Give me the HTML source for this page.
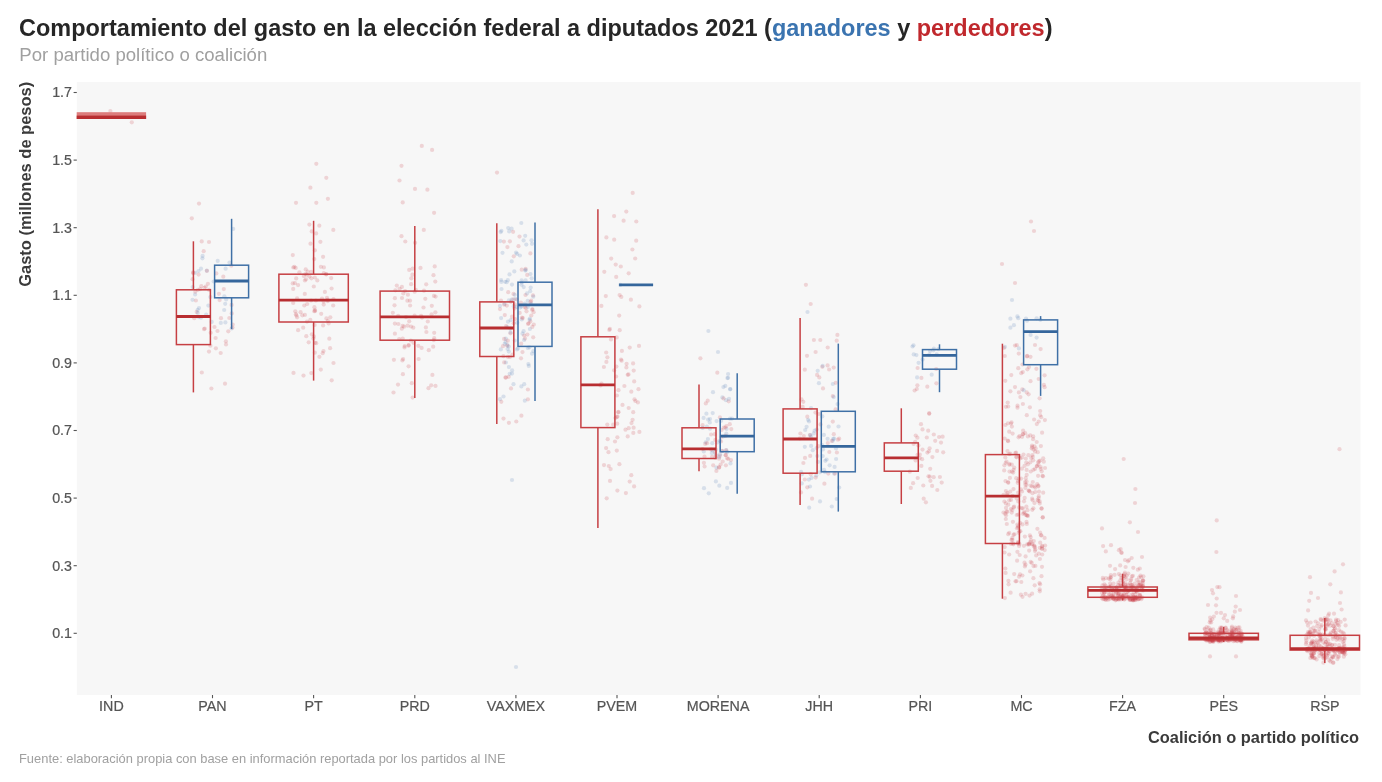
<!DOCTYPE html>
<html lang="es"><head><meta charset="utf-8"><title>Comportamiento del gasto</title>
<style>
html,body{margin:0;padding:0;background:#fff;overflow:hidden;}
svg{display:block;}
text{font-family:"Liberation Sans",Arial,Helvetica,sans-serif;}
.title{font-size:23px;font-weight:bold;fill:#262626;}
.sub{font-size:18px;fill:#a0a0a0;}
.ax{font-size:16px;font-weight:bold;fill:#3a3a3a;}
.cap{font-size:13px;fill:#a0a0a0;}
.tk{font-size:14px;fill:#555;stroke:#555;stroke-width:0.2px;}
</style></head><body>
<svg width="1382" height="782" viewBox="0 0 1382 782">
<rect x="0" y="0" width="1382" height="782" fill="#fff"/>
<rect x="76.8" y="82.0" width="1283.7" height="613.0" fill="#f7f7f7"/>
<line x1="73.6" y1="92.5" x2="76.8" y2="92.5" stroke="#555" stroke-width="1.1"/>
<text transform="translate(72.0,97.3) scale(1.02,1)" text-anchor="end" class="tk">1.7</text>
<line x1="73.6" y1="160.1" x2="76.8" y2="160.1" stroke="#555" stroke-width="1.1"/>
<text transform="translate(72.0,164.9) scale(1.02,1)" text-anchor="end" class="tk">1.5</text>
<line x1="73.6" y1="227.7" x2="76.8" y2="227.7" stroke="#555" stroke-width="1.1"/>
<text transform="translate(72.0,232.5) scale(1.02,1)" text-anchor="end" class="tk">1.3</text>
<line x1="73.6" y1="295.3" x2="76.8" y2="295.3" stroke="#555" stroke-width="1.1"/>
<text transform="translate(72.0,300.1) scale(1.02,1)" text-anchor="end" class="tk">1.1</text>
<line x1="73.6" y1="362.9" x2="76.8" y2="362.9" stroke="#555" stroke-width="1.1"/>
<text transform="translate(72.0,367.7) scale(1.02,1)" text-anchor="end" class="tk">0.9</text>
<line x1="73.6" y1="430.5" x2="76.8" y2="430.5" stroke="#555" stroke-width="1.1"/>
<text transform="translate(72.0,435.3) scale(1.02,1)" text-anchor="end" class="tk">0.7</text>
<line x1="73.6" y1="498.1" x2="76.8" y2="498.1" stroke="#555" stroke-width="1.1"/>
<text transform="translate(72.0,502.9) scale(1.02,1)" text-anchor="end" class="tk">0.5</text>
<line x1="73.6" y1="565.7" x2="76.8" y2="565.7" stroke="#555" stroke-width="1.1"/>
<text transform="translate(72.0,570.5) scale(1.02,1)" text-anchor="end" class="tk">0.3</text>
<line x1="73.6" y1="633.3" x2="76.8" y2="633.3" stroke="#555" stroke-width="1.1"/>
<text transform="translate(72.0,638.1) scale(1.02,1)" text-anchor="end" class="tk">0.1</text>
<line x1="111.4" y1="695.0" x2="111.4" y2="698.2" stroke="#555" stroke-width="1.1"/>
<text transform="translate(111.4,711.0) scale(1.02,1)" text-anchor="middle" class="tk">IND</text>
<line x1="212.5" y1="695.0" x2="212.5" y2="698.2" stroke="#555" stroke-width="1.1"/>
<text transform="translate(212.5,711.0) scale(1.02,1)" text-anchor="middle" class="tk">PAN</text>
<line x1="313.6" y1="695.0" x2="313.6" y2="698.2" stroke="#555" stroke-width="1.1"/>
<text transform="translate(313.6,711.0) scale(1.02,1)" text-anchor="middle" class="tk">PT</text>
<line x1="414.8" y1="695.0" x2="414.8" y2="698.2" stroke="#555" stroke-width="1.1"/>
<text transform="translate(414.8,711.0) scale(1.02,1)" text-anchor="middle" class="tk">PRD</text>
<line x1="515.9" y1="695.0" x2="515.9" y2="698.2" stroke="#555" stroke-width="1.1"/>
<text transform="translate(515.9,711.0) scale(1.02,1)" text-anchor="middle" class="tk">VAXMEX</text>
<line x1="617.0" y1="695.0" x2="617.0" y2="698.2" stroke="#555" stroke-width="1.1"/>
<text transform="translate(617.0,711.0) scale(1.02,1)" text-anchor="middle" class="tk">PVEM</text>
<line x1="718.1" y1="695.0" x2="718.1" y2="698.2" stroke="#555" stroke-width="1.1"/>
<text transform="translate(718.1,711.0) scale(1.02,1)" text-anchor="middle" class="tk">MORENA</text>
<line x1="819.2" y1="695.0" x2="819.2" y2="698.2" stroke="#555" stroke-width="1.1"/>
<text transform="translate(819.2,711.0) scale(1.02,1)" text-anchor="middle" class="tk">JHH</text>
<line x1="920.4" y1="695.0" x2="920.4" y2="698.2" stroke="#555" stroke-width="1.1"/>
<text transform="translate(920.4,711.0) scale(1.02,1)" text-anchor="middle" class="tk">PRI</text>
<line x1="1021.5" y1="695.0" x2="1021.5" y2="698.2" stroke="#555" stroke-width="1.1"/>
<text transform="translate(1021.5,711.0) scale(1.02,1)" text-anchor="middle" class="tk">MC</text>
<line x1="1122.6" y1="695.0" x2="1122.6" y2="698.2" stroke="#555" stroke-width="1.1"/>
<text transform="translate(1122.6,711.0) scale(1.02,1)" text-anchor="middle" class="tk">FZA</text>
<line x1="1223.7" y1="695.0" x2="1223.7" y2="698.2" stroke="#555" stroke-width="1.1"/>
<text transform="translate(1223.7,711.0) scale(1.02,1)" text-anchor="middle" class="tk">PES</text>
<line x1="1324.8" y1="695.0" x2="1324.8" y2="698.2" stroke="#555" stroke-width="1.1"/>
<text transform="translate(1324.8,711.0) scale(1.02,1)" text-anchor="middle" class="tk">RSP</text>
<g>
<circle cx="333.3" cy="229.9" r="2.1" fill="#cc3a44" fill-opacity="0.19"/>
<circle cx="1314.6" cy="648.6" r="2.1" fill="#cc3a44" fill-opacity="0.19"/>
<circle cx="1210.8" cy="629.7" r="2.1" fill="#cc3a44" fill-opacity="0.19"/>
<circle cx="1028.4" cy="455.2" r="2.1" fill="#cc3a44" fill-opacity="0.19"/>
<circle cx="1041.4" cy="535.3" r="2.1" fill="#cc3a44" fill-opacity="0.19"/>
<circle cx="1206.7" cy="640.7" r="2.1" fill="#cc3a44" fill-opacity="0.19"/>
<circle cx="932.1" cy="485.9" r="2.1" fill="#cc3a44" fill-opacity="0.19"/>
<circle cx="403.1" cy="359.1" r="2.1" fill="#cc3a44" fill-opacity="0.19"/>
<circle cx="528.8" cy="365.9" r="2.1" fill="#4f7bb3" fill-opacity="0.19"/>
<circle cx="226.2" cy="299.5" r="2.1" fill="#4f7bb3" fill-opacity="0.19"/>
<circle cx="1218.6" cy="640.1" r="2.1" fill="#cc3a44" fill-opacity="0.19"/>
<circle cx="1212.1" cy="640.0" r="2.1" fill="#cc3a44" fill-opacity="0.19"/>
<circle cx="715.5" cy="453.9" r="2.1" fill="#4f7bb3" fill-opacity="0.19"/>
<circle cx="519.7" cy="312.9" r="2.1" fill="#cc3a44" fill-opacity="0.19"/>
<circle cx="1345.3" cy="654.3" r="2.1" fill="#cc3a44" fill-opacity="0.19"/>
<circle cx="506.1" cy="326.1" r="2.1" fill="#cc3a44" fill-opacity="0.19"/>
<circle cx="702.6" cy="449.0" r="2.1" fill="#cc3a44" fill-opacity="0.19"/>
<circle cx="225.2" cy="303.8" r="2.1" fill="#4f7bb3" fill-opacity="0.19"/>
<circle cx="1114.5" cy="597.4" r="2.1" fill="#cc3a44" fill-opacity="0.19"/>
<circle cx="1334.3" cy="649.2" r="2.1" fill="#cc3a44" fill-opacity="0.19"/>
<circle cx="708.1" cy="419.6" r="2.1" fill="#4f7bb3" fill-opacity="0.19"/>
<circle cx="1010.6" cy="592.7" r="2.1" fill="#cc3a44" fill-opacity="0.19"/>
<circle cx="1206.1" cy="638.5" r="2.1" fill="#cc3a44" fill-opacity="0.19"/>
<circle cx="634.1" cy="486.4" r="2.1" fill="#cc3a44" fill-opacity="0.19"/>
<circle cx="1038.3" cy="500.9" r="2.1" fill="#cc3a44" fill-opacity="0.19"/>
<circle cx="1116.5" cy="592.2" r="2.1" fill="#cc3a44" fill-opacity="0.19"/>
<circle cx="836.9" cy="452.5" r="2.1" fill="#cc3a44" fill-opacity="0.19"/>
<circle cx="818.9" cy="383.2" r="2.1" fill="#4f7bb3" fill-opacity="0.19"/>
<circle cx="521.5" cy="306.6" r="2.1" fill="#4f7bb3" fill-opacity="0.19"/>
<circle cx="1212.2" cy="619.3" r="2.1" fill="#cc3a44" fill-opacity="0.19"/>
<circle cx="295.7" cy="267.9" r="2.1" fill="#cc3a44" fill-opacity="0.19"/>
<circle cx="1210.4" cy="641.9" r="2.1" fill="#cc3a44" fill-opacity="0.19"/>
<circle cx="214.5" cy="327.0" r="2.1" fill="#cc3a44" fill-opacity="0.19"/>
<circle cx="1039.8" cy="547.8" r="2.1" fill="#cc3a44" fill-opacity="0.19"/>
<circle cx="803.4" cy="463.0" r="2.1" fill="#cc3a44" fill-opacity="0.19"/>
<circle cx="936.2" cy="369.0" r="2.1" fill="#cc3a44" fill-opacity="0.19"/>
<circle cx="329.3" cy="338.7" r="2.1" fill="#cc3a44" fill-opacity="0.19"/>
<circle cx="231.6" cy="328.5" r="2.1" fill="#4f7bb3" fill-opacity="0.19"/>
<circle cx="1031.7" cy="448.4" r="2.1" fill="#cc3a44" fill-opacity="0.19"/>
<circle cx="1040.2" cy="460.6" r="2.1" fill="#cc3a44" fill-opacity="0.19"/>
<circle cx="1111.2" cy="595.2" r="2.1" fill="#cc3a44" fill-opacity="0.19"/>
<circle cx="1340.4" cy="652.1" r="2.1" fill="#cc3a44" fill-opacity="0.19"/>
<circle cx="1031.0" cy="221.5" r="2.1" fill="#cc3a44" fill-opacity="0.19"/>
<circle cx="1115.1" cy="569.1" r="2.1" fill="#cc3a44" fill-opacity="0.19"/>
<circle cx="1009.2" cy="554.5" r="2.1" fill="#cc3a44" fill-opacity="0.19"/>
<circle cx="811.5" cy="477.9" r="2.1" fill="#4f7bb3" fill-opacity="0.19"/>
<circle cx="703.9" cy="462.8" r="2.1" fill="#cc3a44" fill-opacity="0.19"/>
<circle cx="1103.1" cy="595.6" r="2.1" fill="#cc3a44" fill-opacity="0.19"/>
<circle cx="723.6" cy="436.3" r="2.1" fill="#4f7bb3" fill-opacity="0.19"/>
<circle cx="910.8" cy="487.9" r="2.1" fill="#cc3a44" fill-opacity="0.19"/>
<circle cx="1132.9" cy="575.8" r="2.1" fill="#cc3a44" fill-opacity="0.19"/>
<circle cx="1326.1" cy="648.7" r="2.1" fill="#cc3a44" fill-opacity="0.19"/>
<circle cx="1214.6" cy="639.9" r="2.1" fill="#cc3a44" fill-opacity="0.19"/>
<circle cx="1032.2" cy="446.9" r="2.1" fill="#cc3a44" fill-opacity="0.19"/>
<circle cx="1019.5" cy="544.0" r="2.1" fill="#cc3a44" fill-opacity="0.19"/>
<circle cx="1022.5" cy="596.8" r="2.1" fill="#cc3a44" fill-opacity="0.19"/>
<circle cx="317.3" cy="280.4" r="2.1" fill="#cc3a44" fill-opacity="0.19"/>
<circle cx="728.7" cy="401.3" r="2.1" fill="#cc3a44" fill-opacity="0.19"/>
<circle cx="1025.5" cy="564.7" r="2.1" fill="#cc3a44" fill-opacity="0.19"/>
<circle cx="1018.3" cy="368.2" r="2.1" fill="#cc3a44" fill-opacity="0.19"/>
<circle cx="326.2" cy="274.2" r="2.1" fill="#cc3a44" fill-opacity="0.19"/>
<circle cx="513.9" cy="306.2" r="2.1" fill="#4f7bb3" fill-opacity="0.19"/>
<circle cx="1126.4" cy="587.4" r="2.1" fill="#cc3a44" fill-opacity="0.19"/>
<circle cx="311.3" cy="373.1" r="2.1" fill="#cc3a44" fill-opacity="0.19"/>
<circle cx="816.6" cy="448.1" r="2.1" fill="#4f7bb3" fill-opacity="0.19"/>
<circle cx="617.4" cy="490.6" r="2.1" fill="#cc3a44" fill-opacity="0.19"/>
<circle cx="1340.0" cy="603.0" r="2.1" fill="#cc3a44" fill-opacity="0.19"/>
<circle cx="1033.4" cy="578.2" r="2.1" fill="#cc3a44" fill-opacity="0.19"/>
<circle cx="1018.3" cy="501.4" r="2.1" fill="#cc3a44" fill-opacity="0.19"/>
<circle cx="1334.6" cy="571.4" r="2.1" fill="#cc3a44" fill-opacity="0.19"/>
<circle cx="1003.5" cy="512.6" r="2.1" fill="#cc3a44" fill-opacity="0.19"/>
<circle cx="1320.6" cy="634.8" r="2.1" fill="#cc3a44" fill-opacity="0.19"/>
<circle cx="719.1" cy="467.4" r="2.1" fill="#cc3a44" fill-opacity="0.19"/>
<circle cx="1118.2" cy="595.7" r="2.1" fill="#cc3a44" fill-opacity="0.19"/>
<circle cx="1117.6" cy="599.1" r="2.1" fill="#cc3a44" fill-opacity="0.19"/>
<circle cx="1216.4" cy="552.0" r="2.1" fill="#cc3a44" fill-opacity="0.19"/>
<circle cx="517.9" cy="348.5" r="2.1" fill="#4f7bb3" fill-opacity="0.19"/>
<circle cx="610.0" cy="480.9" r="2.1" fill="#cc3a44" fill-opacity="0.19"/>
<circle cx="1231.2" cy="630.1" r="2.1" fill="#cc3a44" fill-opacity="0.19"/>
<circle cx="1307.4" cy="651.2" r="2.1" fill="#cc3a44" fill-opacity="0.19"/>
<circle cx="1007.9" cy="423.3" r="2.1" fill="#cc3a44" fill-opacity="0.19"/>
<circle cx="1237.8" cy="638.8" r="2.1" fill="#cc3a44" fill-opacity="0.19"/>
<circle cx="1022.0" cy="491.5" r="2.1" fill="#cc3a44" fill-opacity="0.19"/>
<circle cx="919.7" cy="458.0" r="2.1" fill="#cc3a44" fill-opacity="0.19"/>
<circle cx="1207.5" cy="639.2" r="2.1" fill="#cc3a44" fill-opacity="0.19"/>
<circle cx="1032.0" cy="445.5" r="2.1" fill="#cc3a44" fill-opacity="0.19"/>
<circle cx="532.4" cy="309.0" r="2.1" fill="#cc3a44" fill-opacity="0.19"/>
<circle cx="1021.3" cy="582.0" r="2.1" fill="#cc3a44" fill-opacity="0.19"/>
<circle cx="295.3" cy="311.3" r="2.1" fill="#cc3a44" fill-opacity="0.19"/>
<circle cx="805.0" cy="457.9" r="2.1" fill="#cc3a44" fill-opacity="0.19"/>
<circle cx="1345.6" cy="650.0" r="2.1" fill="#cc3a44" fill-opacity="0.19"/>
<circle cx="1004.9" cy="346.9" r="2.1" fill="#4f7bb3" fill-opacity="0.19"/>
<circle cx="1113.5" cy="583.6" r="2.1" fill="#cc3a44" fill-opacity="0.19"/>
<circle cx="308.7" cy="342.3" r="2.1" fill="#cc3a44" fill-opacity="0.19"/>
<circle cx="1342.2" cy="652.4" r="2.1" fill="#cc3a44" fill-opacity="0.19"/>
<circle cx="1032.7" cy="500.2" r="2.1" fill="#cc3a44" fill-opacity="0.19"/>
<circle cx="1322.0" cy="648.2" r="2.1" fill="#cc3a44" fill-opacity="0.19"/>
<circle cx="435.3" cy="281.6" r="2.1" fill="#cc3a44" fill-opacity="0.19"/>
<circle cx="928.5" cy="476.3" r="2.1" fill="#cc3a44" fill-opacity="0.19"/>
<circle cx="727.1" cy="452.1" r="2.1" fill="#4f7bb3" fill-opacity="0.19"/>
<circle cx="1119.6" cy="591.8" r="2.1" fill="#cc3a44" fill-opacity="0.19"/>
<circle cx="1218.2" cy="640.4" r="2.1" fill="#cc3a44" fill-opacity="0.19"/>
<circle cx="225.9" cy="341.3" r="2.1" fill="#cc3a44" fill-opacity="0.19"/>
<circle cx="307.0" cy="321.6" r="2.1" fill="#cc3a44" fill-opacity="0.19"/>
<circle cx="1004.2" cy="470.4" r="2.1" fill="#cc3a44" fill-opacity="0.19"/>
<circle cx="1135.0" cy="600.0" r="2.1" fill="#cc3a44" fill-opacity="0.19"/>
<circle cx="1224.6" cy="633.0" r="2.1" fill="#cc3a44" fill-opacity="0.19"/>
<circle cx="426.4" cy="332.0" r="2.1" fill="#cc3a44" fill-opacity="0.19"/>
<circle cx="1325.1" cy="643.8" r="2.1" fill="#cc3a44" fill-opacity="0.19"/>
<circle cx="1211.8" cy="638.6" r="2.1" fill="#cc3a44" fill-opacity="0.19"/>
<circle cx="1231.0" cy="638.3" r="2.1" fill="#cc3a44" fill-opacity="0.19"/>
<circle cx="936.4" cy="383.3" r="2.1" fill="#cc3a44" fill-opacity="0.19"/>
<circle cx="1029.0" cy="543.5" r="2.1" fill="#cc3a44" fill-opacity="0.19"/>
<circle cx="1105.8" cy="551.4" r="2.1" fill="#cc3a44" fill-opacity="0.19"/>
<circle cx="502.5" cy="252.8" r="2.1" fill="#4f7bb3" fill-opacity="0.19"/>
<circle cx="1313.4" cy="627.7" r="2.1" fill="#cc3a44" fill-opacity="0.19"/>
<circle cx="1312.1" cy="656.8" r="2.1" fill="#cc3a44" fill-opacity="0.19"/>
<circle cx="715.9" cy="481.4" r="2.1" fill="#4f7bb3" fill-opacity="0.19"/>
<circle cx="1038.4" cy="486.4" r="2.1" fill="#cc3a44" fill-opacity="0.19"/>
<circle cx="395.4" cy="290.3" r="2.1" fill="#cc3a44" fill-opacity="0.19"/>
<circle cx="801.1" cy="471.8" r="2.1" fill="#4f7bb3" fill-opacity="0.19"/>
<circle cx="1135.7" cy="586.5" r="2.1" fill="#cc3a44" fill-opacity="0.19"/>
<circle cx="425.9" cy="327.4" r="2.1" fill="#cc3a44" fill-opacity="0.19"/>
<circle cx="1142.0" cy="557.0" r="2.1" fill="#cc3a44" fill-opacity="0.19"/>
<circle cx="1009.9" cy="477.9" r="2.1" fill="#cc3a44" fill-opacity="0.19"/>
<circle cx="293.3" cy="267.5" r="2.1" fill="#cc3a44" fill-opacity="0.19"/>
<circle cx="1123.4" cy="583.7" r="2.1" fill="#cc3a44" fill-opacity="0.19"/>
<circle cx="529.6" cy="319.8" r="2.1" fill="#4f7bb3" fill-opacity="0.19"/>
<circle cx="1323.4" cy="620.7" r="2.1" fill="#cc3a44" fill-opacity="0.19"/>
<circle cx="1024.9" cy="566.4" r="2.1" fill="#cc3a44" fill-opacity="0.19"/>
<circle cx="1042.7" cy="517.6" r="2.1" fill="#cc3a44" fill-opacity="0.19"/>
<circle cx="1125.6" cy="567.0" r="2.1" fill="#cc3a44" fill-opacity="0.19"/>
<circle cx="832.8" cy="421.6" r="2.1" fill="#cc3a44" fill-opacity="0.19"/>
<circle cx="625.9" cy="493.1" r="2.1" fill="#cc3a44" fill-opacity="0.19"/>
<circle cx="1034.8" cy="547.3" r="2.1" fill="#cc3a44" fill-opacity="0.19"/>
<circle cx="1327.1" cy="626.0" r="2.1" fill="#cc3a44" fill-opacity="0.19"/>
<circle cx="1030.3" cy="435.4" r="2.1" fill="#cc3a44" fill-opacity="0.19"/>
<circle cx="1041.7" cy="471.3" r="2.1" fill="#cc3a44" fill-opacity="0.19"/>
<circle cx="1209.8" cy="637.2" r="2.1" fill="#cc3a44" fill-opacity="0.19"/>
<circle cx="521.5" cy="284.7" r="2.1" fill="#4f7bb3" fill-opacity="0.19"/>
<circle cx="296.4" cy="315.4" r="2.1" fill="#cc3a44" fill-opacity="0.19"/>
<circle cx="1310.7" cy="635.1" r="2.1" fill="#cc3a44" fill-opacity="0.19"/>
<circle cx="1234.2" cy="639.0" r="2.1" fill="#cc3a44" fill-opacity="0.19"/>
<circle cx="1340.1" cy="648.8" r="2.1" fill="#cc3a44" fill-opacity="0.19"/>
<circle cx="1017.9" cy="543.6" r="2.1" fill="#cc3a44" fill-opacity="0.19"/>
<circle cx="909.8" cy="471.7" r="2.1" fill="#cc3a44" fill-opacity="0.19"/>
<circle cx="1105.9" cy="599.8" r="2.1" fill="#cc3a44" fill-opacity="0.19"/>
<circle cx="607.7" cy="439.2" r="2.1" fill="#cc3a44" fill-opacity="0.19"/>
<circle cx="1310.6" cy="653.0" r="2.1" fill="#cc3a44" fill-opacity="0.19"/>
<circle cx="1126.7" cy="579.3" r="2.1" fill="#cc3a44" fill-opacity="0.19"/>
<circle cx="315.0" cy="342.8" r="2.1" fill="#cc3a44" fill-opacity="0.19"/>
<circle cx="818.3" cy="446.2" r="2.1" fill="#cc3a44" fill-opacity="0.19"/>
<circle cx="327.7" cy="301.1" r="2.1" fill="#cc3a44" fill-opacity="0.19"/>
<circle cx="1134.0" cy="592.2" r="2.1" fill="#cc3a44" fill-opacity="0.19"/>
<circle cx="404.1" cy="326.7" r="2.1" fill="#cc3a44" fill-opacity="0.19"/>
<circle cx="1334.9" cy="634.8" r="2.1" fill="#cc3a44" fill-opacity="0.19"/>
<circle cx="1121.6" cy="553.0" r="2.1" fill="#cc3a44" fill-opacity="0.19"/>
<circle cx="1004.4" cy="465.3" r="2.1" fill="#cc3a44" fill-opacity="0.19"/>
<circle cx="1030.7" cy="537.1" r="2.1" fill="#cc3a44" fill-opacity="0.19"/>
<circle cx="1024.5" cy="562.7" r="2.1" fill="#cc3a44" fill-opacity="0.19"/>
<circle cx="1343.7" cy="650.0" r="2.1" fill="#cc3a44" fill-opacity="0.19"/>
<circle cx="936.7" cy="354.4" r="2.1" fill="#4f7bb3" fill-opacity="0.19"/>
<circle cx="1133.2" cy="600.5" r="2.1" fill="#cc3a44" fill-opacity="0.19"/>
<circle cx="1032.8" cy="456.9" r="2.1" fill="#cc3a44" fill-opacity="0.19"/>
<circle cx="1239.1" cy="639.6" r="2.1" fill="#cc3a44" fill-opacity="0.19"/>
<circle cx="433.2" cy="346.7" r="2.1" fill="#cc3a44" fill-opacity="0.19"/>
<circle cx="224.4" cy="296.3" r="2.1" fill="#4f7bb3" fill-opacity="0.19"/>
<circle cx="1003.5" cy="494.9" r="2.1" fill="#cc3a44" fill-opacity="0.19"/>
<circle cx="716.4" cy="467.6" r="2.1" fill="#4f7bb3" fill-opacity="0.19"/>
<circle cx="411.8" cy="383.2" r="2.1" fill="#cc3a44" fill-opacity="0.19"/>
<circle cx="1040.6" cy="349.1" r="2.1" fill="#cc3a44" fill-opacity="0.19"/>
<circle cx="1234.7" cy="639.5" r="2.1" fill="#cc3a44" fill-opacity="0.19"/>
<circle cx="834.1" cy="473.6" r="2.1" fill="#4f7bb3" fill-opacity="0.19"/>
<circle cx="1309.4" cy="650.0" r="2.1" fill="#cc3a44" fill-opacity="0.19"/>
<circle cx="1137.4" cy="588.7" r="2.1" fill="#cc3a44" fill-opacity="0.19"/>
<circle cx="722.2" cy="451.0" r="2.1" fill="#4f7bb3" fill-opacity="0.19"/>
<circle cx="725.8" cy="455.2" r="2.1" fill="#cc3a44" fill-opacity="0.19"/>
<circle cx="1019.4" cy="456.0" r="2.1" fill="#cc3a44" fill-opacity="0.19"/>
<circle cx="506.0" cy="377.4" r="2.1" fill="#cc3a44" fill-opacity="0.19"/>
<circle cx="1320.8" cy="646.4" r="2.1" fill="#cc3a44" fill-opacity="0.19"/>
<circle cx="1011.5" cy="539.9" r="2.1" fill="#cc3a44" fill-opacity="0.19"/>
<circle cx="201.3" cy="286.2" r="2.1" fill="#cc3a44" fill-opacity="0.19"/>
<circle cx="722.4" cy="397.4" r="2.1" fill="#4f7bb3" fill-opacity="0.19"/>
<circle cx="633.6" cy="427.7" r="2.1" fill="#cc3a44" fill-opacity="0.19"/>
<circle cx="521.8" cy="319.4" r="2.1" fill="#4f7bb3" fill-opacity="0.19"/>
<circle cx="704.5" cy="456.7" r="2.1" fill="#cc3a44" fill-opacity="0.19"/>
<circle cx="1204.9" cy="629.6" r="2.1" fill="#cc3a44" fill-opacity="0.19"/>
<circle cx="1027.2" cy="355.9" r="2.1" fill="#cc3a44" fill-opacity="0.19"/>
<circle cx="1135.4" cy="489.0" r="2.1" fill="#cc3a44" fill-opacity="0.19"/>
<circle cx="1135.6" cy="597.9" r="2.1" fill="#cc3a44" fill-opacity="0.19"/>
<circle cx="1311.5" cy="655.5" r="2.1" fill="#cc3a44" fill-opacity="0.19"/>
<circle cx="306.0" cy="279.3" r="2.1" fill="#cc3a44" fill-opacity="0.19"/>
<circle cx="402.6" cy="325.9" r="2.1" fill="#cc3a44" fill-opacity="0.19"/>
<circle cx="727.4" cy="378.1" r="2.1" fill="#4f7bb3" fill-opacity="0.19"/>
<circle cx="1332.9" cy="657.3" r="2.1" fill="#cc3a44" fill-opacity="0.19"/>
<circle cx="1212.4" cy="639.7" r="2.1" fill="#cc3a44" fill-opacity="0.19"/>
<circle cx="1232.0" cy="632.0" r="2.1" fill="#cc3a44" fill-opacity="0.19"/>
<circle cx="1232.5" cy="634.8" r="2.1" fill="#cc3a44" fill-opacity="0.19"/>
<circle cx="306.3" cy="336.2" r="2.1" fill="#cc3a44" fill-opacity="0.19"/>
<circle cx="1005.7" cy="463.0" r="2.1" fill="#cc3a44" fill-opacity="0.19"/>
<circle cx="518.5" cy="246.2" r="2.1" fill="#cc3a44" fill-opacity="0.19"/>
<circle cx="232.5" cy="327.6" r="2.1" fill="#cc3a44" fill-opacity="0.19"/>
<circle cx="210.7" cy="332.8" r="2.1" fill="#cc3a44" fill-opacity="0.19"/>
<circle cx="1217.0" cy="639.8" r="2.1" fill="#cc3a44" fill-opacity="0.19"/>
<circle cx="521.0" cy="358.3" r="2.1" fill="#cc3a44" fill-opacity="0.19"/>
<circle cx="309.4" cy="276.5" r="2.1" fill="#cc3a44" fill-opacity="0.19"/>
<circle cx="1131.2" cy="579.1" r="2.1" fill="#cc3a44" fill-opacity="0.19"/>
<circle cx="1211.2" cy="622.5" r="2.1" fill="#cc3a44" fill-opacity="0.19"/>
<circle cx="1223.8" cy="618.3" r="2.1" fill="#cc3a44" fill-opacity="0.19"/>
<circle cx="1214.6" cy="636.4" r="2.1" fill="#cc3a44" fill-opacity="0.19"/>
<circle cx="1132.9" cy="599.1" r="2.1" fill="#cc3a44" fill-opacity="0.19"/>
<circle cx="1141.3" cy="586.0" r="2.1" fill="#cc3a44" fill-opacity="0.19"/>
<circle cx="1133.3" cy="567.8" r="2.1" fill="#cc3a44" fill-opacity="0.19"/>
<circle cx="525.5" cy="295.0" r="2.1" fill="#cc3a44" fill-opacity="0.19"/>
<circle cx="401.5" cy="165.8" r="2.1" fill="#cc3a44" fill-opacity="0.19"/>
<circle cx="1327.7" cy="653.2" r="2.1" fill="#cc3a44" fill-opacity="0.19"/>
<circle cx="712.3" cy="443.2" r="2.1" fill="#4f7bb3" fill-opacity="0.19"/>
<circle cx="407.6" cy="325.7" r="2.1" fill="#cc3a44" fill-opacity="0.19"/>
<circle cx="1018.9" cy="348.4" r="2.1" fill="#4f7bb3" fill-opacity="0.19"/>
<circle cx="1132.8" cy="600.0" r="2.1" fill="#cc3a44" fill-opacity="0.19"/>
<circle cx="1311.3" cy="643.9" r="2.1" fill="#cc3a44" fill-opacity="0.19"/>
<circle cx="1036.9" cy="466.0" r="2.1" fill="#cc3a44" fill-opacity="0.19"/>
<circle cx="1039.0" cy="461.2" r="2.1" fill="#cc3a44" fill-opacity="0.19"/>
<circle cx="1124.8" cy="587.3" r="2.1" fill="#cc3a44" fill-opacity="0.19"/>
<circle cx="1329.4" cy="660.4" r="2.1" fill="#cc3a44" fill-opacity="0.19"/>
<circle cx="1007.4" cy="511.7" r="2.1" fill="#cc3a44" fill-opacity="0.19"/>
<circle cx="519.9" cy="255.5" r="2.1" fill="#4f7bb3" fill-opacity="0.19"/>
<circle cx="1308.2" cy="633.8" r="2.1" fill="#cc3a44" fill-opacity="0.19"/>
<circle cx="1205.2" cy="636.5" r="2.1" fill="#cc3a44" fill-opacity="0.19"/>
<circle cx="729.8" cy="424.2" r="2.1" fill="#cc3a44" fill-opacity="0.19"/>
<circle cx="1344.0" cy="644.3" r="2.1" fill="#cc3a44" fill-opacity="0.19"/>
<circle cx="1032.4" cy="455.0" r="2.1" fill="#cc3a44" fill-opacity="0.19"/>
<circle cx="1321.9" cy="639.2" r="2.1" fill="#cc3a44" fill-opacity="0.19"/>
<circle cx="524.8" cy="303.5" r="2.1" fill="#4f7bb3" fill-opacity="0.19"/>
<circle cx="503.5" cy="418.6" r="2.1" fill="#cc3a44" fill-opacity="0.19"/>
<circle cx="304.9" cy="280.5" r="2.1" fill="#cc3a44" fill-opacity="0.19"/>
<circle cx="1005.8" cy="519.0" r="2.1" fill="#cc3a44" fill-opacity="0.19"/>
<circle cx="731.3" cy="429.1" r="2.1" fill="#cc3a44" fill-opacity="0.19"/>
<circle cx="619.7" cy="330.2" r="2.1" fill="#cc3a44" fill-opacity="0.19"/>
<circle cx="1335.6" cy="623.9" r="2.1" fill="#cc3a44" fill-opacity="0.19"/>
<circle cx="1344.2" cy="649.2" r="2.1" fill="#cc3a44" fill-opacity="0.19"/>
<circle cx="917.7" cy="478.0" r="2.1" fill="#cc3a44" fill-opacity="0.19"/>
<circle cx="1344.1" cy="637.9" r="2.1" fill="#cc3a44" fill-opacity="0.19"/>
<circle cx="532.3" cy="326.9" r="2.1" fill="#cc3a44" fill-opacity="0.19"/>
<circle cx="800.4" cy="433.5" r="2.1" fill="#cc3a44" fill-opacity="0.19"/>
<circle cx="313.8" cy="286.5" r="2.1" fill="#cc3a44" fill-opacity="0.19"/>
<circle cx="1123.5" cy="593.0" r="2.1" fill="#cc3a44" fill-opacity="0.19"/>
<circle cx="1022.3" cy="389.4" r="2.1" fill="#cc3a44" fill-opacity="0.19"/>
<circle cx="1033.5" cy="566.1" r="2.1" fill="#cc3a44" fill-opacity="0.19"/>
<circle cx="1139.0" cy="589.6" r="2.1" fill="#cc3a44" fill-opacity="0.19"/>
<circle cx="1225.5" cy="628.1" r="2.1" fill="#cc3a44" fill-opacity="0.19"/>
<circle cx="729.0" cy="398.8" r="2.1" fill="#4f7bb3" fill-opacity="0.19"/>
<circle cx="1312.5" cy="649.2" r="2.1" fill="#cc3a44" fill-opacity="0.19"/>
<circle cx="1321.7" cy="625.2" r="2.1" fill="#cc3a44" fill-opacity="0.19"/>
<circle cx="705.8" cy="403.4" r="2.1" fill="#cc3a44" fill-opacity="0.19"/>
<circle cx="807.5" cy="312.0" r="2.1" fill="#4f7bb3" fill-opacity="0.19"/>
<circle cx="1313.3" cy="647.7" r="2.1" fill="#cc3a44" fill-opacity="0.19"/>
<circle cx="531.7" cy="278.3" r="2.1" fill="#4f7bb3" fill-opacity="0.19"/>
<circle cx="215.9" cy="348.3" r="2.1" fill="#cc3a44" fill-opacity="0.19"/>
<circle cx="712.1" cy="456.8" r="2.1" fill="#cc3a44" fill-opacity="0.19"/>
<circle cx="1038.8" cy="553.7" r="2.1" fill="#cc3a44" fill-opacity="0.19"/>
<circle cx="1104.2" cy="593.3" r="2.1" fill="#cc3a44" fill-opacity="0.19"/>
<circle cx="725.6" cy="455.0" r="2.1" fill="#cc3a44" fill-opacity="0.19"/>
<circle cx="1115.4" cy="600.3" r="2.1" fill="#cc3a44" fill-opacity="0.19"/>
<circle cx="509.2" cy="231.4" r="2.1" fill="#4f7bb3" fill-opacity="0.19"/>
<circle cx="1340.7" cy="621.9" r="2.1" fill="#cc3a44" fill-opacity="0.19"/>
<circle cx="1310.3" cy="649.5" r="2.1" fill="#cc3a44" fill-opacity="0.19"/>
<circle cx="637.9" cy="402.4" r="2.1" fill="#cc3a44" fill-opacity="0.19"/>
<circle cx="1309.6" cy="646.1" r="2.1" fill="#cc3a44" fill-opacity="0.19"/>
<circle cx="1312.3" cy="655.9" r="2.1" fill="#cc3a44" fill-opacity="0.19"/>
<circle cx="294.3" cy="266.9" r="2.1" fill="#cc3a44" fill-opacity="0.19"/>
<circle cx="1108.4" cy="592.8" r="2.1" fill="#cc3a44" fill-opacity="0.19"/>
<circle cx="1228.7" cy="638.3" r="2.1" fill="#cc3a44" fill-opacity="0.19"/>
<circle cx="220.8" cy="322.9" r="2.1" fill="#4f7bb3" fill-opacity="0.19"/>
<circle cx="1221.1" cy="640.0" r="2.1" fill="#cc3a44" fill-opacity="0.19"/>
<circle cx="327.0" cy="297.8" r="2.1" fill="#cc3a44" fill-opacity="0.19"/>
<circle cx="323.6" cy="301.5" r="2.1" fill="#cc3a44" fill-opacity="0.19"/>
<circle cx="1343.0" cy="564.3" r="2.1" fill="#cc3a44" fill-opacity="0.19"/>
<circle cx="1101.7" cy="597.9" r="2.1" fill="#cc3a44" fill-opacity="0.19"/>
<circle cx="921.4" cy="377.9" r="2.1" fill="#cc3a44" fill-opacity="0.19"/>
<circle cx="922.5" cy="429.4" r="2.1" fill="#cc3a44" fill-opacity="0.19"/>
<circle cx="316.2" cy="343.2" r="2.1" fill="#cc3a44" fill-opacity="0.19"/>
<circle cx="229.5" cy="262.5" r="2.1" fill="#4f7bb3" fill-opacity="0.19"/>
<circle cx="633.2" cy="412.2" r="2.1" fill="#cc3a44" fill-opacity="0.19"/>
<circle cx="1024.5" cy="513.2" r="2.1" fill="#cc3a44" fill-opacity="0.19"/>
<circle cx="530.2" cy="291.2" r="2.1" fill="#4f7bb3" fill-opacity="0.19"/>
<circle cx="631.5" cy="423.1" r="2.1" fill="#cc3a44" fill-opacity="0.19"/>
<circle cx="225.4" cy="322.4" r="2.1" fill="#4f7bb3" fill-opacity="0.19"/>
<circle cx="421.6" cy="347.9" r="2.1" fill="#cc3a44" fill-opacity="0.19"/>
<circle cx="1117.4" cy="598.5" r="2.1" fill="#cc3a44" fill-opacity="0.19"/>
<circle cx="1107.9" cy="599.8" r="2.1" fill="#cc3a44" fill-opacity="0.19"/>
<circle cx="1134.7" cy="583.7" r="2.1" fill="#cc3a44" fill-opacity="0.19"/>
<circle cx="1131.3" cy="594.8" r="2.1" fill="#cc3a44" fill-opacity="0.19"/>
<circle cx="225.6" cy="268.7" r="2.1" fill="#4f7bb3" fill-opacity="0.19"/>
<circle cx="1229.6" cy="640.1" r="2.1" fill="#cc3a44" fill-opacity="0.19"/>
<circle cx="1026.6" cy="469.9" r="2.1" fill="#cc3a44" fill-opacity="0.19"/>
<circle cx="1240.6" cy="639.9" r="2.1" fill="#cc3a44" fill-opacity="0.19"/>
<circle cx="1029.3" cy="544.2" r="2.1" fill="#cc3a44" fill-opacity="0.19"/>
<circle cx="1137.4" cy="597.3" r="2.1" fill="#cc3a44" fill-opacity="0.19"/>
<circle cx="508.0" cy="321.7" r="2.1" fill="#4f7bb3" fill-opacity="0.19"/>
<circle cx="1132.3" cy="587.3" r="2.1" fill="#cc3a44" fill-opacity="0.19"/>
<circle cx="632.7" cy="192.9" r="2.1" fill="#cc3a44" fill-opacity="0.19"/>
<circle cx="295.9" cy="314.2" r="2.1" fill="#cc3a44" fill-opacity="0.19"/>
<circle cx="1323.4" cy="648.3" r="2.1" fill="#cc3a44" fill-opacity="0.19"/>
<circle cx="1109.6" cy="597.2" r="2.1" fill="#cc3a44" fill-opacity="0.19"/>
<circle cx="616.9" cy="395.5" r="2.1" fill="#cc3a44" fill-opacity="0.19"/>
<circle cx="515.1" cy="319.1" r="2.1" fill="#cc3a44" fill-opacity="0.19"/>
<circle cx="521.2" cy="343.7" r="2.1" fill="#cc3a44" fill-opacity="0.19"/>
<circle cx="1238.8" cy="633.0" r="2.1" fill="#cc3a44" fill-opacity="0.19"/>
<circle cx="1322.5" cy="648.6" r="2.1" fill="#cc3a44" fill-opacity="0.19"/>
<circle cx="1028.0" cy="515.9" r="2.1" fill="#cc3a44" fill-opacity="0.19"/>
<circle cx="1333.6" cy="649.6" r="2.1" fill="#cc3a44" fill-opacity="0.19"/>
<circle cx="1227.9" cy="638.1" r="2.1" fill="#cc3a44" fill-opacity="0.19"/>
<circle cx="513.5" cy="293.9" r="2.1" fill="#cc3a44" fill-opacity="0.19"/>
<circle cx="505.4" cy="377.6" r="2.1" fill="#cc3a44" fill-opacity="0.19"/>
<circle cx="1208.8" cy="630.5" r="2.1" fill="#cc3a44" fill-opacity="0.19"/>
<circle cx="512.5" cy="354.5" r="2.1" fill="#cc3a44" fill-opacity="0.19"/>
<circle cx="330.1" cy="348.2" r="2.1" fill="#cc3a44" fill-opacity="0.19"/>
<circle cx="1016.5" cy="581.2" r="2.1" fill="#cc3a44" fill-opacity="0.19"/>
<circle cx="530.7" cy="287.6" r="2.1" fill="#4f7bb3" fill-opacity="0.19"/>
<circle cx="1337.9" cy="624.8" r="2.1" fill="#cc3a44" fill-opacity="0.19"/>
<circle cx="1031.9" cy="544.3" r="2.1" fill="#cc3a44" fill-opacity="0.19"/>
<circle cx="1211.9" cy="635.6" r="2.1" fill="#cc3a44" fill-opacity="0.19"/>
<circle cx="614.1" cy="370.3" r="2.1" fill="#cc3a44" fill-opacity="0.19"/>
<circle cx="1335.8" cy="636.9" r="2.1" fill="#cc3a44" fill-opacity="0.19"/>
<circle cx="200.2" cy="289.1" r="2.1" fill="#cc3a44" fill-opacity="0.19"/>
<circle cx="402.0" cy="298.0" r="2.1" fill="#cc3a44" fill-opacity="0.19"/>
<circle cx="1238.5" cy="635.2" r="2.1" fill="#cc3a44" fill-opacity="0.19"/>
<circle cx="304.8" cy="293.9" r="2.1" fill="#cc3a44" fill-opacity="0.19"/>
<circle cx="1227.0" cy="639.9" r="2.1" fill="#cc3a44" fill-opacity="0.19"/>
<circle cx="1229.5" cy="639.2" r="2.1" fill="#cc3a44" fill-opacity="0.19"/>
<circle cx="1033.1" cy="439.2" r="2.1" fill="#cc3a44" fill-opacity="0.19"/>
<circle cx="813.9" cy="340.0" r="2.1" fill="#cc3a44" fill-opacity="0.19"/>
<circle cx="1009.1" cy="454.1" r="2.1" fill="#cc3a44" fill-opacity="0.19"/>
<circle cx="1119.9" cy="598.8" r="2.1" fill="#cc3a44" fill-opacity="0.19"/>
<circle cx="1324.4" cy="650.2" r="2.1" fill="#cc3a44" fill-opacity="0.19"/>
<circle cx="837.6" cy="404.1" r="2.1" fill="#4f7bb3" fill-opacity="0.19"/>
<circle cx="1338.7" cy="648.2" r="2.1" fill="#cc3a44" fill-opacity="0.19"/>
<circle cx="1344.8" cy="638.4" r="2.1" fill="#cc3a44" fill-opacity="0.19"/>
<circle cx="1231.9" cy="635.5" r="2.1" fill="#cc3a44" fill-opacity="0.19"/>
<circle cx="809.0" cy="421.4" r="2.1" fill="#4f7bb3" fill-opacity="0.19"/>
<circle cx="725.7" cy="435.9" r="2.1" fill="#cc3a44" fill-opacity="0.19"/>
<circle cx="529.4" cy="347.3" r="2.1" fill="#4f7bb3" fill-opacity="0.19"/>
<circle cx="1005.3" cy="457.5" r="2.1" fill="#cc3a44" fill-opacity="0.19"/>
<circle cx="635.2" cy="258.5" r="2.1" fill="#cc3a44" fill-opacity="0.19"/>
<circle cx="1307.3" cy="649.1" r="2.1" fill="#cc3a44" fill-opacity="0.19"/>
<circle cx="1219.5" cy="587.2" r="2.1" fill="#cc3a44" fill-opacity="0.19"/>
<circle cx="1130.3" cy="582.9" r="2.1" fill="#cc3a44" fill-opacity="0.19"/>
<circle cx="513.3" cy="299.4" r="2.1" fill="#cc3a44" fill-opacity="0.19"/>
<circle cx="1022.8" cy="434.2" r="2.1" fill="#cc3a44" fill-opacity="0.19"/>
<circle cx="501.1" cy="280.0" r="2.1" fill="#4f7bb3" fill-opacity="0.19"/>
<circle cx="1330.3" cy="648.8" r="2.1" fill="#cc3a44" fill-opacity="0.19"/>
<circle cx="421.1" cy="315.8" r="2.1" fill="#cc3a44" fill-opacity="0.19"/>
<circle cx="1322.9" cy="655.8" r="2.1" fill="#cc3a44" fill-opacity="0.19"/>
<circle cx="1030.3" cy="542.1" r="2.1" fill="#cc3a44" fill-opacity="0.19"/>
<circle cx="708.4" cy="331.0" r="2.1" fill="#4f7bb3" fill-opacity="0.19"/>
<circle cx="930.2" cy="468.8" r="2.1" fill="#cc3a44" fill-opacity="0.19"/>
<circle cx="1330.8" cy="635.0" r="2.1" fill="#cc3a44" fill-opacity="0.19"/>
<circle cx="1044.7" cy="550.1" r="2.1" fill="#cc3a44" fill-opacity="0.19"/>
<circle cx="606.7" cy="498.3" r="2.1" fill="#cc3a44" fill-opacity="0.19"/>
<circle cx="1323.0" cy="657.7" r="2.1" fill="#cc3a44" fill-opacity="0.19"/>
<circle cx="506.8" cy="305.6" r="2.1" fill="#cc3a44" fill-opacity="0.19"/>
<circle cx="1335.9" cy="633.0" r="2.1" fill="#cc3a44" fill-opacity="0.19"/>
<circle cx="225.0" cy="383.7" r="2.1" fill="#cc3a44" fill-opacity="0.19"/>
<circle cx="1104.7" cy="597.3" r="2.1" fill="#cc3a44" fill-opacity="0.19"/>
<circle cx="1214.2" cy="638.2" r="2.1" fill="#cc3a44" fill-opacity="0.19"/>
<circle cx="1110.4" cy="577.6" r="2.1" fill="#cc3a44" fill-opacity="0.19"/>
<circle cx="1126.7" cy="594.9" r="2.1" fill="#cc3a44" fill-opacity="0.19"/>
<circle cx="937.3" cy="490.0" r="2.1" fill="#cc3a44" fill-opacity="0.19"/>
<circle cx="201.8" cy="372.5" r="2.1" fill="#cc3a44" fill-opacity="0.19"/>
<circle cx="1136.4" cy="597.3" r="2.1" fill="#cc3a44" fill-opacity="0.19"/>
<circle cx="613.2" cy="424.7" r="2.1" fill="#cc3a44" fill-opacity="0.19"/>
<circle cx="1207.4" cy="633.7" r="2.1" fill="#cc3a44" fill-opacity="0.19"/>
<circle cx="831.8" cy="506.5" r="2.1" fill="#4f7bb3" fill-opacity="0.19"/>
<circle cx="1325.3" cy="658.2" r="2.1" fill="#cc3a44" fill-opacity="0.19"/>
<circle cx="1112.4" cy="597.7" r="2.1" fill="#cc3a44" fill-opacity="0.19"/>
<circle cx="196.7" cy="311.9" r="2.1" fill="#cc3a44" fill-opacity="0.19"/>
<circle cx="511.7" cy="261.4" r="2.1" fill="#4f7bb3" fill-opacity="0.19"/>
<circle cx="1136.3" cy="591.1" r="2.1" fill="#cc3a44" fill-opacity="0.19"/>
<circle cx="801.7" cy="483.4" r="2.1" fill="#4f7bb3" fill-opacity="0.19"/>
<circle cx="1232.0" cy="626.6" r="2.1" fill="#cc3a44" fill-opacity="0.19"/>
<circle cx="516.0" cy="252.7" r="2.1" fill="#4f7bb3" fill-opacity="0.19"/>
<circle cx="521.8" cy="282.5" r="2.1" fill="#4f7bb3" fill-opacity="0.19"/>
<circle cx="918.4" cy="445.4" r="2.1" fill="#cc3a44" fill-opacity="0.19"/>
<circle cx="1116.0" cy="599.3" r="2.1" fill="#cc3a44" fill-opacity="0.19"/>
<circle cx="1039.7" cy="503.5" r="2.1" fill="#cc3a44" fill-opacity="0.19"/>
<circle cx="1112.2" cy="589.4" r="2.1" fill="#cc3a44" fill-opacity="0.19"/>
<circle cx="1335.0" cy="644.9" r="2.1" fill="#cc3a44" fill-opacity="0.19"/>
<circle cx="1138.5" cy="582.1" r="2.1" fill="#cc3a44" fill-opacity="0.19"/>
<circle cx="1122.9" cy="581.4" r="2.1" fill="#cc3a44" fill-opacity="0.19"/>
<circle cx="922.5" cy="449.6" r="2.1" fill="#cc3a44" fill-opacity="0.19"/>
<circle cx="1121.4" cy="552.4" r="2.1" fill="#cc3a44" fill-opacity="0.19"/>
<circle cx="819.3" cy="377.4" r="2.1" fill="#cc3a44" fill-opacity="0.19"/>
<circle cx="633.7" cy="370.6" r="2.1" fill="#cc3a44" fill-opacity="0.19"/>
<circle cx="1130.6" cy="599.2" r="2.1" fill="#cc3a44" fill-opacity="0.19"/>
<circle cx="217.7" cy="260.9" r="2.1" fill="#4f7bb3" fill-opacity="0.19"/>
<circle cx="423.5" cy="307.5" r="2.1" fill="#cc3a44" fill-opacity="0.19"/>
<circle cx="1118.1" cy="590.7" r="2.1" fill="#cc3a44" fill-opacity="0.19"/>
<circle cx="1114.1" cy="587.2" r="2.1" fill="#cc3a44" fill-opacity="0.19"/>
<circle cx="1340.2" cy="647.8" r="2.1" fill="#cc3a44" fill-opacity="0.19"/>
<circle cx="1320.4" cy="649.7" r="2.1" fill="#cc3a44" fill-opacity="0.19"/>
<circle cx="805.9" cy="284.8" r="2.1" fill="#cc3a44" fill-opacity="0.19"/>
<circle cx="1009.2" cy="532.8" r="2.1" fill="#cc3a44" fill-opacity="0.19"/>
<circle cx="1233.4" cy="639.6" r="2.1" fill="#cc3a44" fill-opacity="0.19"/>
<circle cx="1207.9" cy="640.0" r="2.1" fill="#cc3a44" fill-opacity="0.19"/>
<circle cx="1042.2" cy="554.5" r="2.1" fill="#cc3a44" fill-opacity="0.19"/>
<circle cx="1312.2" cy="649.8" r="2.1" fill="#cc3a44" fill-opacity="0.19"/>
<circle cx="1024.9" cy="536.6" r="2.1" fill="#cc3a44" fill-opacity="0.19"/>
<circle cx="292.8" cy="255.1" r="2.1" fill="#cc3a44" fill-opacity="0.19"/>
<circle cx="1116.1" cy="591.4" r="2.1" fill="#cc3a44" fill-opacity="0.19"/>
<circle cx="1023.9" cy="545.8" r="2.1" fill="#cc3a44" fill-opacity="0.19"/>
<circle cx="510.5" cy="333.3" r="2.1" fill="#cc3a44" fill-opacity="0.19"/>
<circle cx="415.0" cy="188.9" r="2.1" fill="#cc3a44" fill-opacity="0.19"/>
<circle cx="522.5" cy="333.7" r="2.1" fill="#4f7bb3" fill-opacity="0.19"/>
<circle cx="1118.4" cy="582.7" r="2.1" fill="#cc3a44" fill-opacity="0.19"/>
<circle cx="835.0" cy="473.6" r="2.1" fill="#cc3a44" fill-opacity="0.19"/>
<circle cx="1102.5" cy="585.3" r="2.1" fill="#cc3a44" fill-opacity="0.19"/>
<circle cx="702.6" cy="425.2" r="2.1" fill="#cc3a44" fill-opacity="0.19"/>
<circle cx="1017.5" cy="405.7" r="2.1" fill="#cc3a44" fill-opacity="0.19"/>
<circle cx="394.9" cy="333.7" r="2.1" fill="#cc3a44" fill-opacity="0.19"/>
<circle cx="1005.4" cy="425.0" r="2.1" fill="#cc3a44" fill-opacity="0.19"/>
<circle cx="1210.0" cy="656.4" r="2.1" fill="#cc3a44" fill-opacity="0.19"/>
<circle cx="529.8" cy="318.5" r="2.1" fill="#4f7bb3" fill-opacity="0.19"/>
<circle cx="1317.0" cy="626.1" r="2.1" fill="#cc3a44" fill-opacity="0.19"/>
<circle cx="1327.4" cy="655.6" r="2.1" fill="#cc3a44" fill-opacity="0.19"/>
<circle cx="1210.2" cy="639.7" r="2.1" fill="#cc3a44" fill-opacity="0.19"/>
<circle cx="1109.0" cy="587.2" r="2.1" fill="#cc3a44" fill-opacity="0.19"/>
<circle cx="722.7" cy="461.5" r="2.1" fill="#cc3a44" fill-opacity="0.19"/>
<circle cx="1338.4" cy="657.2" r="2.1" fill="#cc3a44" fill-opacity="0.19"/>
<circle cx="1313.4" cy="649.5" r="2.1" fill="#cc3a44" fill-opacity="0.19"/>
<circle cx="1009.2" cy="431.7" r="2.1" fill="#cc3a44" fill-opacity="0.19"/>
<circle cx="1019.7" cy="555.0" r="2.1" fill="#cc3a44" fill-opacity="0.19"/>
<circle cx="1326.1" cy="654.2" r="2.1" fill="#cc3a44" fill-opacity="0.19"/>
<circle cx="1120.0" cy="597.5" r="2.1" fill="#cc3a44" fill-opacity="0.19"/>
<circle cx="504.2" cy="304.7" r="2.1" fill="#cc3a44" fill-opacity="0.19"/>
<circle cx="406.0" cy="317.1" r="2.1" fill="#cc3a44" fill-opacity="0.19"/>
<circle cx="1040.6" cy="467.0" r="2.1" fill="#cc3a44" fill-opacity="0.19"/>
<circle cx="198.7" cy="317.1" r="2.1" fill="#4f7bb3" fill-opacity="0.19"/>
<circle cx="1333.6" cy="626.3" r="2.1" fill="#cc3a44" fill-opacity="0.19"/>
<circle cx="1033.6" cy="449.6" r="2.1" fill="#cc3a44" fill-opacity="0.19"/>
<circle cx="811.0" cy="436.6" r="2.1" fill="#4f7bb3" fill-opacity="0.19"/>
<circle cx="1013.6" cy="507.4" r="2.1" fill="#cc3a44" fill-opacity="0.19"/>
<circle cx="206.8" cy="270.7" r="2.1" fill="#4f7bb3" fill-opacity="0.19"/>
<circle cx="731.0" cy="482.9" r="2.1" fill="#4f7bb3" fill-opacity="0.19"/>
<circle cx="509.9" cy="357.0" r="2.1" fill="#cc3a44" fill-opacity="0.19"/>
<circle cx="822.1" cy="445.0" r="2.1" fill="#4f7bb3" fill-opacity="0.19"/>
<circle cx="1212.1" cy="633.1" r="2.1" fill="#cc3a44" fill-opacity="0.19"/>
<circle cx="293.5" cy="372.9" r="2.1" fill="#cc3a44" fill-opacity="0.19"/>
<circle cx="1339.1" cy="648.7" r="2.1" fill="#cc3a44" fill-opacity="0.19"/>
<circle cx="1208.0" cy="605.0" r="2.1" fill="#cc3a44" fill-opacity="0.19"/>
<circle cx="501.0" cy="300.6" r="2.1" fill="#cc3a44" fill-opacity="0.19"/>
<circle cx="1016.1" cy="452.7" r="2.1" fill="#cc3a44" fill-opacity="0.19"/>
<circle cx="611.0" cy="339.5" r="2.1" fill="#cc3a44" fill-opacity="0.19"/>
<circle cx="1234.8" cy="611.7" r="2.1" fill="#cc3a44" fill-opacity="0.19"/>
<circle cx="1006.5" cy="511.7" r="2.1" fill="#cc3a44" fill-opacity="0.19"/>
<circle cx="720.0" cy="455.6" r="2.1" fill="#cc3a44" fill-opacity="0.19"/>
<circle cx="705.2" cy="443.9" r="2.1" fill="#cc3a44" fill-opacity="0.19"/>
<circle cx="611.2" cy="258.6" r="2.1" fill="#cc3a44" fill-opacity="0.19"/>
<circle cx="1132.4" cy="585.4" r="2.1" fill="#cc3a44" fill-opacity="0.19"/>
<circle cx="503.9" cy="241.6" r="2.1" fill="#cc3a44" fill-opacity="0.19"/>
<circle cx="316.1" cy="233.4" r="2.1" fill="#cc3a44" fill-opacity="0.19"/>
<circle cx="616.2" cy="276.9" r="2.1" fill="#cc3a44" fill-opacity="0.19"/>
<circle cx="1340.9" cy="592.4" r="2.1" fill="#cc3a44" fill-opacity="0.19"/>
<circle cx="1324.8" cy="619.7" r="2.1" fill="#cc3a44" fill-opacity="0.19"/>
<circle cx="1234.9" cy="640.7" r="2.1" fill="#cc3a44" fill-opacity="0.19"/>
<circle cx="827.8" cy="443.1" r="2.1" fill="#cc3a44" fill-opacity="0.19"/>
<circle cx="1345.1" cy="649.4" r="2.1" fill="#cc3a44" fill-opacity="0.19"/>
<circle cx="414.7" cy="291.7" r="2.1" fill="#cc3a44" fill-opacity="0.19"/>
<circle cx="1018.8" cy="478.8" r="2.1" fill="#cc3a44" fill-opacity="0.19"/>
<circle cx="1319.8" cy="649.7" r="2.1" fill="#cc3a44" fill-opacity="0.19"/>
<circle cx="1235.8" cy="637.3" r="2.1" fill="#cc3a44" fill-opacity="0.19"/>
<circle cx="1320.9" cy="626.5" r="2.1" fill="#cc3a44" fill-opacity="0.19"/>
<circle cx="1219.0" cy="635.0" r="2.1" fill="#cc3a44" fill-opacity="0.19"/>
<circle cx="1136.4" cy="590.6" r="2.1" fill="#cc3a44" fill-opacity="0.19"/>
<circle cx="1118.9" cy="587.8" r="2.1" fill="#cc3a44" fill-opacity="0.19"/>
<circle cx="1120.8" cy="585.8" r="2.1" fill="#cc3a44" fill-opacity="0.19"/>
<circle cx="1208.9" cy="635.1" r="2.1" fill="#cc3a44" fill-opacity="0.19"/>
<circle cx="820.5" cy="424.4" r="2.1" fill="#cc3a44" fill-opacity="0.19"/>
<circle cx="1333.2" cy="650.9" r="2.1" fill="#cc3a44" fill-opacity="0.19"/>
<circle cx="1320.4" cy="637.3" r="2.1" fill="#cc3a44" fill-opacity="0.19"/>
<circle cx="819.9" cy="472.3" r="2.1" fill="#4f7bb3" fill-opacity="0.19"/>
<circle cx="616.1" cy="376.5" r="2.1" fill="#cc3a44" fill-opacity="0.19"/>
<circle cx="1008.1" cy="441.2" r="2.1" fill="#cc3a44" fill-opacity="0.19"/>
<circle cx="1136.6" cy="597.9" r="2.1" fill="#cc3a44" fill-opacity="0.19"/>
<circle cx="1212.0" cy="634.0" r="2.1" fill="#cc3a44" fill-opacity="0.19"/>
<circle cx="1109.6" cy="587.0" r="2.1" fill="#cc3a44" fill-opacity="0.19"/>
<circle cx="915.2" cy="441.8" r="2.1" fill="#cc3a44" fill-opacity="0.19"/>
<circle cx="521.6" cy="280.4" r="2.1" fill="#4f7bb3" fill-opacity="0.19"/>
<circle cx="324.9" cy="291.9" r="2.1" fill="#cc3a44" fill-opacity="0.19"/>
<circle cx="1115.2" cy="588.2" r="2.1" fill="#cc3a44" fill-opacity="0.19"/>
<circle cx="435.4" cy="312.3" r="2.1" fill="#cc3a44" fill-opacity="0.19"/>
<circle cx="211.4" cy="388.5" r="2.1" fill="#cc3a44" fill-opacity="0.19"/>
<circle cx="1122.7" cy="596.1" r="2.1" fill="#cc3a44" fill-opacity="0.19"/>
<circle cx="1342.9" cy="652.0" r="2.1" fill="#cc3a44" fill-opacity="0.19"/>
<circle cx="1143.0" cy="585.4" r="2.1" fill="#cc3a44" fill-opacity="0.19"/>
<circle cx="1005.6" cy="572.9" r="2.1" fill="#cc3a44" fill-opacity="0.19"/>
<circle cx="635.4" cy="401.0" r="2.1" fill="#cc3a44" fill-opacity="0.19"/>
<circle cx="1036.4" cy="368.8" r="2.1" fill="#cc3a44" fill-opacity="0.19"/>
<circle cx="1317.5" cy="634.2" r="2.1" fill="#cc3a44" fill-opacity="0.19"/>
<circle cx="504.5" cy="303.8" r="2.1" fill="#4f7bb3" fill-opacity="0.19"/>
<circle cx="1328.7" cy="653.7" r="2.1" fill="#cc3a44" fill-opacity="0.19"/>
<circle cx="1026.3" cy="462.5" r="2.1" fill="#cc3a44" fill-opacity="0.19"/>
<circle cx="816.3" cy="475.5" r="2.1" fill="#4f7bb3" fill-opacity="0.19"/>
<circle cx="1212.9" cy="640.9" r="2.1" fill="#cc3a44" fill-opacity="0.19"/>
<circle cx="1028.6" cy="490.5" r="2.1" fill="#cc3a44" fill-opacity="0.19"/>
<circle cx="606.4" cy="237.4" r="2.1" fill="#cc3a44" fill-opacity="0.19"/>
<circle cx="528.4" cy="364.0" r="2.1" fill="#4f7bb3" fill-opacity="0.19"/>
<circle cx="507.3" cy="345.0" r="2.1" fill="#4f7bb3" fill-opacity="0.19"/>
<circle cx="1141.7" cy="588.7" r="2.1" fill="#cc3a44" fill-opacity="0.19"/>
<circle cx="1326.7" cy="622.2" r="2.1" fill="#cc3a44" fill-opacity="0.19"/>
<circle cx="1103.1" cy="546.1" r="2.1" fill="#cc3a44" fill-opacity="0.19"/>
<circle cx="1118.1" cy="595.3" r="2.1" fill="#cc3a44" fill-opacity="0.19"/>
<circle cx="923.3" cy="485.5" r="2.1" fill="#cc3a44" fill-opacity="0.19"/>
<circle cx="1026.4" cy="506.7" r="2.1" fill="#cc3a44" fill-opacity="0.19"/>
<circle cx="1221.0" cy="612.9" r="2.1" fill="#cc3a44" fill-opacity="0.19"/>
<circle cx="1339.1" cy="645.2" r="2.1" fill="#cc3a44" fill-opacity="0.19"/>
<circle cx="1239.0" cy="630.3" r="2.1" fill="#cc3a44" fill-opacity="0.19"/>
<circle cx="1008.2" cy="406.5" r="2.1" fill="#cc3a44" fill-opacity="0.19"/>
<circle cx="817.3" cy="456.0" r="2.1" fill="#4f7bb3" fill-opacity="0.19"/>
<circle cx="1007.7" cy="402.6" r="2.1" fill="#cc3a44" fill-opacity="0.19"/>
<circle cx="1323.6" cy="649.9" r="2.1" fill="#cc3a44" fill-opacity="0.19"/>
<circle cx="330.3" cy="317.3" r="2.1" fill="#cc3a44" fill-opacity="0.19"/>
<circle cx="1328.0" cy="635.3" r="2.1" fill="#cc3a44" fill-opacity="0.19"/>
<circle cx="825.3" cy="460.8" r="2.1" fill="#4f7bb3" fill-opacity="0.19"/>
<circle cx="1123.7" cy="459.0" r="2.1" fill="#cc3a44" fill-opacity="0.19"/>
<circle cx="1306.3" cy="640.3" r="2.1" fill="#cc3a44" fill-opacity="0.19"/>
<circle cx="917.4" cy="385.3" r="2.1" fill="#cc3a44" fill-opacity="0.19"/>
<circle cx="1217.6" cy="639.2" r="2.1" fill="#cc3a44" fill-opacity="0.19"/>
<circle cx="507.8" cy="280.2" r="2.1" fill="#4f7bb3" fill-opacity="0.19"/>
<circle cx="1113.0" cy="597.6" r="2.1" fill="#cc3a44" fill-opacity="0.19"/>
<circle cx="1132.9" cy="595.2" r="2.1" fill="#cc3a44" fill-opacity="0.19"/>
<circle cx="703.8" cy="451.5" r="2.1" fill="#4f7bb3" fill-opacity="0.19"/>
<circle cx="1030.7" cy="471.5" r="2.1" fill="#cc3a44" fill-opacity="0.19"/>
<circle cx="511.6" cy="228.7" r="2.1" fill="#4f7bb3" fill-opacity="0.19"/>
<circle cx="527.2" cy="274.9" r="2.1" fill="#cc3a44" fill-opacity="0.19"/>
<circle cx="1323.7" cy="649.6" r="2.1" fill="#cc3a44" fill-opacity="0.19"/>
<circle cx="1311.5" cy="654.3" r="2.1" fill="#cc3a44" fill-opacity="0.19"/>
<circle cx="527.8" cy="347.9" r="2.1" fill="#4f7bb3" fill-opacity="0.19"/>
<circle cx="601.5" cy="383.6" r="2.1" fill="#cc3a44" fill-opacity="0.19"/>
<circle cx="839.2" cy="438.7" r="2.1" fill="#cc3a44" fill-opacity="0.19"/>
<circle cx="1041.5" cy="576.2" r="2.1" fill="#cc3a44" fill-opacity="0.19"/>
<circle cx="1128.0" cy="585.6" r="2.1" fill="#cc3a44" fill-opacity="0.19"/>
<circle cx="832.8" cy="440.8" r="2.1" fill="#4f7bb3" fill-opacity="0.19"/>
<circle cx="1116.3" cy="589.7" r="2.1" fill="#cc3a44" fill-opacity="0.19"/>
<circle cx="421.8" cy="145.9" r="2.1" fill="#cc3a44" fill-opacity="0.19"/>
<circle cx="209.0" cy="242.0" r="2.1" fill="#cc3a44" fill-opacity="0.19"/>
<circle cx="927.4" cy="452.6" r="2.1" fill="#cc3a44" fill-opacity="0.19"/>
<circle cx="1036.6" cy="337.6" r="2.1" fill="#4f7bb3" fill-opacity="0.19"/>
<circle cx="1011.9" cy="426.6" r="2.1" fill="#cc3a44" fill-opacity="0.19"/>
<circle cx="1128.5" cy="598.4" r="2.1" fill="#cc3a44" fill-opacity="0.19"/>
<circle cx="533.8" cy="324.5" r="2.1" fill="#cc3a44" fill-opacity="0.19"/>
<circle cx="1233.9" cy="637.8" r="2.1" fill="#cc3a44" fill-opacity="0.19"/>
<circle cx="829.1" cy="369.5" r="2.1" fill="#cc3a44" fill-opacity="0.19"/>
<circle cx="405.3" cy="241.5" r="2.1" fill="#cc3a44" fill-opacity="0.19"/>
<circle cx="1220.7" cy="631.6" r="2.1" fill="#cc3a44" fill-opacity="0.19"/>
<circle cx="1104.2" cy="599.2" r="2.1" fill="#cc3a44" fill-opacity="0.19"/>
<circle cx="1021.0" cy="478.7" r="2.1" fill="#cc3a44" fill-opacity="0.19"/>
<circle cx="1022.8" cy="372.0" r="2.1" fill="#cc3a44" fill-opacity="0.19"/>
<circle cx="193.2" cy="273.2" r="2.1" fill="#cc3a44" fill-opacity="0.19"/>
<circle cx="708.8" cy="493.3" r="2.1" fill="#4f7bb3" fill-opacity="0.19"/>
<circle cx="514.7" cy="294.8" r="2.1" fill="#4f7bb3" fill-opacity="0.19"/>
<circle cx="1026.8" cy="415.2" r="2.1" fill="#cc3a44" fill-opacity="0.19"/>
<circle cx="817.7" cy="370.8" r="2.1" fill="#4f7bb3" fill-opacity="0.19"/>
<circle cx="619.2" cy="315.6" r="2.1" fill="#cc3a44" fill-opacity="0.19"/>
<circle cx="1330.4" cy="620.3" r="2.1" fill="#cc3a44" fill-opacity="0.19"/>
<circle cx="1137.1" cy="592.3" r="2.1" fill="#cc3a44" fill-opacity="0.19"/>
<circle cx="1027.0" cy="356.4" r="2.1" fill="#cc3a44" fill-opacity="0.19"/>
<circle cx="1209.7" cy="622.4" r="2.1" fill="#cc3a44" fill-opacity="0.19"/>
<circle cx="1239.4" cy="627.4" r="2.1" fill="#cc3a44" fill-opacity="0.19"/>
<circle cx="1118.9" cy="599.1" r="2.1" fill="#cc3a44" fill-opacity="0.19"/>
<circle cx="1331.8" cy="645.0" r="2.1" fill="#cc3a44" fill-opacity="0.19"/>
<circle cx="1127.9" cy="561.3" r="2.1" fill="#cc3a44" fill-opacity="0.19"/>
<circle cx="402.9" cy="374.2" r="2.1" fill="#cc3a44" fill-opacity="0.19"/>
<circle cx="1231.0" cy="635.0" r="2.1" fill="#cc3a44" fill-opacity="0.19"/>
<circle cx="839.2" cy="487.5" r="2.1" fill="#4f7bb3" fill-opacity="0.19"/>
<circle cx="1236.5" cy="629.8" r="2.1" fill="#cc3a44" fill-opacity="0.19"/>
<circle cx="1133.2" cy="600.1" r="2.1" fill="#cc3a44" fill-opacity="0.19"/>
<circle cx="1142.9" cy="580.8" r="2.1" fill="#cc3a44" fill-opacity="0.19"/>
<circle cx="1034.7" cy="585.3" r="2.1" fill="#cc3a44" fill-opacity="0.19"/>
<circle cx="1116.2" cy="599.6" r="2.1" fill="#cc3a44" fill-opacity="0.19"/>
<circle cx="408.8" cy="345.1" r="2.1" fill="#cc3a44" fill-opacity="0.19"/>
<circle cx="1024.0" cy="501.3" r="2.1" fill="#cc3a44" fill-opacity="0.19"/>
<circle cx="529.9" cy="329.0" r="2.1" fill="#4f7bb3" fill-opacity="0.19"/>
<circle cx="1111.0" cy="598.0" r="2.1" fill="#cc3a44" fill-opacity="0.19"/>
<circle cx="428.5" cy="388.2" r="2.1" fill="#cc3a44" fill-opacity="0.19"/>
<circle cx="1210.4" cy="638.0" r="2.1" fill="#cc3a44" fill-opacity="0.19"/>
<circle cx="1333.3" cy="637.0" r="2.1" fill="#cc3a44" fill-opacity="0.19"/>
<circle cx="323.1" cy="256.8" r="2.1" fill="#cc3a44" fill-opacity="0.19"/>
<circle cx="1241.7" cy="635.4" r="2.1" fill="#cc3a44" fill-opacity="0.19"/>
<circle cx="912.5" cy="346.5" r="2.1" fill="#4f7bb3" fill-opacity="0.19"/>
<circle cx="1333.5" cy="626.3" r="2.1" fill="#cc3a44" fill-opacity="0.19"/>
<circle cx="508.2" cy="292.2" r="2.1" fill="#cc3a44" fill-opacity="0.19"/>
<circle cx="1116.5" cy="587.7" r="2.1" fill="#cc3a44" fill-opacity="0.19"/>
<circle cx="1312.0" cy="642.3" r="2.1" fill="#cc3a44" fill-opacity="0.19"/>
<circle cx="1025.8" cy="458.5" r="2.1" fill="#cc3a44" fill-opacity="0.19"/>
<circle cx="700.4" cy="358.3" r="2.1" fill="#cc3a44" fill-opacity="0.19"/>
<circle cx="327.6" cy="299.8" r="2.1" fill="#cc3a44" fill-opacity="0.19"/>
<circle cx="1038.3" cy="485.6" r="2.1" fill="#cc3a44" fill-opacity="0.19"/>
<circle cx="1231.4" cy="633.2" r="2.1" fill="#cc3a44" fill-opacity="0.19"/>
<circle cx="513.5" cy="384.2" r="2.1" fill="#4f7bb3" fill-opacity="0.19"/>
<circle cx="1038.5" cy="464.6" r="2.1" fill="#cc3a44" fill-opacity="0.19"/>
<circle cx="1010.4" cy="391.3" r="2.1" fill="#cc3a44" fill-opacity="0.19"/>
<circle cx="1140.0" cy="598.1" r="2.1" fill="#cc3a44" fill-opacity="0.19"/>
<circle cx="816.6" cy="429.5" r="2.1" fill="#4f7bb3" fill-opacity="0.19"/>
<circle cx="233.2" cy="228.9" r="2.1" fill="#4f7bb3" fill-opacity="0.19"/>
<circle cx="616.7" cy="337.4" r="2.1" fill="#cc3a44" fill-opacity="0.19"/>
<circle cx="508.9" cy="300.3" r="2.1" fill="#4f7bb3" fill-opacity="0.19"/>
<circle cx="516.0" cy="667.0" r="2.1" fill="#4f7bb3" fill-opacity="0.19"/>
<circle cx="1227.7" cy="637.8" r="2.1" fill="#cc3a44" fill-opacity="0.19"/>
<circle cx="1241.2" cy="641.1" r="2.1" fill="#cc3a44" fill-opacity="0.19"/>
<circle cx="1008.4" cy="580.8" r="2.1" fill="#cc3a44" fill-opacity="0.19"/>
<circle cx="623.6" cy="220.7" r="2.1" fill="#cc3a44" fill-opacity="0.19"/>
<circle cx="1330.4" cy="661.6" r="2.1" fill="#cc3a44" fill-opacity="0.19"/>
<circle cx="1009.4" cy="463.8" r="2.1" fill="#cc3a44" fill-opacity="0.19"/>
<circle cx="1018.8" cy="353.6" r="2.1" fill="#cc3a44" fill-opacity="0.19"/>
<circle cx="1232.6" cy="637.5" r="2.1" fill="#cc3a44" fill-opacity="0.19"/>
<circle cx="1227.6" cy="638.3" r="2.1" fill="#cc3a44" fill-opacity="0.19"/>
<circle cx="1337.8" cy="649.2" r="2.1" fill="#cc3a44" fill-opacity="0.19"/>
<circle cx="221.0" cy="318.2" r="2.1" fill="#cc3a44" fill-opacity="0.19"/>
<circle cx="1136.8" cy="597.7" r="2.1" fill="#cc3a44" fill-opacity="0.19"/>
<circle cx="927.3" cy="386.7" r="2.1" fill="#cc3a44" fill-opacity="0.19"/>
<circle cx="1112.8" cy="590.3" r="2.1" fill="#cc3a44" fill-opacity="0.19"/>
<circle cx="1344.0" cy="633.5" r="2.1" fill="#cc3a44" fill-opacity="0.19"/>
<circle cx="110.4" cy="111.0" r="2.1" fill="#cc3a44" fill-opacity="0.19"/>
<circle cx="1325.9" cy="642.1" r="2.1" fill="#cc3a44" fill-opacity="0.19"/>
<circle cx="533.0" cy="295.4" r="2.1" fill="#cc3a44" fill-opacity="0.19"/>
<circle cx="513.8" cy="256.3" r="2.1" fill="#cc3a44" fill-opacity="0.19"/>
<circle cx="1135.3" cy="597.1" r="2.1" fill="#cc3a44" fill-opacity="0.19"/>
<circle cx="316.3" cy="202.8" r="2.1" fill="#cc3a44" fill-opacity="0.19"/>
<circle cx="1211.1" cy="639.5" r="2.1" fill="#cc3a44" fill-opacity="0.19"/>
<circle cx="725.9" cy="465.3" r="2.1" fill="#cc3a44" fill-opacity="0.19"/>
<circle cx="726.0" cy="400.2" r="2.1" fill="#4f7bb3" fill-opacity="0.19"/>
<circle cx="530.5" cy="301.9" r="2.1" fill="#cc3a44" fill-opacity="0.19"/>
<circle cx="1139.8" cy="568.5" r="2.1" fill="#cc3a44" fill-opacity="0.19"/>
<circle cx="1237.6" cy="634.0" r="2.1" fill="#cc3a44" fill-opacity="0.19"/>
<circle cx="1228.7" cy="638.6" r="2.1" fill="#cc3a44" fill-opacity="0.19"/>
<circle cx="527.9" cy="399.3" r="2.1" fill="#cc3a44" fill-opacity="0.19"/>
<circle cx="939.9" cy="477.0" r="2.1" fill="#cc3a44" fill-opacity="0.19"/>
<circle cx="1309.2" cy="600.8" r="2.1" fill="#cc3a44" fill-opacity="0.19"/>
<circle cx="1234.0" cy="632.6" r="2.1" fill="#cc3a44" fill-opacity="0.19"/>
<circle cx="1213.1" cy="629.4" r="2.1" fill="#cc3a44" fill-opacity="0.19"/>
<circle cx="533.2" cy="337.3" r="2.1" fill="#cc3a44" fill-opacity="0.19"/>
<circle cx="726.3" cy="450.1" r="2.1" fill="#4f7bb3" fill-opacity="0.19"/>
<circle cx="505.6" cy="342.1" r="2.1" fill="#4f7bb3" fill-opacity="0.19"/>
<circle cx="1010.9" cy="509.0" r="2.1" fill="#cc3a44" fill-opacity="0.19"/>
<circle cx="1328.3" cy="649.5" r="2.1" fill="#cc3a44" fill-opacity="0.19"/>
<circle cx="1226.5" cy="637.4" r="2.1" fill="#cc3a44" fill-opacity="0.19"/>
<circle cx="1124.5" cy="597.8" r="2.1" fill="#cc3a44" fill-opacity="0.19"/>
<circle cx="1017.4" cy="551.8" r="2.1" fill="#cc3a44" fill-opacity="0.19"/>
<circle cx="1315.3" cy="630.5" r="2.1" fill="#cc3a44" fill-opacity="0.19"/>
<circle cx="622.5" cy="404.9" r="2.1" fill="#cc3a44" fill-opacity="0.19"/>
<circle cx="1123.3" cy="578.6" r="2.1" fill="#cc3a44" fill-opacity="0.19"/>
<circle cx="1234.0" cy="629.1" r="2.1" fill="#cc3a44" fill-opacity="0.19"/>
<circle cx="333.5" cy="299.1" r="2.1" fill="#cc3a44" fill-opacity="0.19"/>
<circle cx="525.0" cy="338.6" r="2.1" fill="#cc3a44" fill-opacity="0.19"/>
<circle cx="1112.8" cy="590.2" r="2.1" fill="#cc3a44" fill-opacity="0.19"/>
<circle cx="1020.1" cy="522.9" r="2.1" fill="#cc3a44" fill-opacity="0.19"/>
<circle cx="508.8" cy="351.6" r="2.1" fill="#4f7bb3" fill-opacity="0.19"/>
<circle cx="1015.0" cy="283.0" r="2.1" fill="#cc3a44" fill-opacity="0.19"/>
<circle cx="412.6" cy="268.7" r="2.1" fill="#cc3a44" fill-opacity="0.19"/>
<circle cx="1143.2" cy="580.3" r="2.1" fill="#cc3a44" fill-opacity="0.19"/>
<circle cx="809.2" cy="507.7" r="2.1" fill="#4f7bb3" fill-opacity="0.19"/>
<circle cx="1016.8" cy="345.2" r="2.1" fill="#cc3a44" fill-opacity="0.19"/>
<circle cx="1313.5" cy="653.7" r="2.1" fill="#cc3a44" fill-opacity="0.19"/>
<circle cx="505.8" cy="338.7" r="2.1" fill="#4f7bb3" fill-opacity="0.19"/>
<circle cx="326.1" cy="274.3" r="2.1" fill="#cc3a44" fill-opacity="0.19"/>
<circle cx="514.3" cy="271.4" r="2.1" fill="#4f7bb3" fill-opacity="0.19"/>
<circle cx="609.3" cy="329.9" r="2.1" fill="#cc3a44" fill-opacity="0.19"/>
<circle cx="1131.2" cy="587.7" r="2.1" fill="#cc3a44" fill-opacity="0.19"/>
<circle cx="1124.9" cy="572.7" r="2.1" fill="#cc3a44" fill-opacity="0.19"/>
<circle cx="1320.3" cy="650.1" r="2.1" fill="#cc3a44" fill-opacity="0.19"/>
<circle cx="1004.8" cy="356.0" r="2.1" fill="#cc3a44" fill-opacity="0.19"/>
<circle cx="517.0" cy="349.4" r="2.1" fill="#4f7bb3" fill-opacity="0.19"/>
<circle cx="1238.8" cy="633.2" r="2.1" fill="#cc3a44" fill-opacity="0.19"/>
<circle cx="1004.9" cy="598.1" r="2.1" fill="#cc3a44" fill-opacity="0.19"/>
<circle cx="1212.1" cy="638.2" r="2.1" fill="#cc3a44" fill-opacity="0.19"/>
<circle cx="1142.3" cy="597.4" r="2.1" fill="#cc3a44" fill-opacity="0.19"/>
<circle cx="1016.6" cy="457.3" r="2.1" fill="#cc3a44" fill-opacity="0.19"/>
<circle cx="399.5" cy="180.5" r="2.1" fill="#cc3a44" fill-opacity="0.19"/>
<circle cx="1233.0" cy="634.3" r="2.1" fill="#cc3a44" fill-opacity="0.19"/>
<circle cx="399.6" cy="288.8" r="2.1" fill="#cc3a44" fill-opacity="0.19"/>
<circle cx="1012.6" cy="495.9" r="2.1" fill="#cc3a44" fill-opacity="0.19"/>
<circle cx="526.5" cy="311.3" r="2.1" fill="#cc3a44" fill-opacity="0.19"/>
<circle cx="1128.6" cy="590.3" r="2.1" fill="#cc3a44" fill-opacity="0.19"/>
<circle cx="315.1" cy="311.1" r="2.1" fill="#cc3a44" fill-opacity="0.19"/>
<circle cx="631.3" cy="391.7" r="2.1" fill="#cc3a44" fill-opacity="0.19"/>
<circle cx="527.4" cy="334.6" r="2.1" fill="#cc3a44" fill-opacity="0.19"/>
<circle cx="1205.1" cy="634.1" r="2.1" fill="#cc3a44" fill-opacity="0.19"/>
<circle cx="1320.2" cy="639.4" r="2.1" fill="#cc3a44" fill-opacity="0.19"/>
<circle cx="516.8" cy="299.5" r="2.1" fill="#cc3a44" fill-opacity="0.19"/>
<circle cx="1137.8" cy="569.7" r="2.1" fill="#cc3a44" fill-opacity="0.19"/>
<circle cx="326.4" cy="318.4" r="2.1" fill="#cc3a44" fill-opacity="0.19"/>
<circle cx="809.9" cy="435.1" r="2.1" fill="#cc3a44" fill-opacity="0.19"/>
<circle cx="1210.1" cy="617.5" r="2.1" fill="#cc3a44" fill-opacity="0.19"/>
<circle cx="513.1" cy="231.8" r="2.1" fill="#cc3a44" fill-opacity="0.19"/>
<circle cx="1240.9" cy="639.6" r="2.1" fill="#cc3a44" fill-opacity="0.19"/>
<circle cx="404.7" cy="346.0" r="2.1" fill="#cc3a44" fill-opacity="0.19"/>
<circle cx="717.6" cy="442.4" r="2.1" fill="#4f7bb3" fill-opacity="0.19"/>
<circle cx="1311.2" cy="643.5" r="2.1" fill="#cc3a44" fill-opacity="0.19"/>
<circle cx="297.1" cy="298.4" r="2.1" fill="#cc3a44" fill-opacity="0.19"/>
<circle cx="1325.6" cy="629.0" r="2.1" fill="#cc3a44" fill-opacity="0.19"/>
<circle cx="216.3" cy="273.4" r="2.1" fill="#cc3a44" fill-opacity="0.19"/>
<circle cx="915.6" cy="460.4" r="2.1" fill="#cc3a44" fill-opacity="0.19"/>
<circle cx="1118.7" cy="593.5" r="2.1" fill="#cc3a44" fill-opacity="0.19"/>
<circle cx="1120.0" cy="584.6" r="2.1" fill="#cc3a44" fill-opacity="0.19"/>
<circle cx="1010.3" cy="453.7" r="2.1" fill="#cc3a44" fill-opacity="0.19"/>
<circle cx="812.1" cy="498.7" r="2.1" fill="#cc3a44" fill-opacity="0.19"/>
<circle cx="1224.9" cy="640.3" r="2.1" fill="#cc3a44" fill-opacity="0.19"/>
<circle cx="531.2" cy="300.7" r="2.1" fill="#cc3a44" fill-opacity="0.19"/>
<circle cx="1337.3" cy="622.8" r="2.1" fill="#cc3a44" fill-opacity="0.19"/>
<circle cx="1142.0" cy="590.3" r="2.1" fill="#cc3a44" fill-opacity="0.19"/>
<circle cx="1012.3" cy="537.9" r="2.1" fill="#cc3a44" fill-opacity="0.19"/>
<circle cx="533.3" cy="351.1" r="2.1" fill="#4f7bb3" fill-opacity="0.19"/>
<circle cx="195.1" cy="294.4" r="2.1" fill="#4f7bb3" fill-opacity="0.19"/>
<circle cx="525.6" cy="269.8" r="2.1" fill="#4f7bb3" fill-opacity="0.19"/>
<circle cx="1325.3" cy="638.9" r="2.1" fill="#cc3a44" fill-opacity="0.19"/>
<circle cx="408.6" cy="366.3" r="2.1" fill="#cc3a44" fill-opacity="0.19"/>
<circle cx="810.2" cy="455.9" r="2.1" fill="#cc3a44" fill-opacity="0.19"/>
<circle cx="921.4" cy="465.9" r="2.1" fill="#cc3a44" fill-opacity="0.19"/>
<circle cx="1041.9" cy="548.8" r="2.1" fill="#cc3a44" fill-opacity="0.19"/>
<circle cx="517.0" cy="307.2" r="2.1" fill="#4f7bb3" fill-opacity="0.19"/>
<circle cx="1223.4" cy="639.7" r="2.1" fill="#cc3a44" fill-opacity="0.19"/>
<circle cx="398.4" cy="324.0" r="2.1" fill="#cc3a44" fill-opacity="0.19"/>
<circle cx="1218.5" cy="635.6" r="2.1" fill="#cc3a44" fill-opacity="0.19"/>
<circle cx="1315.6" cy="621.5" r="2.1" fill="#cc3a44" fill-opacity="0.19"/>
<circle cx="427.8" cy="321.5" r="2.1" fill="#cc3a44" fill-opacity="0.19"/>
<circle cx="730.0" cy="418.7" r="2.1" fill="#4f7bb3" fill-opacity="0.19"/>
<circle cx="307.2" cy="304.0" r="2.1" fill="#cc3a44" fill-opacity="0.19"/>
<circle cx="1025.7" cy="478.2" r="2.1" fill="#cc3a44" fill-opacity="0.19"/>
<circle cx="1326.3" cy="619.8" r="2.1" fill="#cc3a44" fill-opacity="0.19"/>
<circle cx="523.7" cy="287.1" r="2.1" fill="#4f7bb3" fill-opacity="0.19"/>
<circle cx="1042.8" cy="517.2" r="2.1" fill="#cc3a44" fill-opacity="0.19"/>
<circle cx="204.5" cy="287.8" r="2.1" fill="#cc3a44" fill-opacity="0.19"/>
<circle cx="1227.6" cy="640.4" r="2.1" fill="#cc3a44" fill-opacity="0.19"/>
<circle cx="1039.0" cy="491.7" r="2.1" fill="#cc3a44" fill-opacity="0.19"/>
<circle cx="1308.0" cy="625.6" r="2.1" fill="#cc3a44" fill-opacity="0.19"/>
<circle cx="1134.0" cy="597.9" r="2.1" fill="#cc3a44" fill-opacity="0.19"/>
<circle cx="1132.7" cy="598.9" r="2.1" fill="#cc3a44" fill-opacity="0.19"/>
<circle cx="1131.9" cy="600.1" r="2.1" fill="#cc3a44" fill-opacity="0.19"/>
<circle cx="1312.6" cy="649.4" r="2.1" fill="#cc3a44" fill-opacity="0.19"/>
<circle cx="822.7" cy="456.1" r="2.1" fill="#4f7bb3" fill-opacity="0.19"/>
<circle cx="1126.6" cy="592.0" r="2.1" fill="#cc3a44" fill-opacity="0.19"/>
<circle cx="1043.2" cy="492.7" r="2.1" fill="#cc3a44" fill-opacity="0.19"/>
<circle cx="717.3" cy="372.7" r="2.1" fill="#cc3a44" fill-opacity="0.19"/>
<circle cx="1311.2" cy="642.6" r="2.1" fill="#cc3a44" fill-opacity="0.19"/>
<circle cx="1010.4" cy="327.7" r="2.1" fill="#4f7bb3" fill-opacity="0.19"/>
<circle cx="210.3" cy="297.1" r="2.1" fill="#4f7bb3" fill-opacity="0.19"/>
<circle cx="1120.8" cy="589.1" r="2.1" fill="#cc3a44" fill-opacity="0.19"/>
<circle cx="1333.2" cy="657.1" r="2.1" fill="#cc3a44" fill-opacity="0.19"/>
<circle cx="935.2" cy="440.8" r="2.1" fill="#cc3a44" fill-opacity="0.19"/>
<circle cx="926.8" cy="437.5" r="2.1" fill="#cc3a44" fill-opacity="0.19"/>
<circle cx="1220.0" cy="640.7" r="2.1" fill="#cc3a44" fill-opacity="0.19"/>
<circle cx="1332.2" cy="645.0" r="2.1" fill="#cc3a44" fill-opacity="0.19"/>
<circle cx="1310.4" cy="632.8" r="2.1" fill="#cc3a44" fill-opacity="0.19"/>
<circle cx="501.5" cy="289.0" r="2.1" fill="#4f7bb3" fill-opacity="0.19"/>
<circle cx="1241.3" cy="641.7" r="2.1" fill="#cc3a44" fill-opacity="0.19"/>
<circle cx="1327.0" cy="648.7" r="2.1" fill="#cc3a44" fill-opacity="0.19"/>
<circle cx="1314.1" cy="658.1" r="2.1" fill="#cc3a44" fill-opacity="0.19"/>
<circle cx="1306.0" cy="620.4" r="2.1" fill="#cc3a44" fill-opacity="0.19"/>
<circle cx="607.3" cy="424.6" r="2.1" fill="#cc3a44" fill-opacity="0.19"/>
<circle cx="1229.9" cy="635.9" r="2.1" fill="#cc3a44" fill-opacity="0.19"/>
<circle cx="1045.1" cy="545.6" r="2.1" fill="#cc3a44" fill-opacity="0.19"/>
<circle cx="1227.7" cy="631.0" r="2.1" fill="#cc3a44" fill-opacity="0.19"/>
<circle cx="1113.1" cy="599.1" r="2.1" fill="#cc3a44" fill-opacity="0.19"/>
<circle cx="422.0" cy="317.6" r="2.1" fill="#cc3a44" fill-opacity="0.19"/>
<circle cx="1042.1" cy="432.7" r="2.1" fill="#cc3a44" fill-opacity="0.19"/>
<circle cx="1129.3" cy="597.5" r="2.1" fill="#cc3a44" fill-opacity="0.19"/>
<circle cx="1238.9" cy="639.6" r="2.1" fill="#cc3a44" fill-opacity="0.19"/>
<circle cx="1225.1" cy="636.8" r="2.1" fill="#cc3a44" fill-opacity="0.19"/>
<circle cx="1312.3" cy="640.6" r="2.1" fill="#cc3a44" fill-opacity="0.19"/>
<circle cx="615.0" cy="441.5" r="2.1" fill="#cc3a44" fill-opacity="0.19"/>
<circle cx="522.0" cy="317.5" r="2.1" fill="#cc3a44" fill-opacity="0.19"/>
<circle cx="919.8" cy="454.7" r="2.1" fill="#cc3a44" fill-opacity="0.19"/>
<circle cx="213.7" cy="281.5" r="2.1" fill="#4f7bb3" fill-opacity="0.19"/>
<circle cx="302.3" cy="315.3" r="2.1" fill="#cc3a44" fill-opacity="0.19"/>
<circle cx="228.3" cy="331.3" r="2.1" fill="#cc3a44" fill-opacity="0.19"/>
<circle cx="1233.0" cy="632.6" r="2.1" fill="#cc3a44" fill-opacity="0.19"/>
<circle cx="1211.2" cy="638.4" r="2.1" fill="#cc3a44" fill-opacity="0.19"/>
<circle cx="217.5" cy="331.0" r="2.1" fill="#cc3a44" fill-opacity="0.19"/>
<circle cx="1237.0" cy="640.8" r="2.1" fill="#cc3a44" fill-opacity="0.19"/>
<circle cx="1241.0" cy="637.1" r="2.1" fill="#cc3a44" fill-opacity="0.19"/>
<circle cx="1210.1" cy="641.0" r="2.1" fill="#cc3a44" fill-opacity="0.19"/>
<circle cx="1006.0" cy="515.3" r="2.1" fill="#cc3a44" fill-opacity="0.19"/>
<circle cx="1019.1" cy="507.4" r="2.1" fill="#cc3a44" fill-opacity="0.19"/>
<circle cx="1208.2" cy="638.8" r="2.1" fill="#cc3a44" fill-opacity="0.19"/>
<circle cx="1210.9" cy="638.5" r="2.1" fill="#cc3a44" fill-opacity="0.19"/>
<circle cx="319.3" cy="225.7" r="2.1" fill="#cc3a44" fill-opacity="0.19"/>
<circle cx="1125.0" cy="560.0" r="2.1" fill="#cc3a44" fill-opacity="0.19"/>
<circle cx="1326.5" cy="647.0" r="2.1" fill="#cc3a44" fill-opacity="0.19"/>
<circle cx="223.3" cy="276.7" r="2.1" fill="#cc3a44" fill-opacity="0.19"/>
<circle cx="1011.5" cy="422.3" r="2.1" fill="#cc3a44" fill-opacity="0.19"/>
<circle cx="1116.0" cy="593.5" r="2.1" fill="#cc3a44" fill-opacity="0.19"/>
<circle cx="804.8" cy="369.7" r="2.1" fill="#cc3a44" fill-opacity="0.19"/>
<circle cx="1136.7" cy="580.0" r="2.1" fill="#cc3a44" fill-opacity="0.19"/>
<circle cx="1104.4" cy="584.4" r="2.1" fill="#cc3a44" fill-opacity="0.19"/>
<circle cx="1005.5" cy="481.1" r="2.1" fill="#cc3a44" fill-opacity="0.19"/>
<circle cx="1210.2" cy="630.4" r="2.1" fill="#cc3a44" fill-opacity="0.19"/>
<circle cx="1238.1" cy="627.5" r="2.1" fill="#cc3a44" fill-opacity="0.19"/>
<circle cx="1323.4" cy="642.5" r="2.1" fill="#cc3a44" fill-opacity="0.19"/>
<circle cx="1205.3" cy="633.2" r="2.1" fill="#cc3a44" fill-opacity="0.19"/>
<circle cx="1329.3" cy="651.5" r="2.1" fill="#cc3a44" fill-opacity="0.19"/>
<circle cx="716.4" cy="470.9" r="2.1" fill="#cc3a44" fill-opacity="0.19"/>
<circle cx="732.0" cy="418.6" r="2.1" fill="#4f7bb3" fill-opacity="0.19"/>
<circle cx="433.9" cy="295.9" r="2.1" fill="#cc3a44" fill-opacity="0.19"/>
<circle cx="627.7" cy="374.8" r="2.1" fill="#cc3a44" fill-opacity="0.19"/>
<circle cx="1012.3" cy="510.1" r="2.1" fill="#cc3a44" fill-opacity="0.19"/>
<circle cx="1209.9" cy="636.9" r="2.1" fill="#cc3a44" fill-opacity="0.19"/>
<circle cx="803.3" cy="401.8" r="2.1" fill="#cc3a44" fill-opacity="0.19"/>
<circle cx="1332.0" cy="623.2" r="2.1" fill="#cc3a44" fill-opacity="0.19"/>
<circle cx="1307.8" cy="648.6" r="2.1" fill="#cc3a44" fill-opacity="0.19"/>
<circle cx="294.9" cy="283.2" r="2.1" fill="#cc3a44" fill-opacity="0.19"/>
<circle cx="1328.6" cy="644.2" r="2.1" fill="#cc3a44" fill-opacity="0.19"/>
<circle cx="705.7" cy="442.3" r="2.1" fill="#4f7bb3" fill-opacity="0.19"/>
<circle cx="618.5" cy="390.2" r="2.1" fill="#cc3a44" fill-opacity="0.19"/>
<circle cx="1125.0" cy="599.1" r="2.1" fill="#cc3a44" fill-opacity="0.19"/>
<circle cx="1235.6" cy="639.9" r="2.1" fill="#cc3a44" fill-opacity="0.19"/>
<circle cx="1042.0" cy="546.6" r="2.1" fill="#cc3a44" fill-opacity="0.19"/>
<circle cx="203.7" cy="251.2" r="2.1" fill="#cc3a44" fill-opacity="0.19"/>
<circle cx="728.1" cy="377.8" r="2.1" fill="#4f7bb3" fill-opacity="0.19"/>
<circle cx="522.8" cy="318.1" r="2.1" fill="#cc3a44" fill-opacity="0.19"/>
<circle cx="1235.0" cy="638.4" r="2.1" fill="#cc3a44" fill-opacity="0.19"/>
<circle cx="1307.4" cy="650.1" r="2.1" fill="#cc3a44" fill-opacity="0.19"/>
<circle cx="1013.5" cy="489.1" r="2.1" fill="#cc3a44" fill-opacity="0.19"/>
<circle cx="1036.6" cy="318.3" r="2.1" fill="#4f7bb3" fill-opacity="0.19"/>
<circle cx="314.6" cy="325.0" r="2.1" fill="#cc3a44" fill-opacity="0.19"/>
<circle cx="721.1" cy="420.8" r="2.1" fill="#4f7bb3" fill-opacity="0.19"/>
<circle cx="1241.1" cy="635.0" r="2.1" fill="#cc3a44" fill-opacity="0.19"/>
<circle cx="1225.0" cy="615.0" r="2.1" fill="#cc3a44" fill-opacity="0.19"/>
<circle cx="1042.5" cy="475.8" r="2.1" fill="#cc3a44" fill-opacity="0.19"/>
<circle cx="1338.8" cy="651.6" r="2.1" fill="#cc3a44" fill-opacity="0.19"/>
<circle cx="1132.0" cy="587.2" r="2.1" fill="#cc3a44" fill-opacity="0.19"/>
<circle cx="1110.4" cy="579.4" r="2.1" fill="#cc3a44" fill-opacity="0.19"/>
<circle cx="929.3" cy="354.7" r="2.1" fill="#4f7bb3" fill-opacity="0.19"/>
<circle cx="1316.3" cy="645.4" r="2.1" fill="#cc3a44" fill-opacity="0.19"/>
<circle cx="1235.3" cy="638.3" r="2.1" fill="#cc3a44" fill-opacity="0.19"/>
<circle cx="314.8" cy="277.5" r="2.1" fill="#cc3a44" fill-opacity="0.19"/>
<circle cx="1106.1" cy="587.3" r="2.1" fill="#cc3a44" fill-opacity="0.19"/>
<circle cx="1128.8" cy="590.3" r="2.1" fill="#cc3a44" fill-opacity="0.19"/>
<circle cx="433.5" cy="275.2" r="2.1" fill="#cc3a44" fill-opacity="0.19"/>
<circle cx="1236.9" cy="637.3" r="2.1" fill="#cc3a44" fill-opacity="0.19"/>
<circle cx="299.4" cy="272.3" r="2.1" fill="#cc3a44" fill-opacity="0.19"/>
<circle cx="501.1" cy="318.1" r="2.1" fill="#4f7bb3" fill-opacity="0.19"/>
<circle cx="1118.9" cy="574.0" r="2.1" fill="#cc3a44" fill-opacity="0.19"/>
<circle cx="917.6" cy="368.0" r="2.1" fill="#cc3a44" fill-opacity="0.19"/>
<circle cx="1110.0" cy="565.8" r="2.1" fill="#cc3a44" fill-opacity="0.19"/>
<circle cx="1105.8" cy="597.5" r="2.1" fill="#cc3a44" fill-opacity="0.19"/>
<circle cx="1217.8" cy="635.2" r="2.1" fill="#cc3a44" fill-opacity="0.19"/>
<circle cx="401.5" cy="236.2" r="2.1" fill="#cc3a44" fill-opacity="0.19"/>
<circle cx="634.2" cy="381.4" r="2.1" fill="#cc3a44" fill-opacity="0.19"/>
<circle cx="1043.2" cy="458.3" r="2.1" fill="#cc3a44" fill-opacity="0.19"/>
<circle cx="1240.2" cy="640.6" r="2.1" fill="#cc3a44" fill-opacity="0.19"/>
<circle cx="1013.2" cy="472.6" r="2.1" fill="#cc3a44" fill-opacity="0.19"/>
<circle cx="1222.8" cy="640.0" r="2.1" fill="#cc3a44" fill-opacity="0.19"/>
<circle cx="497.0" cy="172.6" r="2.1" fill="#cc3a44" fill-opacity="0.19"/>
<circle cx="322.7" cy="353.2" r="2.1" fill="#cc3a44" fill-opacity="0.19"/>
<circle cx="1142.9" cy="586.6" r="2.1" fill="#cc3a44" fill-opacity="0.19"/>
<circle cx="1341.6" cy="609.5" r="2.1" fill="#cc3a44" fill-opacity="0.19"/>
<circle cx="933.8" cy="434.5" r="2.1" fill="#cc3a44" fill-opacity="0.19"/>
<circle cx="1132.4" cy="598.2" r="2.1" fill="#cc3a44" fill-opacity="0.19"/>
<circle cx="1019.7" cy="495.0" r="2.1" fill="#cc3a44" fill-opacity="0.19"/>
<circle cx="1210.3" cy="620.5" r="2.1" fill="#cc3a44" fill-opacity="0.19"/>
<circle cx="1004.7" cy="438.5" r="2.1" fill="#cc3a44" fill-opacity="0.19"/>
<circle cx="435.5" cy="385.9" r="2.1" fill="#cc3a44" fill-opacity="0.19"/>
<circle cx="939.1" cy="437.0" r="2.1" fill="#cc3a44" fill-opacity="0.19"/>
<circle cx="1043.9" cy="384.9" r="2.1" fill="#cc3a44" fill-opacity="0.19"/>
<circle cx="810.0" cy="486.5" r="2.1" fill="#4f7bb3" fill-opacity="0.19"/>
<circle cx="636.3" cy="221.5" r="2.1" fill="#cc3a44" fill-opacity="0.19"/>
<circle cx="631.3" cy="475.2" r="2.1" fill="#cc3a44" fill-opacity="0.19"/>
<circle cx="1008.2" cy="534.2" r="2.1" fill="#cc3a44" fill-opacity="0.19"/>
<circle cx="209.1" cy="289.9" r="2.1" fill="#cc3a44" fill-opacity="0.19"/>
<circle cx="1339.5" cy="449.2" r="2.1" fill="#cc3a44" fill-opacity="0.19"/>
<circle cx="1337.8" cy="635.3" r="2.1" fill="#cc3a44" fill-opacity="0.19"/>
<circle cx="1110.1" cy="583.6" r="2.1" fill="#cc3a44" fill-opacity="0.19"/>
<circle cx="300.6" cy="312.2" r="2.1" fill="#cc3a44" fill-opacity="0.19"/>
<circle cx="411.3" cy="278.3" r="2.1" fill="#cc3a44" fill-opacity="0.19"/>
<circle cx="1314.2" cy="652.8" r="2.1" fill="#cc3a44" fill-opacity="0.19"/>
<circle cx="428.8" cy="350.2" r="2.1" fill="#cc3a44" fill-opacity="0.19"/>
<circle cx="531.0" cy="303.9" r="2.1" fill="#4f7bb3" fill-opacity="0.19"/>
<circle cx="322.0" cy="298.6" r="2.1" fill="#cc3a44" fill-opacity="0.19"/>
<circle cx="1010.3" cy="491.6" r="2.1" fill="#cc3a44" fill-opacity="0.19"/>
<circle cx="1330.2" cy="634.0" r="2.1" fill="#cc3a44" fill-opacity="0.19"/>
<circle cx="1110.8" cy="575.1" r="2.1" fill="#cc3a44" fill-opacity="0.19"/>
<circle cx="1131.0" cy="585.1" r="2.1" fill="#cc3a44" fill-opacity="0.19"/>
<circle cx="1241.1" cy="639.5" r="2.1" fill="#cc3a44" fill-opacity="0.19"/>
<circle cx="1032.1" cy="593.7" r="2.1" fill="#cc3a44" fill-opacity="0.19"/>
<circle cx="1339.5" cy="649.8" r="2.1" fill="#cc3a44" fill-opacity="0.19"/>
<circle cx="713.2" cy="465.3" r="2.1" fill="#cc3a44" fill-opacity="0.19"/>
<circle cx="1029.6" cy="491.5" r="2.1" fill="#cc3a44" fill-opacity="0.19"/>
<circle cx="320.4" cy="241.8" r="2.1" fill="#cc3a44" fill-opacity="0.19"/>
<circle cx="1231.8" cy="639.3" r="2.1" fill="#cc3a44" fill-opacity="0.19"/>
<circle cx="1210.0" cy="639.0" r="2.1" fill="#cc3a44" fill-opacity="0.19"/>
<circle cx="804.8" cy="446.8" r="2.1" fill="#4f7bb3" fill-opacity="0.19"/>
<circle cx="632.4" cy="249.5" r="2.1" fill="#cc3a44" fill-opacity="0.19"/>
<circle cx="1027.2" cy="515.5" r="2.1" fill="#cc3a44" fill-opacity="0.19"/>
<circle cx="1027.0" cy="320.7" r="2.1" fill="#4f7bb3" fill-opacity="0.19"/>
<circle cx="1116.8" cy="597.8" r="2.1" fill="#cc3a44" fill-opacity="0.19"/>
<circle cx="508.9" cy="422.8" r="2.1" fill="#cc3a44" fill-opacity="0.19"/>
<circle cx="1133.6" cy="596.8" r="2.1" fill="#cc3a44" fill-opacity="0.19"/>
<circle cx="630.9" cy="299.7" r="2.1" fill="#cc3a44" fill-opacity="0.19"/>
<circle cx="1329.9" cy="643.9" r="2.1" fill="#cc3a44" fill-opacity="0.19"/>
<circle cx="1225.7" cy="627.7" r="2.1" fill="#cc3a44" fill-opacity="0.19"/>
<circle cx="1024.2" cy="512.0" r="2.1" fill="#cc3a44" fill-opacity="0.19"/>
<circle cx="1208.3" cy="640.0" r="2.1" fill="#cc3a44" fill-opacity="0.19"/>
<circle cx="1227.0" cy="632.9" r="2.1" fill="#cc3a44" fill-opacity="0.19"/>
<circle cx="1231.5" cy="638.6" r="2.1" fill="#cc3a44" fill-opacity="0.19"/>
<circle cx="719.0" cy="467.4" r="2.1" fill="#cc3a44" fill-opacity="0.19"/>
<circle cx="1128.4" cy="596.8" r="2.1" fill="#cc3a44" fill-opacity="0.19"/>
<circle cx="323.1" cy="325.4" r="2.1" fill="#cc3a44" fill-opacity="0.19"/>
<circle cx="393.9" cy="359.8" r="2.1" fill="#cc3a44" fill-opacity="0.19"/>
<circle cx="619.4" cy="464.2" r="2.1" fill="#cc3a44" fill-opacity="0.19"/>
<circle cx="1110.6" cy="587.0" r="2.1" fill="#cc3a44" fill-opacity="0.19"/>
<circle cx="1326.8" cy="618.9" r="2.1" fill="#cc3a44" fill-opacity="0.19"/>
<circle cx="1035.3" cy="549.5" r="2.1" fill="#cc3a44" fill-opacity="0.19"/>
<circle cx="932.4" cy="457.1" r="2.1" fill="#cc3a44" fill-opacity="0.19"/>
<circle cx="1336.6" cy="649.0" r="2.1" fill="#cc3a44" fill-opacity="0.19"/>
<circle cx="1326.0" cy="642.0" r="2.1" fill="#cc3a44" fill-opacity="0.19"/>
<circle cx="1005.3" cy="568.5" r="2.1" fill="#cc3a44" fill-opacity="0.19"/>
<circle cx="1007.4" cy="493.2" r="2.1" fill="#cc3a44" fill-opacity="0.19"/>
<circle cx="1013.4" cy="544.3" r="2.1" fill="#cc3a44" fill-opacity="0.19"/>
<circle cx="1237.3" cy="641.2" r="2.1" fill="#cc3a44" fill-opacity="0.19"/>
<circle cx="1113.9" cy="598.9" r="2.1" fill="#cc3a44" fill-opacity="0.19"/>
<circle cx="620.3" cy="284.9" r="2.1" fill="#4f7bb3" fill-opacity="0.19"/>
<circle cx="1041.6" cy="508.7" r="2.1" fill="#cc3a44" fill-opacity="0.19"/>
<circle cx="1344.1" cy="640.9" r="2.1" fill="#cc3a44" fill-opacity="0.19"/>
<circle cx="201.0" cy="317.7" r="2.1" fill="#4f7bb3" fill-opacity="0.19"/>
<circle cx="1227.0" cy="629.9" r="2.1" fill="#cc3a44" fill-opacity="0.19"/>
<circle cx="1344.8" cy="651.6" r="2.1" fill="#cc3a44" fill-opacity="0.19"/>
<circle cx="1020.9" cy="489.4" r="2.1" fill="#cc3a44" fill-opacity="0.19"/>
<circle cx="195.3" cy="291.7" r="2.1" fill="#cc3a44" fill-opacity="0.19"/>
<circle cx="1021.3" cy="373.2" r="2.1" fill="#cc3a44" fill-opacity="0.19"/>
<circle cx="1321.1" cy="619.8" r="2.1" fill="#cc3a44" fill-opacity="0.19"/>
<circle cx="1121.4" cy="577.9" r="2.1" fill="#cc3a44" fill-opacity="0.19"/>
<circle cx="626.6" cy="363.8" r="2.1" fill="#cc3a44" fill-opacity="0.19"/>
<circle cx="1336.0" cy="621.1" r="2.1" fill="#cc3a44" fill-opacity="0.19"/>
<circle cx="1029.1" cy="550.6" r="2.1" fill="#cc3a44" fill-opacity="0.19"/>
<circle cx="1221.9" cy="638.1" r="2.1" fill="#cc3a44" fill-opacity="0.19"/>
<circle cx="316.3" cy="163.8" r="2.1" fill="#cc3a44" fill-opacity="0.19"/>
<circle cx="1344.7" cy="619.6" r="2.1" fill="#cc3a44" fill-opacity="0.19"/>
<circle cx="833.7" cy="367.6" r="2.1" fill="#cc3a44" fill-opacity="0.19"/>
<circle cx="1039.9" cy="559.0" r="2.1" fill="#cc3a44" fill-opacity="0.19"/>
<circle cx="1220.5" cy="638.9" r="2.1" fill="#cc3a44" fill-opacity="0.19"/>
<circle cx="1208.7" cy="627.7" r="2.1" fill="#cc3a44" fill-opacity="0.19"/>
<circle cx="405.1" cy="291.1" r="2.1" fill="#cc3a44" fill-opacity="0.19"/>
<circle cx="418.6" cy="359.0" r="2.1" fill="#cc3a44" fill-opacity="0.19"/>
<circle cx="1333.4" cy="662.7" r="2.1" fill="#cc3a44" fill-opacity="0.19"/>
<circle cx="913.7" cy="354.4" r="2.1" fill="#4f7bb3" fill-opacity="0.19"/>
<circle cx="1335.5" cy="655.2" r="2.1" fill="#cc3a44" fill-opacity="0.19"/>
<circle cx="1042.1" cy="548.4" r="2.1" fill="#cc3a44" fill-opacity="0.19"/>
<circle cx="333.2" cy="305.5" r="2.1" fill="#cc3a44" fill-opacity="0.19"/>
<circle cx="1231.8" cy="627.9" r="2.1" fill="#cc3a44" fill-opacity="0.19"/>
<circle cx="205.8" cy="286.6" r="2.1" fill="#cc3a44" fill-opacity="0.19"/>
<circle cx="715.9" cy="455.7" r="2.1" fill="#cc3a44" fill-opacity="0.19"/>
<circle cx="1214.4" cy="640.2" r="2.1" fill="#cc3a44" fill-opacity="0.19"/>
<circle cx="710.0" cy="428.7" r="2.1" fill="#4f7bb3" fill-opacity="0.19"/>
<circle cx="1332.0" cy="656.4" r="2.1" fill="#cc3a44" fill-opacity="0.19"/>
<circle cx="1005.9" cy="491.0" r="2.1" fill="#cc3a44" fill-opacity="0.19"/>
<circle cx="210.4" cy="345.7" r="2.1" fill="#cc3a44" fill-opacity="0.19"/>
<circle cx="1035.7" cy="448.6" r="2.1" fill="#cc3a44" fill-opacity="0.19"/>
<circle cx="1017.4" cy="316.4" r="2.1" fill="#4f7bb3" fill-opacity="0.19"/>
<circle cx="1038.1" cy="475.8" r="2.1" fill="#cc3a44" fill-opacity="0.19"/>
<circle cx="1016.8" cy="515.0" r="2.1" fill="#cc3a44" fill-opacity="0.19"/>
<circle cx="1206.7" cy="627.2" r="2.1" fill="#cc3a44" fill-opacity="0.19"/>
<circle cx="815.7" cy="477.6" r="2.1" fill="#cc3a44" fill-opacity="0.19"/>
<circle cx="1308.1" cy="610.4" r="2.1" fill="#cc3a44" fill-opacity="0.19"/>
<circle cx="618.2" cy="412.3" r="2.1" fill="#cc3a44" fill-opacity="0.19"/>
<circle cx="616.8" cy="450.6" r="2.1" fill="#cc3a44" fill-opacity="0.19"/>
<circle cx="512.0" cy="480.0" r="2.1" fill="#4f7bb3" fill-opacity="0.19"/>
<circle cx="704.6" cy="466.5" r="2.1" fill="#cc3a44" fill-opacity="0.19"/>
<circle cx="232.7" cy="324.6" r="2.1" fill="#cc3a44" fill-opacity="0.19"/>
<circle cx="313.9" cy="336.4" r="2.1" fill="#cc3a44" fill-opacity="0.19"/>
<circle cx="804.8" cy="479.5" r="2.1" fill="#cc3a44" fill-opacity="0.19"/>
<circle cx="1025.6" cy="514.8" r="2.1" fill="#cc3a44" fill-opacity="0.19"/>
<circle cx="941.7" cy="482.6" r="2.1" fill="#cc3a44" fill-opacity="0.19"/>
<circle cx="1333.5" cy="631.2" r="2.1" fill="#cc3a44" fill-opacity="0.19"/>
<circle cx="923.7" cy="498.7" r="2.1" fill="#cc3a44" fill-opacity="0.19"/>
<circle cx="731.0" cy="460.1" r="2.1" fill="#cc3a44" fill-opacity="0.19"/>
<circle cx="1324.8" cy="618.0" r="2.1" fill="#cc3a44" fill-opacity="0.19"/>
<circle cx="801.9" cy="474.3" r="2.1" fill="#4f7bb3" fill-opacity="0.19"/>
<circle cx="1325.1" cy="649.8" r="2.1" fill="#cc3a44" fill-opacity="0.19"/>
<circle cx="1022.5" cy="524.4" r="2.1" fill="#cc3a44" fill-opacity="0.19"/>
<circle cx="929.8" cy="476.7" r="2.1" fill="#cc3a44" fill-opacity="0.19"/>
<circle cx="1026.9" cy="515.4" r="2.1" fill="#cc3a44" fill-opacity="0.19"/>
<circle cx="606.4" cy="361.9" r="2.1" fill="#cc3a44" fill-opacity="0.19"/>
<circle cx="730.3" cy="389.0" r="2.1" fill="#4f7bb3" fill-opacity="0.19"/>
<circle cx="827.6" cy="438.8" r="2.1" fill="#4f7bb3" fill-opacity="0.19"/>
<circle cx="527.8" cy="306.9" r="2.1" fill="#4f7bb3" fill-opacity="0.19"/>
<circle cx="1014.2" cy="574.1" r="2.1" fill="#cc3a44" fill-opacity="0.19"/>
<circle cx="1239.4" cy="635.0" r="2.1" fill="#cc3a44" fill-opacity="0.19"/>
<circle cx="311.9" cy="334.3" r="2.1" fill="#cc3a44" fill-opacity="0.19"/>
<circle cx="1313.7" cy="641.6" r="2.1" fill="#cc3a44" fill-opacity="0.19"/>
<circle cx="624.4" cy="386.0" r="2.1" fill="#cc3a44" fill-opacity="0.19"/>
<circle cx="1337.8" cy="648.6" r="2.1" fill="#cc3a44" fill-opacity="0.19"/>
<circle cx="1321.5" cy="653.8" r="2.1" fill="#cc3a44" fill-opacity="0.19"/>
<circle cx="1030.7" cy="561.9" r="2.1" fill="#cc3a44" fill-opacity="0.19"/>
<circle cx="726.6" cy="429.0" r="2.1" fill="#4f7bb3" fill-opacity="0.19"/>
<circle cx="1027.9" cy="436.4" r="2.1" fill="#cc3a44" fill-opacity="0.19"/>
<circle cx="504.8" cy="315.1" r="2.1" fill="#cc3a44" fill-opacity="0.19"/>
<circle cx="512.1" cy="370.4" r="2.1" fill="#4f7bb3" fill-opacity="0.19"/>
<circle cx="1029.9" cy="407.3" r="2.1" fill="#cc3a44" fill-opacity="0.19"/>
<circle cx="1227.2" cy="620.9" r="2.1" fill="#cc3a44" fill-opacity="0.19"/>
<circle cx="1020.9" cy="594.7" r="2.1" fill="#cc3a44" fill-opacity="0.19"/>
<circle cx="632.6" cy="419.8" r="2.1" fill="#cc3a44" fill-opacity="0.19"/>
<circle cx="1030.9" cy="540.4" r="2.1" fill="#cc3a44" fill-opacity="0.19"/>
<circle cx="1310.9" cy="649.5" r="2.1" fill="#cc3a44" fill-opacity="0.19"/>
<circle cx="1016.7" cy="498.5" r="2.1" fill="#cc3a44" fill-opacity="0.19"/>
<circle cx="1216.7" cy="520.4" r="2.1" fill="#cc3a44" fill-opacity="0.19"/>
<circle cx="1222.6" cy="639.1" r="2.1" fill="#cc3a44" fill-opacity="0.19"/>
<circle cx="1026.7" cy="392.4" r="2.1" fill="#cc3a44" fill-opacity="0.19"/>
<circle cx="192.6" cy="279.2" r="2.1" fill="#cc3a44" fill-opacity="0.19"/>
<circle cx="1314.2" cy="646.8" r="2.1" fill="#cc3a44" fill-opacity="0.19"/>
<circle cx="1320.8" cy="639.8" r="2.1" fill="#cc3a44" fill-opacity="0.19"/>
<circle cx="315.9" cy="300.5" r="2.1" fill="#cc3a44" fill-opacity="0.19"/>
<circle cx="523.6" cy="240.4" r="2.1" fill="#4f7bb3" fill-opacity="0.19"/>
<circle cx="298.1" cy="285.1" r="2.1" fill="#cc3a44" fill-opacity="0.19"/>
<circle cx="833.2" cy="438.8" r="2.1" fill="#4f7bb3" fill-opacity="0.19"/>
<circle cx="500.3" cy="241.1" r="2.1" fill="#4f7bb3" fill-opacity="0.19"/>
<circle cx="1238.7" cy="636.3" r="2.1" fill="#cc3a44" fill-opacity="0.19"/>
<circle cx="1112.7" cy="597.5" r="2.1" fill="#cc3a44" fill-opacity="0.19"/>
<circle cx="1240.6" cy="639.8" r="2.1" fill="#cc3a44" fill-opacity="0.19"/>
<circle cx="713.0" cy="392.2" r="2.1" fill="#4f7bb3" fill-opacity="0.19"/>
<circle cx="1318.1" cy="623.3" r="2.1" fill="#cc3a44" fill-opacity="0.19"/>
<circle cx="394.9" cy="323.6" r="2.1" fill="#cc3a44" fill-opacity="0.19"/>
<circle cx="314.3" cy="259.1" r="2.1" fill="#cc3a44" fill-opacity="0.19"/>
<circle cx="521.7" cy="269.7" r="2.1" fill="#cc3a44" fill-opacity="0.19"/>
<circle cx="823.9" cy="434.9" r="2.1" fill="#4f7bb3" fill-opacity="0.19"/>
<circle cx="403.3" cy="293.5" r="2.1" fill="#cc3a44" fill-opacity="0.19"/>
<circle cx="1104.6" cy="589.4" r="2.1" fill="#cc3a44" fill-opacity="0.19"/>
<circle cx="1218.5" cy="641.6" r="2.1" fill="#cc3a44" fill-opacity="0.19"/>
<circle cx="1222.2" cy="637.6" r="2.1" fill="#cc3a44" fill-opacity="0.19"/>
<circle cx="1015.0" cy="387.1" r="2.1" fill="#cc3a44" fill-opacity="0.19"/>
<circle cx="510.8" cy="320.2" r="2.1" fill="#4f7bb3" fill-opacity="0.19"/>
<circle cx="511.7" cy="299.7" r="2.1" fill="#4f7bb3" fill-opacity="0.19"/>
<circle cx="1011.8" cy="464.6" r="2.1" fill="#cc3a44" fill-opacity="0.19"/>
<circle cx="1339.0" cy="630.2" r="2.1" fill="#cc3a44" fill-opacity="0.19"/>
<circle cx="195.9" cy="300.5" r="2.1" fill="#cc3a44" fill-opacity="0.19"/>
<circle cx="836.0" cy="448.5" r="2.1" fill="#4f7bb3" fill-opacity="0.19"/>
<circle cx="1126.3" cy="588.7" r="2.1" fill="#cc3a44" fill-opacity="0.19"/>
<circle cx="1139.7" cy="582.4" r="2.1" fill="#cc3a44" fill-opacity="0.19"/>
<circle cx="829.6" cy="465.3" r="2.1" fill="#4f7bb3" fill-opacity="0.19"/>
<circle cx="1024.7" cy="497.9" r="2.1" fill="#cc3a44" fill-opacity="0.19"/>
<circle cx="1113.1" cy="596.1" r="2.1" fill="#cc3a44" fill-opacity="0.19"/>
<circle cx="1030.5" cy="381.2" r="2.1" fill="#cc3a44" fill-opacity="0.19"/>
<circle cx="1120.5" cy="575.5" r="2.1" fill="#cc3a44" fill-opacity="0.19"/>
<circle cx="617.2" cy="423.7" r="2.1" fill="#cc3a44" fill-opacity="0.19"/>
<circle cx="1236.0" cy="656.4" r="2.1" fill="#cc3a44" fill-opacity="0.19"/>
<circle cx="524.2" cy="335.5" r="2.1" fill="#cc3a44" fill-opacity="0.19"/>
<circle cx="1116.8" cy="587.0" r="2.1" fill="#cc3a44" fill-opacity="0.19"/>
<circle cx="1032.1" cy="498.7" r="2.1" fill="#cc3a44" fill-opacity="0.19"/>
<circle cx="1124.9" cy="583.0" r="2.1" fill="#cc3a44" fill-opacity="0.19"/>
<circle cx="1315.1" cy="649.7" r="2.1" fill="#cc3a44" fill-opacity="0.19"/>
<circle cx="1313.6" cy="653.8" r="2.1" fill="#cc3a44" fill-opacity="0.19"/>
<circle cx="513.7" cy="323.3" r="2.1" fill="#cc3a44" fill-opacity="0.19"/>
<circle cx="1040.2" cy="542.7" r="2.1" fill="#cc3a44" fill-opacity="0.19"/>
<circle cx="435.6" cy="296.6" r="2.1" fill="#cc3a44" fill-opacity="0.19"/>
<circle cx="925.9" cy="502.3" r="2.1" fill="#cc3a44" fill-opacity="0.19"/>
<circle cx="1306.4" cy="642.5" r="2.1" fill="#cc3a44" fill-opacity="0.19"/>
<circle cx="201.7" cy="241.4" r="2.1" fill="#cc3a44" fill-opacity="0.19"/>
<circle cx="311.1" cy="300.5" r="2.1" fill="#cc3a44" fill-opacity="0.19"/>
<circle cx="1008.3" cy="482.8" r="2.1" fill="#cc3a44" fill-opacity="0.19"/>
<circle cx="1221.1" cy="630.4" r="2.1" fill="#cc3a44" fill-opacity="0.19"/>
<circle cx="1225.8" cy="637.7" r="2.1" fill="#cc3a44" fill-opacity="0.19"/>
<circle cx="1034.4" cy="546.7" r="2.1" fill="#cc3a44" fill-opacity="0.19"/>
<circle cx="1240.0" cy="610.0" r="2.1" fill="#cc3a44" fill-opacity="0.19"/>
<circle cx="1306.5" cy="649.9" r="2.1" fill="#cc3a44" fill-opacity="0.19"/>
<circle cx="1118.1" cy="585.2" r="2.1" fill="#cc3a44" fill-opacity="0.19"/>
<circle cx="500.8" cy="349.4" r="2.1" fill="#4f7bb3" fill-opacity="0.19"/>
<circle cx="1344.3" cy="646.2" r="2.1" fill="#cc3a44" fill-opacity="0.19"/>
<circle cx="1127.9" cy="591.8" r="2.1" fill="#cc3a44" fill-opacity="0.19"/>
<circle cx="1133.0" cy="597.1" r="2.1" fill="#cc3a44" fill-opacity="0.19"/>
<circle cx="937.1" cy="450.9" r="2.1" fill="#cc3a44" fill-opacity="0.19"/>
<circle cx="1241.3" cy="639.9" r="2.1" fill="#cc3a44" fill-opacity="0.19"/>
<circle cx="511.0" cy="388.4" r="2.1" fill="#cc3a44" fill-opacity="0.19"/>
<circle cx="1234.5" cy="634.9" r="2.1" fill="#cc3a44" fill-opacity="0.19"/>
<circle cx="1311.8" cy="634.2" r="2.1" fill="#cc3a44" fill-opacity="0.19"/>
<circle cx="509.7" cy="373.8" r="2.1" fill="#4f7bb3" fill-opacity="0.19"/>
<circle cx="199.0" cy="308.1" r="2.1" fill="#4f7bb3" fill-opacity="0.19"/>
<circle cx="1214.5" cy="635.6" r="2.1" fill="#cc3a44" fill-opacity="0.19"/>
<circle cx="617.4" cy="437.3" r="2.1" fill="#cc3a44" fill-opacity="0.19"/>
<circle cx="636.2" cy="240.7" r="2.1" fill="#cc3a44" fill-opacity="0.19"/>
<circle cx="1223.0" cy="634.1" r="2.1" fill="#cc3a44" fill-opacity="0.19"/>
<circle cx="1214.5" cy="638.4" r="2.1" fill="#cc3a44" fill-opacity="0.19"/>
<circle cx="1222.3" cy="638.4" r="2.1" fill="#cc3a44" fill-opacity="0.19"/>
<circle cx="1212.6" cy="641.0" r="2.1" fill="#cc3a44" fill-opacity="0.19"/>
<circle cx="1121.1" cy="599.5" r="2.1" fill="#cc3a44" fill-opacity="0.19"/>
<circle cx="1136.7" cy="589.0" r="2.1" fill="#cc3a44" fill-opacity="0.19"/>
<circle cx="1339.7" cy="649.0" r="2.1" fill="#cc3a44" fill-opacity="0.19"/>
<circle cx="1123.9" cy="576.2" r="2.1" fill="#cc3a44" fill-opacity="0.19"/>
<circle cx="723.7" cy="427.7" r="2.1" fill="#cc3a44" fill-opacity="0.19"/>
<circle cx="1006.8" cy="524.0" r="2.1" fill="#cc3a44" fill-opacity="0.19"/>
<circle cx="1340.8" cy="631.6" r="2.1" fill="#cc3a44" fill-opacity="0.19"/>
<circle cx="1121.7" cy="597.4" r="2.1" fill="#cc3a44" fill-opacity="0.19"/>
<circle cx="1016.3" cy="456.7" r="2.1" fill="#cc3a44" fill-opacity="0.19"/>
<circle cx="1007.5" cy="451.0" r="2.1" fill="#cc3a44" fill-opacity="0.19"/>
<circle cx="915.7" cy="435.5" r="2.1" fill="#cc3a44" fill-opacity="0.19"/>
<circle cx="1343.6" cy="647.5" r="2.1" fill="#cc3a44" fill-opacity="0.19"/>
<circle cx="1025.4" cy="487.9" r="2.1" fill="#cc3a44" fill-opacity="0.19"/>
<circle cx="1141.3" cy="599.2" r="2.1" fill="#cc3a44" fill-opacity="0.19"/>
<circle cx="415.1" cy="242.8" r="2.1" fill="#cc3a44" fill-opacity="0.19"/>
<circle cx="1343.1" cy="650.5" r="2.1" fill="#cc3a44" fill-opacity="0.19"/>
<circle cx="1133.6" cy="588.0" r="2.1" fill="#cc3a44" fill-opacity="0.19"/>
<circle cx="1235.4" cy="639.5" r="2.1" fill="#cc3a44" fill-opacity="0.19"/>
<circle cx="1025.6" cy="556.4" r="2.1" fill="#cc3a44" fill-opacity="0.19"/>
<circle cx="433.8" cy="340.1" r="2.1" fill="#cc3a44" fill-opacity="0.19"/>
<circle cx="1138.2" cy="585.4" r="2.1" fill="#cc3a44" fill-opacity="0.19"/>
<circle cx="913.6" cy="443.9" r="2.1" fill="#cc3a44" fill-opacity="0.19"/>
<circle cx="414.6" cy="315.7" r="2.1" fill="#cc3a44" fill-opacity="0.19"/>
<circle cx="1108.0" cy="597.7" r="2.1" fill="#cc3a44" fill-opacity="0.19"/>
<circle cx="1337.4" cy="638.4" r="2.1" fill="#cc3a44" fill-opacity="0.19"/>
<circle cx="533.6" cy="312.2" r="2.1" fill="#cc3a44" fill-opacity="0.19"/>
<circle cx="710.0" cy="419.0" r="2.1" fill="#4f7bb3" fill-opacity="0.19"/>
<circle cx="1217.3" cy="587.1" r="2.1" fill="#cc3a44" fill-opacity="0.19"/>
<circle cx="223.8" cy="289.1" r="2.1" fill="#cc3a44" fill-opacity="0.19"/>
<circle cx="1229.9" cy="634.3" r="2.1" fill="#cc3a44" fill-opacity="0.19"/>
<circle cx="835.6" cy="409.4" r="2.1" fill="#cc3a44" fill-opacity="0.19"/>
<circle cx="195.1" cy="272.8" r="2.1" fill="#4f7bb3" fill-opacity="0.19"/>
<circle cx="814.6" cy="430.7" r="2.1" fill="#4f7bb3" fill-opacity="0.19"/>
<circle cx="723.5" cy="398.4" r="2.1" fill="#cc3a44" fill-opacity="0.19"/>
<circle cx="1205.6" cy="640.0" r="2.1" fill="#cc3a44" fill-opacity="0.19"/>
<circle cx="509.5" cy="274.4" r="2.1" fill="#4f7bb3" fill-opacity="0.19"/>
<circle cx="838.5" cy="426.5" r="2.1" fill="#4f7bb3" fill-opacity="0.19"/>
<circle cx="1231.0" cy="636.3" r="2.1" fill="#cc3a44" fill-opacity="0.19"/>
<circle cx="832.8" cy="384.0" r="2.1" fill="#4f7bb3" fill-opacity="0.19"/>
<circle cx="1330.3" cy="584.3" r="2.1" fill="#cc3a44" fill-opacity="0.19"/>
<circle cx="1126.8" cy="575.5" r="2.1" fill="#cc3a44" fill-opacity="0.19"/>
<circle cx="725.4" cy="427.5" r="2.1" fill="#cc3a44" fill-opacity="0.19"/>
<circle cx="822.3" cy="416.4" r="2.1" fill="#4f7bb3" fill-opacity="0.19"/>
<circle cx="730.5" cy="463.4" r="2.1" fill="#4f7bb3" fill-opacity="0.19"/>
<circle cx="1017.7" cy="482.8" r="2.1" fill="#cc3a44" fill-opacity="0.19"/>
<circle cx="727.1" cy="458.3" r="2.1" fill="#cc3a44" fill-opacity="0.19"/>
<circle cx="1104.3" cy="592.5" r="2.1" fill="#cc3a44" fill-opacity="0.19"/>
<circle cx="916.8" cy="389.0" r="2.1" fill="#cc3a44" fill-opacity="0.19"/>
<circle cx="1204.9" cy="633.6" r="2.1" fill="#cc3a44" fill-opacity="0.19"/>
<circle cx="1125.4" cy="577.0" r="2.1" fill="#cc3a44" fill-opacity="0.19"/>
<circle cx="425.3" cy="298.8" r="2.1" fill="#cc3a44" fill-opacity="0.19"/>
<circle cx="1236.2" cy="630.4" r="2.1" fill="#cc3a44" fill-opacity="0.19"/>
<circle cx="930.0" cy="351.0" r="2.1" fill="#4f7bb3" fill-opacity="0.19"/>
<circle cx="1242.7" cy="640.0" r="2.1" fill="#cc3a44" fill-opacity="0.19"/>
<circle cx="715.9" cy="449.7" r="2.1" fill="#4f7bb3" fill-opacity="0.19"/>
<circle cx="1111.7" cy="595.3" r="2.1" fill="#cc3a44" fill-opacity="0.19"/>
<circle cx="1142.8" cy="583.1" r="2.1" fill="#cc3a44" fill-opacity="0.19"/>
<circle cx="512.0" cy="316.7" r="2.1" fill="#cc3a44" fill-opacity="0.19"/>
<circle cx="501.3" cy="281.9" r="2.1" fill="#4f7bb3" fill-opacity="0.19"/>
<circle cx="922.1" cy="459.2" r="2.1" fill="#cc3a44" fill-opacity="0.19"/>
<circle cx="801.5" cy="399.4" r="2.1" fill="#cc3a44" fill-opacity="0.19"/>
<circle cx="1111.0" cy="545.2" r="2.1" fill="#cc3a44" fill-opacity="0.19"/>
<circle cx="197.8" cy="312.9" r="2.1" fill="#4f7bb3" fill-opacity="0.19"/>
<circle cx="1122.3" cy="586.5" r="2.1" fill="#cc3a44" fill-opacity="0.19"/>
<circle cx="1023.2" cy="434.1" r="2.1" fill="#cc3a44" fill-opacity="0.19"/>
<circle cx="817.1" cy="374.9" r="2.1" fill="#cc3a44" fill-opacity="0.19"/>
<circle cx="525.6" cy="280.4" r="2.1" fill="#4f7bb3" fill-opacity="0.19"/>
<circle cx="1327.7" cy="644.3" r="2.1" fill="#cc3a44" fill-opacity="0.19"/>
<circle cx="1342.6" cy="650.1" r="2.1" fill="#cc3a44" fill-opacity="0.19"/>
<circle cx="1009.3" cy="500.3" r="2.1" fill="#cc3a44" fill-opacity="0.19"/>
<circle cx="703.6" cy="417.9" r="2.1" fill="#4f7bb3" fill-opacity="0.19"/>
<circle cx="1315.0" cy="631.2" r="2.1" fill="#cc3a44" fill-opacity="0.19"/>
<circle cx="1018.2" cy="526.2" r="2.1" fill="#cc3a44" fill-opacity="0.19"/>
<circle cx="1236.0" cy="596.0" r="2.1" fill="#cc3a44" fill-opacity="0.19"/>
<circle cx="716.6" cy="421.1" r="2.1" fill="#4f7bb3" fill-opacity="0.19"/>
<circle cx="1118.9" cy="550.2" r="2.1" fill="#cc3a44" fill-opacity="0.19"/>
<circle cx="1241.1" cy="638.3" r="2.1" fill="#cc3a44" fill-opacity="0.19"/>
<circle cx="1035.0" cy="551.1" r="2.1" fill="#cc3a44" fill-opacity="0.19"/>
<circle cx="1216.1" cy="636.2" r="2.1" fill="#cc3a44" fill-opacity="0.19"/>
<circle cx="616.8" cy="416.9" r="2.1" fill="#cc3a44" fill-opacity="0.19"/>
<circle cx="1234.8" cy="637.3" r="2.1" fill="#cc3a44" fill-opacity="0.19"/>
<circle cx="206.2" cy="314.5" r="2.1" fill="#4f7bb3" fill-opacity="0.19"/>
<circle cx="1032.6" cy="544.1" r="2.1" fill="#cc3a44" fill-opacity="0.19"/>
<circle cx="1332.6" cy="649.9" r="2.1" fill="#cc3a44" fill-opacity="0.19"/>
<circle cx="296.0" cy="202.8" r="2.1" fill="#cc3a44" fill-opacity="0.19"/>
<circle cx="1307.4" cy="649.2" r="2.1" fill="#cc3a44" fill-opacity="0.19"/>
<circle cx="1113.4" cy="594.8" r="2.1" fill="#cc3a44" fill-opacity="0.19"/>
<circle cx="1218.8" cy="640.1" r="2.1" fill="#cc3a44" fill-opacity="0.19"/>
<circle cx="1136.9" cy="589.8" r="2.1" fill="#cc3a44" fill-opacity="0.19"/>
<circle cx="1032.5" cy="493.2" r="2.1" fill="#cc3a44" fill-opacity="0.19"/>
<circle cx="1102.2" cy="596.5" r="2.1" fill="#cc3a44" fill-opacity="0.19"/>
<circle cx="202.4" cy="258.3" r="2.1" fill="#4f7bb3" fill-opacity="0.19"/>
<circle cx="220.7" cy="353.0" r="2.1" fill="#cc3a44" fill-opacity="0.19"/>
<circle cx="304.9" cy="314.9" r="2.1" fill="#cc3a44" fill-opacity="0.19"/>
<circle cx="1214.0" cy="636.9" r="2.1" fill="#cc3a44" fill-opacity="0.19"/>
<circle cx="928.2" cy="430.7" r="2.1" fill="#cc3a44" fill-opacity="0.19"/>
<circle cx="1328.7" cy="649.8" r="2.1" fill="#cc3a44" fill-opacity="0.19"/>
<circle cx="1336.9" cy="650.4" r="2.1" fill="#cc3a44" fill-opacity="0.19"/>
<circle cx="1130.3" cy="599.6" r="2.1" fill="#cc3a44" fill-opacity="0.19"/>
<circle cx="943.2" cy="452.3" r="2.1" fill="#cc3a44" fill-opacity="0.19"/>
<circle cx="621.3" cy="296.9" r="2.1" fill="#cc3a44" fill-opacity="0.19"/>
<circle cx="1125.1" cy="585.2" r="2.1" fill="#cc3a44" fill-opacity="0.19"/>
<circle cx="628.5" cy="374.4" r="2.1" fill="#cc3a44" fill-opacity="0.19"/>
<circle cx="1120.3" cy="580.4" r="2.1" fill="#cc3a44" fill-opacity="0.19"/>
<circle cx="1307.2" cy="622.5" r="2.1" fill="#cc3a44" fill-opacity="0.19"/>
<circle cx="1020.1" cy="458.3" r="2.1" fill="#cc3a44" fill-opacity="0.19"/>
<circle cx="810.8" cy="474.2" r="2.1" fill="#cc3a44" fill-opacity="0.19"/>
<circle cx="1139.0" cy="577.7" r="2.1" fill="#cc3a44" fill-opacity="0.19"/>
<circle cx="1011.3" cy="375.1" r="2.1" fill="#cc3a44" fill-opacity="0.19"/>
<circle cx="1326.2" cy="648.9" r="2.1" fill="#cc3a44" fill-opacity="0.19"/>
<circle cx="1328.8" cy="623.7" r="2.1" fill="#cc3a44" fill-opacity="0.19"/>
<circle cx="198.6" cy="274.6" r="2.1" fill="#cc3a44" fill-opacity="0.19"/>
<circle cx="836.7" cy="340.7" r="2.1" fill="#cc3a44" fill-opacity="0.19"/>
<circle cx="614.1" cy="216.1" r="2.1" fill="#cc3a44" fill-opacity="0.19"/>
<circle cx="1021.7" cy="508.2" r="2.1" fill="#cc3a44" fill-opacity="0.19"/>
<circle cx="1331.0" cy="632.7" r="2.1" fill="#cc3a44" fill-opacity="0.19"/>
<circle cx="1105.5" cy="599.5" r="2.1" fill="#cc3a44" fill-opacity="0.19"/>
<circle cx="619.6" cy="295.1" r="2.1" fill="#cc3a44" fill-opacity="0.19"/>
<circle cx="633.3" cy="432.9" r="2.1" fill="#cc3a44" fill-opacity="0.19"/>
<circle cx="1042.3" cy="545.9" r="2.1" fill="#cc3a44" fill-opacity="0.19"/>
<circle cx="1213.9" cy="616.6" r="2.1" fill="#cc3a44" fill-opacity="0.19"/>
<circle cx="941.0" cy="442.6" r="2.1" fill="#cc3a44" fill-opacity="0.19"/>
<circle cx="1333.3" cy="650.0" r="2.1" fill="#cc3a44" fill-opacity="0.19"/>
<circle cx="1105.6" cy="589.5" r="2.1" fill="#cc3a44" fill-opacity="0.19"/>
<circle cx="323.8" cy="273.2" r="2.1" fill="#cc3a44" fill-opacity="0.19"/>
<circle cx="1322.3" cy="634.7" r="2.1" fill="#cc3a44" fill-opacity="0.19"/>
<circle cx="1210.9" cy="633.1" r="2.1" fill="#cc3a44" fill-opacity="0.19"/>
<circle cx="1218.8" cy="639.4" r="2.1" fill="#cc3a44" fill-opacity="0.19"/>
<circle cx="929.6" cy="448.3" r="2.1" fill="#cc3a44" fill-opacity="0.19"/>
<circle cx="1040.2" cy="411.0" r="2.1" fill="#cc3a44" fill-opacity="0.19"/>
<circle cx="1218.6" cy="634.4" r="2.1" fill="#cc3a44" fill-opacity="0.19"/>
<circle cx="504.7" cy="343.9" r="2.1" fill="#4f7bb3" fill-opacity="0.19"/>
<circle cx="1034.3" cy="545.5" r="2.1" fill="#cc3a44" fill-opacity="0.19"/>
<circle cx="524.1" cy="340.0" r="2.1" fill="#4f7bb3" fill-opacity="0.19"/>
<circle cx="715.3" cy="439.9" r="2.1" fill="#cc3a44" fill-opacity="0.19"/>
<circle cx="607.4" cy="357.3" r="2.1" fill="#cc3a44" fill-opacity="0.19"/>
<circle cx="1344.2" cy="653.0" r="2.1" fill="#cc3a44" fill-opacity="0.19"/>
<circle cx="1318.8" cy="632.4" r="2.1" fill="#cc3a44" fill-opacity="0.19"/>
<circle cx="707.9" cy="439.1" r="2.1" fill="#4f7bb3" fill-opacity="0.19"/>
<circle cx="1306.6" cy="649.0" r="2.1" fill="#cc3a44" fill-opacity="0.19"/>
<circle cx="208.4" cy="305.6" r="2.1" fill="#4f7bb3" fill-opacity="0.19"/>
<circle cx="834.6" cy="466.9" r="2.1" fill="#4f7bb3" fill-opacity="0.19"/>
<circle cx="1319.3" cy="652.8" r="2.1" fill="#cc3a44" fill-opacity="0.19"/>
<circle cx="1131.9" cy="576.3" r="2.1" fill="#cc3a44" fill-opacity="0.19"/>
<circle cx="304.3" cy="305.5" r="2.1" fill="#cc3a44" fill-opacity="0.19"/>
<circle cx="410.8" cy="340.5" r="2.1" fill="#cc3a44" fill-opacity="0.19"/>
<circle cx="628.7" cy="408.0" r="2.1" fill="#cc3a44" fill-opacity="0.19"/>
<circle cx="628.7" cy="273.3" r="2.1" fill="#cc3a44" fill-opacity="0.19"/>
<circle cx="1310.6" cy="622.5" r="2.1" fill="#cc3a44" fill-opacity="0.19"/>
<circle cx="1122.5" cy="598.4" r="2.1" fill="#cc3a44" fill-opacity="0.19"/>
<circle cx="1220.3" cy="627.7" r="2.1" fill="#cc3a44" fill-opacity="0.19"/>
<circle cx="1205.6" cy="638.9" r="2.1" fill="#cc3a44" fill-opacity="0.19"/>
<circle cx="929.2" cy="413.8" r="2.1" fill="#cc3a44" fill-opacity="0.19"/>
<circle cx="828.3" cy="473.6" r="2.1" fill="#cc3a44" fill-opacity="0.19"/>
<circle cx="1005.9" cy="503.4" r="2.1" fill="#cc3a44" fill-opacity="0.19"/>
<circle cx="516.3" cy="421.5" r="2.1" fill="#cc3a44" fill-opacity="0.19"/>
<circle cx="1345.3" cy="650.6" r="2.1" fill="#cc3a44" fill-opacity="0.19"/>
<circle cx="1106.7" cy="598.3" r="2.1" fill="#cc3a44" fill-opacity="0.19"/>
<circle cx="1215.7" cy="632.3" r="2.1" fill="#cc3a44" fill-opacity="0.19"/>
<circle cx="1342.1" cy="647.5" r="2.1" fill="#cc3a44" fill-opacity="0.19"/>
<circle cx="320.8" cy="369.6" r="2.1" fill="#cc3a44" fill-opacity="0.19"/>
<circle cx="314.4" cy="307.2" r="2.1" fill="#cc3a44" fill-opacity="0.19"/>
<circle cx="321.2" cy="313.8" r="2.1" fill="#cc3a44" fill-opacity="0.19"/>
<circle cx="1025.6" cy="593.8" r="2.1" fill="#cc3a44" fill-opacity="0.19"/>
<circle cx="1218.9" cy="638.0" r="2.1" fill="#cc3a44" fill-opacity="0.19"/>
<circle cx="1013.9" cy="325.2" r="2.1" fill="#4f7bb3" fill-opacity="0.19"/>
<circle cx="1036.9" cy="466.3" r="2.1" fill="#cc3a44" fill-opacity="0.19"/>
<circle cx="818.9" cy="414.0" r="2.1" fill="#cc3a44" fill-opacity="0.19"/>
<circle cx="1007.8" cy="440.6" r="2.1" fill="#cc3a44" fill-opacity="0.19"/>
<circle cx="600.5" cy="385.4" r="2.1" fill="#cc3a44" fill-opacity="0.19"/>
<circle cx="601.4" cy="305.9" r="2.1" fill="#cc3a44" fill-opacity="0.19"/>
<circle cx="303.8" cy="276.1" r="2.1" fill="#cc3a44" fill-opacity="0.19"/>
<circle cx="832.8" cy="396.1" r="2.1" fill="#cc3a44" fill-opacity="0.19"/>
<circle cx="1219.2" cy="640.4" r="2.1" fill="#cc3a44" fill-opacity="0.19"/>
<circle cx="310.5" cy="243.7" r="2.1" fill="#cc3a44" fill-opacity="0.19"/>
<circle cx="520.9" cy="302.5" r="2.1" fill="#cc3a44" fill-opacity="0.19"/>
<circle cx="333.5" cy="363.0" r="2.1" fill="#cc3a44" fill-opacity="0.19"/>
<circle cx="500.7" cy="232.1" r="2.1" fill="#4f7bb3" fill-opacity="0.19"/>
<circle cx="1111.1" cy="577.0" r="2.1" fill="#cc3a44" fill-opacity="0.19"/>
<circle cx="1012.0" cy="300.0" r="2.1" fill="#4f7bb3" fill-opacity="0.19"/>
<circle cx="1235.7" cy="606.6" r="2.1" fill="#cc3a44" fill-opacity="0.19"/>
<circle cx="1342.8" cy="639.0" r="2.1" fill="#cc3a44" fill-opacity="0.19"/>
<circle cx="1128.9" cy="560.2" r="2.1" fill="#cc3a44" fill-opacity="0.19"/>
<circle cx="1012.9" cy="521.8" r="2.1" fill="#cc3a44" fill-opacity="0.19"/>
<circle cx="807.0" cy="355.8" r="2.1" fill="#cc3a44" fill-opacity="0.19"/>
<circle cx="1233.7" cy="638.0" r="2.1" fill="#cc3a44" fill-opacity="0.19"/>
<circle cx="711.1" cy="434.5" r="2.1" fill="#cc3a44" fill-opacity="0.19"/>
<circle cx="1209.6" cy="641.7" r="2.1" fill="#cc3a44" fill-opacity="0.19"/>
<circle cx="1042.0" cy="566.8" r="2.1" fill="#cc3a44" fill-opacity="0.19"/>
<circle cx="1212.3" cy="640.8" r="2.1" fill="#cc3a44" fill-opacity="0.19"/>
<circle cx="1235.9" cy="638.6" r="2.1" fill="#cc3a44" fill-opacity="0.19"/>
<circle cx="1313.3" cy="644.1" r="2.1" fill="#cc3a44" fill-opacity="0.19"/>
<circle cx="627.7" cy="436.4" r="2.1" fill="#cc3a44" fill-opacity="0.19"/>
<circle cx="505.9" cy="362.5" r="2.1" fill="#4f7bb3" fill-opacity="0.19"/>
<circle cx="1040.9" cy="446.1" r="2.1" fill="#cc3a44" fill-opacity="0.19"/>
<circle cx="1112.1" cy="589.8" r="2.1" fill="#cc3a44" fill-opacity="0.19"/>
<circle cx="942.6" cy="436.7" r="2.1" fill="#cc3a44" fill-opacity="0.19"/>
<circle cx="1339.9" cy="636.5" r="2.1" fill="#cc3a44" fill-opacity="0.19"/>
<circle cx="1026.6" cy="484.8" r="2.1" fill="#cc3a44" fill-opacity="0.19"/>
<circle cx="1141.2" cy="584.7" r="2.1" fill="#cc3a44" fill-opacity="0.19"/>
<circle cx="1329.1" cy="613.7" r="2.1" fill="#cc3a44" fill-opacity="0.19"/>
<circle cx="1023.0" cy="513.8" r="2.1" fill="#cc3a44" fill-opacity="0.19"/>
<circle cx="833.8" cy="434.2" r="2.1" fill="#cc3a44" fill-opacity="0.19"/>
<circle cx="292.7" cy="283.4" r="2.1" fill="#cc3a44" fill-opacity="0.19"/>
<circle cx="615.7" cy="264.6" r="2.1" fill="#cc3a44" fill-opacity="0.19"/>
<circle cx="394.5" cy="305.3" r="2.1" fill="#cc3a44" fill-opacity="0.19"/>
<circle cx="1029.9" cy="535.4" r="2.1" fill="#cc3a44" fill-opacity="0.19"/>
<circle cx="917.6" cy="454.8" r="2.1" fill="#cc3a44" fill-opacity="0.19"/>
<circle cx="1040.1" cy="415.2" r="2.1" fill="#cc3a44" fill-opacity="0.19"/>
<circle cx="1030.7" cy="485.7" r="2.1" fill="#cc3a44" fill-opacity="0.19"/>
<circle cx="1141.6" cy="587.5" r="2.1" fill="#cc3a44" fill-opacity="0.19"/>
<circle cx="1219.4" cy="633.2" r="2.1" fill="#cc3a44" fill-opacity="0.19"/>
<circle cx="1027.5" cy="510.2" r="2.1" fill="#cc3a44" fill-opacity="0.19"/>
<circle cx="527.0" cy="293.4" r="2.1" fill="#4f7bb3" fill-opacity="0.19"/>
<circle cx="1340.1" cy="638.0" r="2.1" fill="#cc3a44" fill-opacity="0.19"/>
<circle cx="823.0" cy="388.4" r="2.1" fill="#cc3a44" fill-opacity="0.19"/>
<circle cx="1316.6" cy="640.3" r="2.1" fill="#cc3a44" fill-opacity="0.19"/>
<circle cx="392.8" cy="312.8" r="2.1" fill="#cc3a44" fill-opacity="0.19"/>
<circle cx="404.5" cy="347.4" r="2.1" fill="#cc3a44" fill-opacity="0.19"/>
<circle cx="521.4" cy="386.4" r="2.1" fill="#4f7bb3" fill-opacity="0.19"/>
<circle cx="1216.0" cy="605.3" r="2.1" fill="#cc3a44" fill-opacity="0.19"/>
<circle cx="1326.5" cy="649.8" r="2.1" fill="#cc3a44" fill-opacity="0.19"/>
<circle cx="1240.5" cy="630.5" r="2.1" fill="#cc3a44" fill-opacity="0.19"/>
<circle cx="1032.1" cy="486.3" r="2.1" fill="#cc3a44" fill-opacity="0.19"/>
<circle cx="638.5" cy="389.2" r="2.1" fill="#cc3a44" fill-opacity="0.19"/>
<circle cx="918.6" cy="362.8" r="2.1" fill="#4f7bb3" fill-opacity="0.19"/>
<circle cx="402.7" cy="202.4" r="2.1" fill="#cc3a44" fill-opacity="0.19"/>
<circle cx="1017.9" cy="542.0" r="2.1" fill="#cc3a44" fill-opacity="0.19"/>
<circle cx="310.4" cy="187.7" r="2.1" fill="#cc3a44" fill-opacity="0.19"/>
<circle cx="197.7" cy="309.8" r="2.1" fill="#4f7bb3" fill-opacity="0.19"/>
<circle cx="1039.8" cy="591.3" r="2.1" fill="#cc3a44" fill-opacity="0.19"/>
<circle cx="131.8" cy="122.3" r="2.1" fill="#cc3a44" fill-opacity="0.19"/>
<circle cx="1035.3" cy="487.7" r="2.1" fill="#cc3a44" fill-opacity="0.19"/>
<circle cx="1140.1" cy="594.9" r="2.1" fill="#cc3a44" fill-opacity="0.19"/>
<circle cx="1328.2" cy="615.4" r="2.1" fill="#cc3a44" fill-opacity="0.19"/>
<circle cx="510.5" cy="332.4" r="2.1" fill="#4f7bb3" fill-opacity="0.19"/>
<circle cx="528.5" cy="323.3" r="2.1" fill="#cc3a44" fill-opacity="0.19"/>
<circle cx="1127.8" cy="584.6" r="2.1" fill="#cc3a44" fill-opacity="0.19"/>
<circle cx="1216.7" cy="598.5" r="2.1" fill="#cc3a44" fill-opacity="0.19"/>
<circle cx="1238.3" cy="640.0" r="2.1" fill="#cc3a44" fill-opacity="0.19"/>
<circle cx="1124.6" cy="586.8" r="2.1" fill="#cc3a44" fill-opacity="0.19"/>
<circle cx="1124.2" cy="594.9" r="2.1" fill="#cc3a44" fill-opacity="0.19"/>
<circle cx="1020.4" cy="397.1" r="2.1" fill="#cc3a44" fill-opacity="0.19"/>
<circle cx="1343.8" cy="656.7" r="2.1" fill="#cc3a44" fill-opacity="0.19"/>
<circle cx="836.7" cy="499.0" r="2.1" fill="#4f7bb3" fill-opacity="0.19"/>
<circle cx="706.9" cy="426.7" r="2.1" fill="#4f7bb3" fill-opacity="0.19"/>
<circle cx="1128.3" cy="573.6" r="2.1" fill="#cc3a44" fill-opacity="0.19"/>
<circle cx="1040.1" cy="584.3" r="2.1" fill="#cc3a44" fill-opacity="0.19"/>
<circle cx="1025.1" cy="482.1" r="2.1" fill="#cc3a44" fill-opacity="0.19"/>
<circle cx="1233.2" cy="616.4" r="2.1" fill="#cc3a44" fill-opacity="0.19"/>
<circle cx="1222.0" cy="638.2" r="2.1" fill="#cc3a44" fill-opacity="0.19"/>
<circle cx="1011.9" cy="471.7" r="2.1" fill="#cc3a44" fill-opacity="0.19"/>
<circle cx="393.5" cy="392.5" r="2.1" fill="#cc3a44" fill-opacity="0.19"/>
<circle cx="1124.5" cy="574.2" r="2.1" fill="#cc3a44" fill-opacity="0.19"/>
<circle cx="1136.6" cy="599.4" r="2.1" fill="#cc3a44" fill-opacity="0.19"/>
<circle cx="409.2" cy="269.9" r="2.1" fill="#cc3a44" fill-opacity="0.19"/>
<circle cx="1102.9" cy="599.2" r="2.1" fill="#cc3a44" fill-opacity="0.19"/>
<circle cx="1008.1" cy="482.1" r="2.1" fill="#cc3a44" fill-opacity="0.19"/>
<circle cx="806.6" cy="426.8" r="2.1" fill="#4f7bb3" fill-opacity="0.19"/>
<circle cx="1019.5" cy="436.1" r="2.1" fill="#cc3a44" fill-opacity="0.19"/>
<circle cx="1034.5" cy="503.1" r="2.1" fill="#cc3a44" fill-opacity="0.19"/>
<circle cx="1314.7" cy="648.8" r="2.1" fill="#cc3a44" fill-opacity="0.19"/>
<circle cx="514.7" cy="340.5" r="2.1" fill="#4f7bb3" fill-opacity="0.19"/>
<circle cx="1222.8" cy="640.9" r="2.1" fill="#cc3a44" fill-opacity="0.19"/>
<circle cx="1020.4" cy="531.2" r="2.1" fill="#cc3a44" fill-opacity="0.19"/>
<circle cx="525.6" cy="268.8" r="2.1" fill="#cc3a44" fill-opacity="0.19"/>
<circle cx="1139.9" cy="595.9" r="2.1" fill="#cc3a44" fill-opacity="0.19"/>
<circle cx="1005.9" cy="406.8" r="2.1" fill="#cc3a44" fill-opacity="0.19"/>
<circle cx="621.9" cy="350.9" r="2.1" fill="#cc3a44" fill-opacity="0.19"/>
<circle cx="1242.6" cy="636.3" r="2.1" fill="#cc3a44" fill-opacity="0.19"/>
<circle cx="1334.9" cy="653.9" r="2.1" fill="#cc3a44" fill-opacity="0.19"/>
<circle cx="715.5" cy="457.7" r="2.1" fill="#cc3a44" fill-opacity="0.19"/>
<circle cx="1025.4" cy="484.5" r="2.1" fill="#cc3a44" fill-opacity="0.19"/>
<circle cx="714.8" cy="434.2" r="2.1" fill="#cc3a44" fill-opacity="0.19"/>
<circle cx="1019.1" cy="545.9" r="2.1" fill="#cc3a44" fill-opacity="0.19"/>
<circle cx="1045.0" cy="468.0" r="2.1" fill="#cc3a44" fill-opacity="0.19"/>
<circle cx="1209.1" cy="639.8" r="2.1" fill="#cc3a44" fill-opacity="0.19"/>
<circle cx="313.4" cy="338.6" r="2.1" fill="#cc3a44" fill-opacity="0.19"/>
<circle cx="1219.7" cy="633.7" r="2.1" fill="#cc3a44" fill-opacity="0.19"/>
<circle cx="431.6" cy="314.3" r="2.1" fill="#cc3a44" fill-opacity="0.19"/>
<circle cx="398.0" cy="384.6" r="2.1" fill="#cc3a44" fill-opacity="0.19"/>
<circle cx="1139.6" cy="585.4" r="2.1" fill="#cc3a44" fill-opacity="0.19"/>
<circle cx="1240.2" cy="637.7" r="2.1" fill="#cc3a44" fill-opacity="0.19"/>
<circle cx="1222.8" cy="632.2" r="2.1" fill="#cc3a44" fill-opacity="0.19"/>
<circle cx="1319.3" cy="629.1" r="2.1" fill="#cc3a44" fill-opacity="0.19"/>
<circle cx="326.3" cy="177.8" r="2.1" fill="#cc3a44" fill-opacity="0.19"/>
<circle cx="1334.7" cy="651.2" r="2.1" fill="#cc3a44" fill-opacity="0.19"/>
<circle cx="728.1" cy="374.0" r="2.1" fill="#4f7bb3" fill-opacity="0.19"/>
<circle cx="1013.7" cy="469.8" r="2.1" fill="#cc3a44" fill-opacity="0.19"/>
<circle cx="1233.4" cy="641.2" r="2.1" fill="#cc3a44" fill-opacity="0.19"/>
<circle cx="1023.1" cy="430.5" r="2.1" fill="#cc3a44" fill-opacity="0.19"/>
<circle cx="639.4" cy="306.4" r="2.1" fill="#cc3a44" fill-opacity="0.19"/>
<circle cx="399.2" cy="339.0" r="2.1" fill="#cc3a44" fill-opacity="0.19"/>
<circle cx="711.8" cy="453.1" r="2.1" fill="#4f7bb3" fill-opacity="0.19"/>
<circle cx="1231.7" cy="636.5" r="2.1" fill="#cc3a44" fill-opacity="0.19"/>
<circle cx="1039.7" cy="501.4" r="2.1" fill="#cc3a44" fill-opacity="0.19"/>
<circle cx="706.4" cy="413.7" r="2.1" fill="#4f7bb3" fill-opacity="0.19"/>
<circle cx="1338.8" cy="655.9" r="2.1" fill="#cc3a44" fill-opacity="0.19"/>
<circle cx="1015.5" cy="581.3" r="2.1" fill="#cc3a44" fill-opacity="0.19"/>
<circle cx="500.0" cy="309.1" r="2.1" fill="#cc3a44" fill-opacity="0.19"/>
<circle cx="930.4" cy="480.8" r="2.1" fill="#cc3a44" fill-opacity="0.19"/>
<circle cx="1034.1" cy="419.5" r="2.1" fill="#cc3a44" fill-opacity="0.19"/>
<circle cx="1333.0" cy="662.7" r="2.1" fill="#cc3a44" fill-opacity="0.19"/>
<circle cx="826.6" cy="459.5" r="2.1" fill="#4f7bb3" fill-opacity="0.19"/>
<circle cx="1012.6" cy="433.6" r="2.1" fill="#cc3a44" fill-opacity="0.19"/>
<circle cx="626.3" cy="211.6" r="2.1" fill="#cc3a44" fill-opacity="0.19"/>
<circle cx="605.8" cy="296.1" r="2.1" fill="#cc3a44" fill-opacity="0.19"/>
<circle cx="507.2" cy="327.2" r="2.1" fill="#4f7bb3" fill-opacity="0.19"/>
<circle cx="1334.0" cy="613.7" r="2.1" fill="#cc3a44" fill-opacity="0.19"/>
<circle cx="1018.6" cy="437.3" r="2.1" fill="#cc3a44" fill-opacity="0.19"/>
<circle cx="1207.3" cy="633.2" r="2.1" fill="#cc3a44" fill-opacity="0.19"/>
<circle cx="411.1" cy="284.2" r="2.1" fill="#cc3a44" fill-opacity="0.19"/>
<circle cx="1327.9" cy="624.5" r="2.1" fill="#cc3a44" fill-opacity="0.19"/>
<circle cx="1121.4" cy="595.2" r="2.1" fill="#cc3a44" fill-opacity="0.19"/>
<circle cx="1306.7" cy="634.5" r="2.1" fill="#cc3a44" fill-opacity="0.19"/>
<circle cx="1213.9" cy="633.9" r="2.1" fill="#cc3a44" fill-opacity="0.19"/>
<circle cx="1308.7" cy="637.4" r="2.1" fill="#cc3a44" fill-opacity="0.19"/>
<circle cx="1012.4" cy="539.8" r="2.1" fill="#cc3a44" fill-opacity="0.19"/>
<circle cx="634.5" cy="399.3" r="2.1" fill="#cc3a44" fill-opacity="0.19"/>
<circle cx="530.4" cy="321.4" r="2.1" fill="#cc3a44" fill-opacity="0.19"/>
<circle cx="413.3" cy="327.7" r="2.1" fill="#cc3a44" fill-opacity="0.19"/>
<circle cx="1030.5" cy="356.8" r="2.1" fill="#cc3a44" fill-opacity="0.19"/>
<circle cx="1221.5" cy="632.6" r="2.1" fill="#cc3a44" fill-opacity="0.19"/>
<circle cx="394.9" cy="298.2" r="2.1" fill="#cc3a44" fill-opacity="0.19"/>
<circle cx="204.1" cy="329.2" r="2.1" fill="#cc3a44" fill-opacity="0.19"/>
<circle cx="323.5" cy="351.1" r="2.1" fill="#cc3a44" fill-opacity="0.19"/>
<circle cx="530.5" cy="274.1" r="2.1" fill="#4f7bb3" fill-opacity="0.19"/>
<circle cx="526.3" cy="244.6" r="2.1" fill="#4f7bb3" fill-opacity="0.19"/>
<circle cx="501.4" cy="230.8" r="2.1" fill="#4f7bb3" fill-opacity="0.19"/>
<circle cx="1009.3" cy="464.8" r="2.1" fill="#cc3a44" fill-opacity="0.19"/>
<circle cx="928.9" cy="451.3" r="2.1" fill="#cc3a44" fill-opacity="0.19"/>
<circle cx="409.2" cy="321.3" r="2.1" fill="#cc3a44" fill-opacity="0.19"/>
<circle cx="434.2" cy="332.8" r="2.1" fill="#cc3a44" fill-opacity="0.19"/>
<circle cx="1034.5" cy="486.3" r="2.1" fill="#cc3a44" fill-opacity="0.19"/>
<circle cx="525.8" cy="308.0" r="2.1" fill="#cc3a44" fill-opacity="0.19"/>
<circle cx="1018.3" cy="318.2" r="2.1" fill="#4f7bb3" fill-opacity="0.19"/>
<circle cx="1320.4" cy="640.8" r="2.1" fill="#cc3a44" fill-opacity="0.19"/>
<circle cx="1240.4" cy="639.0" r="2.1" fill="#cc3a44" fill-opacity="0.19"/>
<circle cx="702.7" cy="427.9" r="2.1" fill="#4f7bb3" fill-opacity="0.19"/>
<circle cx="402.4" cy="360.4" r="2.1" fill="#cc3a44" fill-opacity="0.19"/>
<circle cx="1336.1" cy="619.7" r="2.1" fill="#cc3a44" fill-opacity="0.19"/>
<circle cx="1229.9" cy="638.6" r="2.1" fill="#cc3a44" fill-opacity="0.19"/>
<circle cx="204.7" cy="328.5" r="2.1" fill="#cc3a44" fill-opacity="0.19"/>
<circle cx="827.6" cy="365.4" r="2.1" fill="#cc3a44" fill-opacity="0.19"/>
<circle cx="506.7" cy="282.2" r="2.1" fill="#4f7bb3" fill-opacity="0.19"/>
<circle cx="1209.3" cy="634.2" r="2.1" fill="#cc3a44" fill-opacity="0.19"/>
<circle cx="1242.1" cy="633.9" r="2.1" fill="#cc3a44" fill-opacity="0.19"/>
<circle cx="194.3" cy="318.2" r="2.1" fill="#cc3a44" fill-opacity="0.19"/>
<circle cx="1213.2" cy="639.9" r="2.1" fill="#cc3a44" fill-opacity="0.19"/>
<circle cx="1241.1" cy="638.3" r="2.1" fill="#cc3a44" fill-opacity="0.19"/>
<circle cx="621.6" cy="360.7" r="2.1" fill="#cc3a44" fill-opacity="0.19"/>
<circle cx="504.2" cy="362.4" r="2.1" fill="#cc3a44" fill-opacity="0.19"/>
<circle cx="917.1" cy="377.4" r="2.1" fill="#4f7bb3" fill-opacity="0.19"/>
<circle cx="1235.3" cy="627.7" r="2.1" fill="#cc3a44" fill-opacity="0.19"/>
<circle cx="1317.9" cy="643.3" r="2.1" fill="#cc3a44" fill-opacity="0.19"/>
<circle cx="524.2" cy="384.2" r="2.1" fill="#4f7bb3" fill-opacity="0.19"/>
<circle cx="1026.0" cy="318.6" r="2.1" fill="#4f7bb3" fill-opacity="0.19"/>
<circle cx="1102.8" cy="577.9" r="2.1" fill="#cc3a44" fill-opacity="0.19"/>
<circle cx="1120.6" cy="549.0" r="2.1" fill="#cc3a44" fill-opacity="0.19"/>
<circle cx="730.1" cy="389.3" r="2.1" fill="#4f7bb3" fill-opacity="0.19"/>
<circle cx="1011.0" cy="499.9" r="2.1" fill="#cc3a44" fill-opacity="0.19"/>
<circle cx="1220.7" cy="634.6" r="2.1" fill="#cc3a44" fill-opacity="0.19"/>
<circle cx="1211.6" cy="637.5" r="2.1" fill="#cc3a44" fill-opacity="0.19"/>
<circle cx="503.0" cy="346.2" r="2.1" fill="#cc3a44" fill-opacity="0.19"/>
<circle cx="1241.2" cy="633.0" r="2.1" fill="#cc3a44" fill-opacity="0.19"/>
<circle cx="1033.2" cy="460.3" r="2.1" fill="#cc3a44" fill-opacity="0.19"/>
<circle cx="1222.0" cy="638.5" r="2.1" fill="#cc3a44" fill-opacity="0.19"/>
<circle cx="1310.6" cy="629.0" r="2.1" fill="#cc3a44" fill-opacity="0.19"/>
<circle cx="837.9" cy="439.7" r="2.1" fill="#cc3a44" fill-opacity="0.19"/>
<circle cx="525.4" cy="270.6" r="2.1" fill="#4f7bb3" fill-opacity="0.19"/>
<circle cx="514.5" cy="308.5" r="2.1" fill="#cc3a44" fill-opacity="0.19"/>
<circle cx="823.0" cy="449.4" r="2.1" fill="#4f7bb3" fill-opacity="0.19"/>
<circle cx="1037.2" cy="484.1" r="2.1" fill="#cc3a44" fill-opacity="0.19"/>
<circle cx="1135.2" cy="594.5" r="2.1" fill="#cc3a44" fill-opacity="0.19"/>
<circle cx="1044.9" cy="420.1" r="2.1" fill="#cc3a44" fill-opacity="0.19"/>
<circle cx="517.1" cy="253.8" r="2.1" fill="#4f7bb3" fill-opacity="0.19"/>
<circle cx="1002.0" cy="264.0" r="2.1" fill="#cc3a44" fill-opacity="0.19"/>
<circle cx="726.4" cy="426.0" r="2.1" fill="#cc3a44" fill-opacity="0.19"/>
<circle cx="298.1" cy="330.2" r="2.1" fill="#cc3a44" fill-opacity="0.19"/>
<circle cx="193.1" cy="272.3" r="2.1" fill="#cc3a44" fill-opacity="0.19"/>
<circle cx="608.5" cy="452.2" r="2.1" fill="#cc3a44" fill-opacity="0.19"/>
<circle cx="815.6" cy="352.0" r="2.1" fill="#cc3a44" fill-opacity="0.19"/>
<circle cx="507.4" cy="247.1" r="2.1" fill="#cc3a44" fill-opacity="0.19"/>
<circle cx="618.5" cy="411.9" r="2.1" fill="#cc3a44" fill-opacity="0.19"/>
<circle cx="407.4" cy="300.7" r="2.1" fill="#cc3a44" fill-opacity="0.19"/>
<circle cx="1009.5" cy="471.6" r="2.1" fill="#cc3a44" fill-opacity="0.19"/>
<circle cx="1319.3" cy="635.6" r="2.1" fill="#cc3a44" fill-opacity="0.19"/>
<circle cx="1315.6" cy="650.0" r="2.1" fill="#cc3a44" fill-opacity="0.19"/>
<circle cx="1017.4" cy="524.6" r="2.1" fill="#cc3a44" fill-opacity="0.19"/>
<circle cx="398.2" cy="315.8" r="2.1" fill="#cc3a44" fill-opacity="0.19"/>
<circle cx="1223.7" cy="630.7" r="2.1" fill="#cc3a44" fill-opacity="0.19"/>
<circle cx="310.3" cy="319.9" r="2.1" fill="#cc3a44" fill-opacity="0.19"/>
<circle cx="1228.8" cy="640.9" r="2.1" fill="#cc3a44" fill-opacity="0.19"/>
<circle cx="1023.7" cy="390.2" r="2.1" fill="#4f7bb3" fill-opacity="0.19"/>
<circle cx="820.3" cy="340.0" r="2.1" fill="#cc3a44" fill-opacity="0.19"/>
<circle cx="507.8" cy="340.7" r="2.1" fill="#cc3a44" fill-opacity="0.19"/>
<circle cx="1018.2" cy="527.6" r="2.1" fill="#cc3a44" fill-opacity="0.19"/>
<circle cx="530.4" cy="253.4" r="2.1" fill="#cc3a44" fill-opacity="0.19"/>
<circle cx="314.9" cy="250.3" r="2.1" fill="#cc3a44" fill-opacity="0.19"/>
<circle cx="811.0" cy="408.1" r="2.1" fill="#4f7bb3" fill-opacity="0.19"/>
<circle cx="824.1" cy="469.9" r="2.1" fill="#4f7bb3" fill-opacity="0.19"/>
<circle cx="620.8" cy="266.5" r="2.1" fill="#cc3a44" fill-opacity="0.19"/>
<circle cx="1241.2" cy="634.4" r="2.1" fill="#cc3a44" fill-opacity="0.19"/>
<circle cx="1221.6" cy="627.9" r="2.1" fill="#cc3a44" fill-opacity="0.19"/>
<circle cx="1015.3" cy="453.0" r="2.1" fill="#cc3a44" fill-opacity="0.19"/>
<circle cx="206.9" cy="270.8" r="2.1" fill="#cc3a44" fill-opacity="0.19"/>
<circle cx="524.8" cy="400.7" r="2.1" fill="#4f7bb3" fill-opacity="0.19"/>
<circle cx="408.5" cy="345.7" r="2.1" fill="#cc3a44" fill-opacity="0.19"/>
<circle cx="1227.0" cy="640.0" r="2.1" fill="#cc3a44" fill-opacity="0.19"/>
<circle cx="1319.3" cy="656.1" r="2.1" fill="#cc3a44" fill-opacity="0.19"/>
<circle cx="715.0" cy="451.9" r="2.1" fill="#cc3a44" fill-opacity="0.19"/>
<circle cx="1038.6" cy="498.1" r="2.1" fill="#cc3a44" fill-opacity="0.19"/>
<circle cx="229.3" cy="318.0" r="2.1" fill="#cc3a44" fill-opacity="0.19"/>
<circle cx="933.9" cy="348.5" r="2.1" fill="#4f7bb3" fill-opacity="0.19"/>
<circle cx="1309.5" cy="648.5" r="2.1" fill="#cc3a44" fill-opacity="0.19"/>
<circle cx="1323.4" cy="662.7" r="2.1" fill="#cc3a44" fill-opacity="0.19"/>
<circle cx="1313.0" cy="633.7" r="2.1" fill="#cc3a44" fill-opacity="0.19"/>
<circle cx="1320.3" cy="636.1" r="2.1" fill="#cc3a44" fill-opacity="0.19"/>
<circle cx="527.9" cy="389.5" r="2.1" fill="#cc3a44" fill-opacity="0.19"/>
<circle cx="1308.0" cy="632.1" r="2.1" fill="#cc3a44" fill-opacity="0.19"/>
<circle cx="1029.0" cy="367.1" r="2.1" fill="#cc3a44" fill-opacity="0.19"/>
<circle cx="1015.0" cy="345.6" r="2.1" fill="#cc3a44" fill-opacity="0.19"/>
<circle cx="1024.5" cy="465.9" r="2.1" fill="#cc3a44" fill-opacity="0.19"/>
<circle cx="1211.7" cy="635.7" r="2.1" fill="#cc3a44" fill-opacity="0.19"/>
<circle cx="411.0" cy="326.5" r="2.1" fill="#cc3a44" fill-opacity="0.19"/>
<circle cx="507.3" cy="345.7" r="2.1" fill="#cc3a44" fill-opacity="0.19"/>
<circle cx="1326.6" cy="648.9" r="2.1" fill="#cc3a44" fill-opacity="0.19"/>
<circle cx="1135.4" cy="590.1" r="2.1" fill="#cc3a44" fill-opacity="0.19"/>
<circle cx="327.9" cy="198.8" r="2.1" fill="#cc3a44" fill-opacity="0.19"/>
<circle cx="1237.0" cy="638.0" r="2.1" fill="#cc3a44" fill-opacity="0.19"/>
<circle cx="1309.2" cy="633.1" r="2.1" fill="#cc3a44" fill-opacity="0.19"/>
<circle cx="1224.2" cy="633.2" r="2.1" fill="#cc3a44" fill-opacity="0.19"/>
<circle cx="1239.5" cy="638.2" r="2.1" fill="#cc3a44" fill-opacity="0.19"/>
<circle cx="639.4" cy="431.9" r="2.1" fill="#cc3a44" fill-opacity="0.19"/>
<circle cx="1008.3" cy="504.7" r="2.1" fill="#cc3a44" fill-opacity="0.19"/>
<circle cx="1211.3" cy="640.2" r="2.1" fill="#cc3a44" fill-opacity="0.19"/>
<circle cx="914.6" cy="390.5" r="2.1" fill="#cc3a44" fill-opacity="0.19"/>
<circle cx="707.7" cy="400.7" r="2.1" fill="#cc3a44" fill-opacity="0.19"/>
<circle cx="531.5" cy="240.3" r="2.1" fill="#4f7bb3" fill-opacity="0.19"/>
<circle cx="1108.4" cy="597.1" r="2.1" fill="#cc3a44" fill-opacity="0.19"/>
<circle cx="1342.3" cy="651.7" r="2.1" fill="#cc3a44" fill-opacity="0.19"/>
<circle cx="625.5" cy="429.7" r="2.1" fill="#cc3a44" fill-opacity="0.19"/>
<circle cx="305.7" cy="269.4" r="2.1" fill="#cc3a44" fill-opacity="0.19"/>
<circle cx="1212.2" cy="639.7" r="2.1" fill="#cc3a44" fill-opacity="0.19"/>
<circle cx="1322.7" cy="653.8" r="2.1" fill="#cc3a44" fill-opacity="0.19"/>
<circle cx="808.9" cy="479.6" r="2.1" fill="#4f7bb3" fill-opacity="0.19"/>
<circle cx="524.6" cy="307.0" r="2.1" fill="#cc3a44" fill-opacity="0.19"/>
<circle cx="207.9" cy="283.8" r="2.1" fill="#cc3a44" fill-opacity="0.19"/>
<circle cx="1221.4" cy="633.3" r="2.1" fill="#cc3a44" fill-opacity="0.19"/>
<circle cx="427.4" cy="189.7" r="2.1" fill="#cc3a44" fill-opacity="0.19"/>
<circle cx="1231.7" cy="632.4" r="2.1" fill="#cc3a44" fill-opacity="0.19"/>
<circle cx="314.2" cy="311.2" r="2.1" fill="#cc3a44" fill-opacity="0.19"/>
<circle cx="1035.0" cy="469.0" r="2.1" fill="#cc3a44" fill-opacity="0.19"/>
<circle cx="1124.5" cy="586.8" r="2.1" fill="#cc3a44" fill-opacity="0.19"/>
<circle cx="1221.2" cy="640.4" r="2.1" fill="#cc3a44" fill-opacity="0.19"/>
<circle cx="1044.6" cy="537.9" r="2.1" fill="#cc3a44" fill-opacity="0.19"/>
<circle cx="1237.5" cy="637.2" r="2.1" fill="#cc3a44" fill-opacity="0.19"/>
<circle cx="1120.8" cy="585.8" r="2.1" fill="#cc3a44" fill-opacity="0.19"/>
<circle cx="1305.9" cy="638.1" r="2.1" fill="#cc3a44" fill-opacity="0.19"/>
<circle cx="1325.4" cy="629.1" r="2.1" fill="#cc3a44" fill-opacity="0.19"/>
<circle cx="1211.0" cy="633.2" r="2.1" fill="#cc3a44" fill-opacity="0.19"/>
<circle cx="1101.9" cy="588.3" r="2.1" fill="#cc3a44" fill-opacity="0.19"/>
<circle cx="1110.8" cy="585.8" r="2.1" fill="#cc3a44" fill-opacity="0.19"/>
<circle cx="1033.4" cy="508.3" r="2.1" fill="#cc3a44" fill-opacity="0.19"/>
<circle cx="1004.4" cy="501.5" r="2.1" fill="#cc3a44" fill-opacity="0.19"/>
<circle cx="192.7" cy="287.0" r="2.1" fill="#4f7bb3" fill-opacity="0.19"/>
<circle cx="1109.2" cy="595.0" r="2.1" fill="#cc3a44" fill-opacity="0.19"/>
<circle cx="1135.5" cy="589.2" r="2.1" fill="#cc3a44" fill-opacity="0.19"/>
<circle cx="1314.5" cy="643.0" r="2.1" fill="#cc3a44" fill-opacity="0.19"/>
<circle cx="1335.7" cy="650.6" r="2.1" fill="#cc3a44" fill-opacity="0.19"/>
<circle cx="626.4" cy="367.4" r="2.1" fill="#cc3a44" fill-opacity="0.19"/>
<circle cx="1034.0" cy="231.0" r="2.1" fill="#cc3a44" fill-opacity="0.19"/>
<circle cx="807.3" cy="487.3" r="2.1" fill="#cc3a44" fill-opacity="0.19"/>
<circle cx="818.0" cy="461.9" r="2.1" fill="#4f7bb3" fill-opacity="0.19"/>
<circle cx="306.6" cy="274.7" r="2.1" fill="#cc3a44" fill-opacity="0.19"/>
<circle cx="1107.0" cy="589.8" r="2.1" fill="#cc3a44" fill-opacity="0.19"/>
<circle cx="1125.5" cy="588.1" r="2.1" fill="#cc3a44" fill-opacity="0.19"/>
<circle cx="1236.6" cy="638.5" r="2.1" fill="#cc3a44" fill-opacity="0.19"/>
<circle cx="1314.7" cy="649.5" r="2.1" fill="#cc3a44" fill-opacity="0.19"/>
<circle cx="824.4" cy="483.7" r="2.1" fill="#cc3a44" fill-opacity="0.19"/>
<circle cx="412.4" cy="274.7" r="2.1" fill="#cc3a44" fill-opacity="0.19"/>
<circle cx="1330.3" cy="625.7" r="2.1" fill="#cc3a44" fill-opacity="0.19"/>
<circle cx="1027.2" cy="544.3" r="2.1" fill="#cc3a44" fill-opacity="0.19"/>
<circle cx="1126.3" cy="597.5" r="2.1" fill="#cc3a44" fill-opacity="0.19"/>
<circle cx="913.1" cy="483.2" r="2.1" fill="#cc3a44" fill-opacity="0.19"/>
<circle cx="1221.9" cy="627.7" r="2.1" fill="#cc3a44" fill-opacity="0.19"/>
<circle cx="1036.2" cy="555.4" r="2.1" fill="#cc3a44" fill-opacity="0.19"/>
<circle cx="231.3" cy="265.7" r="2.1" fill="#cc3a44" fill-opacity="0.19"/>
<circle cx="1218.4" cy="633.2" r="2.1" fill="#cc3a44" fill-opacity="0.19"/>
<circle cx="709.8" cy="422.5" r="2.1" fill="#4f7bb3" fill-opacity="0.19"/>
<circle cx="1122.6" cy="595.6" r="2.1" fill="#cc3a44" fill-opacity="0.19"/>
<circle cx="1218.6" cy="631.8" r="2.1" fill="#cc3a44" fill-opacity="0.19"/>
<circle cx="1021.9" cy="457.6" r="2.1" fill="#cc3a44" fill-opacity="0.19"/>
<circle cx="1126.2" cy="595.4" r="2.1" fill="#cc3a44" fill-opacity="0.19"/>
<circle cx="315.0" cy="310.0" r="2.1" fill="#cc3a44" fill-opacity="0.19"/>
<circle cx="835.7" cy="382.8" r="2.1" fill="#cc3a44" fill-opacity="0.19"/>
<circle cx="1208.2" cy="638.8" r="2.1" fill="#cc3a44" fill-opacity="0.19"/>
<circle cx="1222.6" cy="637.7" r="2.1" fill="#cc3a44" fill-opacity="0.19"/>
<circle cx="1014.1" cy="506.7" r="2.1" fill="#cc3a44" fill-opacity="0.19"/>
<circle cx="1135.0" cy="503.0" r="2.1" fill="#cc3a44" fill-opacity="0.19"/>
<circle cx="1227.9" cy="635.1" r="2.1" fill="#cc3a44" fill-opacity="0.19"/>
<circle cx="426.2" cy="284.3" r="2.1" fill="#cc3a44" fill-opacity="0.19"/>
<circle cx="192.5" cy="299.8" r="2.1" fill="#4f7bb3" fill-opacity="0.19"/>
<circle cx="1216.5" cy="612.8" r="2.1" fill="#cc3a44" fill-opacity="0.19"/>
<circle cx="1005.3" cy="513.7" r="2.1" fill="#cc3a44" fill-opacity="0.19"/>
<circle cx="1037.4" cy="528.8" r="2.1" fill="#cc3a44" fill-opacity="0.19"/>
<circle cx="1214.4" cy="634.5" r="2.1" fill="#cc3a44" fill-opacity="0.19"/>
<circle cx="1008.6" cy="584.3" r="2.1" fill="#cc3a44" fill-opacity="0.19"/>
<circle cx="1318.2" cy="649.2" r="2.1" fill="#cc3a44" fill-opacity="0.19"/>
<circle cx="1327.9" cy="646.3" r="2.1" fill="#cc3a44" fill-opacity="0.19"/>
<circle cx="1038.1" cy="462.3" r="2.1" fill="#cc3a44" fill-opacity="0.19"/>
<circle cx="401.9" cy="286.9" r="2.1" fill="#cc3a44" fill-opacity="0.19"/>
<circle cx="1019.4" cy="531.3" r="2.1" fill="#cc3a44" fill-opacity="0.19"/>
<circle cx="431.2" cy="385.3" r="2.1" fill="#cc3a44" fill-opacity="0.19"/>
<circle cx="938.3" cy="349.2" r="2.1" fill="#4f7bb3" fill-opacity="0.19"/>
<circle cx="1041.5" cy="508.3" r="2.1" fill="#cc3a44" fill-opacity="0.19"/>
<circle cx="1040.4" cy="319.8" r="2.1" fill="#4f7bb3" fill-opacity="0.19"/>
<circle cx="1022.4" cy="575.5" r="2.1" fill="#cc3a44" fill-opacity="0.19"/>
<circle cx="296.2" cy="278.4" r="2.1" fill="#cc3a44" fill-opacity="0.19"/>
<circle cx="1124.0" cy="575.9" r="2.1" fill="#cc3a44" fill-opacity="0.19"/>
<circle cx="1038.8" cy="496.2" r="2.1" fill="#cc3a44" fill-opacity="0.19"/>
<circle cx="728.2" cy="458.8" r="2.1" fill="#cc3a44" fill-opacity="0.19"/>
<circle cx="1333.4" cy="630.9" r="2.1" fill="#cc3a44" fill-opacity="0.19"/>
<circle cx="1027.4" cy="369.3" r="2.1" fill="#cc3a44" fill-opacity="0.19"/>
<circle cx="1314.4" cy="648.8" r="2.1" fill="#cc3a44" fill-opacity="0.19"/>
<circle cx="822.3" cy="366.8" r="2.1" fill="#cc3a44" fill-opacity="0.19"/>
<circle cx="1125.8" cy="587.6" r="2.1" fill="#cc3a44" fill-opacity="0.19"/>
<circle cx="1039.7" cy="589.3" r="2.1" fill="#cc3a44" fill-opacity="0.19"/>
<circle cx="331.7" cy="380.3" r="2.1" fill="#cc3a44" fill-opacity="0.19"/>
<circle cx="412.6" cy="397.6" r="2.1" fill="#cc3a44" fill-opacity="0.19"/>
<circle cx="1213.0" cy="593.3" r="2.1" fill="#cc3a44" fill-opacity="0.19"/>
<circle cx="1331.2" cy="647.9" r="2.1" fill="#cc3a44" fill-opacity="0.19"/>
<circle cx="1206.1" cy="632.4" r="2.1" fill="#cc3a44" fill-opacity="0.19"/>
<circle cx="1026.5" cy="481.4" r="2.1" fill="#cc3a44" fill-opacity="0.19"/>
<circle cx="1043.8" cy="461.7" r="2.1" fill="#cc3a44" fill-opacity="0.19"/>
<circle cx="331.2" cy="278.1" r="2.1" fill="#cc3a44" fill-opacity="0.19"/>
<circle cx="1319.2" cy="645.4" r="2.1" fill="#cc3a44" fill-opacity="0.19"/>
<circle cx="198.5" cy="271.0" r="2.1" fill="#4f7bb3" fill-opacity="0.19"/>
<circle cx="1316.6" cy="659.4" r="2.1" fill="#cc3a44" fill-opacity="0.19"/>
<circle cx="1332.7" cy="638.8" r="2.1" fill="#cc3a44" fill-opacity="0.19"/>
<circle cx="616.4" cy="366.6" r="2.1" fill="#cc3a44" fill-opacity="0.19"/>
<circle cx="500.0" cy="399.2" r="2.1" fill="#4f7bb3" fill-opacity="0.19"/>
<circle cx="1032.3" cy="509.8" r="2.1" fill="#cc3a44" fill-opacity="0.19"/>
<circle cx="1323.9" cy="655.7" r="2.1" fill="#cc3a44" fill-opacity="0.19"/>
<circle cx="1143.4" cy="576.3" r="2.1" fill="#cc3a44" fill-opacity="0.19"/>
<circle cx="314.8" cy="352.7" r="2.1" fill="#cc3a44" fill-opacity="0.19"/>
<circle cx="813.8" cy="433.4" r="2.1" fill="#4f7bb3" fill-opacity="0.19"/>
<circle cx="215.6" cy="338.0" r="2.1" fill="#cc3a44" fill-opacity="0.19"/>
<circle cx="1033.4" cy="469.8" r="2.1" fill="#cc3a44" fill-opacity="0.19"/>
<circle cx="1324.9" cy="634.8" r="2.1" fill="#cc3a44" fill-opacity="0.19"/>
<circle cx="328.6" cy="323.4" r="2.1" fill="#cc3a44" fill-opacity="0.19"/>
<circle cx="1035.4" cy="565.9" r="2.1" fill="#cc3a44" fill-opacity="0.19"/>
<circle cx="1040.7" cy="468.9" r="2.1" fill="#cc3a44" fill-opacity="0.19"/>
<circle cx="1013.3" cy="543.3" r="2.1" fill="#cc3a44" fill-opacity="0.19"/>
<circle cx="1106.0" cy="578.2" r="2.1" fill="#cc3a44" fill-opacity="0.19"/>
<circle cx="827.7" cy="347.5" r="2.1" fill="#cc3a44" fill-opacity="0.19"/>
<circle cx="822.7" cy="365.9" r="2.1" fill="#4f7bb3" fill-opacity="0.19"/>
<circle cx="606.1" cy="448.1" r="2.1" fill="#cc3a44" fill-opacity="0.19"/>
<circle cx="1021.9" cy="468.7" r="2.1" fill="#cc3a44" fill-opacity="0.19"/>
<circle cx="1138.0" cy="532.0" r="2.1" fill="#cc3a44" fill-opacity="0.19"/>
<circle cx="309.4" cy="224.6" r="2.1" fill="#cc3a44" fill-opacity="0.19"/>
<circle cx="1335.2" cy="632.9" r="2.1" fill="#cc3a44" fill-opacity="0.19"/>
<circle cx="503.4" cy="356.2" r="2.1" fill="#cc3a44" fill-opacity="0.19"/>
<circle cx="614.2" cy="239.7" r="2.1" fill="#cc3a44" fill-opacity="0.19"/>
<circle cx="1029.5" cy="595.6" r="2.1" fill="#cc3a44" fill-opacity="0.19"/>
<circle cx="434.7" cy="266.4" r="2.1" fill="#cc3a44" fill-opacity="0.19"/>
<circle cx="1310.2" cy="631.9" r="2.1" fill="#cc3a44" fill-opacity="0.19"/>
<circle cx="1022.1" cy="436.8" r="2.1" fill="#cc3a44" fill-opacity="0.19"/>
<circle cx="1336.4" cy="639.8" r="2.1" fill="#cc3a44" fill-opacity="0.19"/>
<circle cx="1011.0" cy="423.5" r="2.1" fill="#cc3a44" fill-opacity="0.19"/>
<circle cx="231.6" cy="304.9" r="2.1" fill="#cc3a44" fill-opacity="0.19"/>
<circle cx="201.0" cy="268.7" r="2.1" fill="#4f7bb3" fill-opacity="0.19"/>
<circle cx="1037.5" cy="499.9" r="2.1" fill="#cc3a44" fill-opacity="0.19"/>
<circle cx="311.4" cy="278.3" r="2.1" fill="#cc3a44" fill-opacity="0.19"/>
<circle cx="1325.0" cy="649.2" r="2.1" fill="#cc3a44" fill-opacity="0.19"/>
<circle cx="1016.2" cy="478.2" r="2.1" fill="#cc3a44" fill-opacity="0.19"/>
<circle cx="507.6" cy="349.0" r="2.1" fill="#4f7bb3" fill-opacity="0.19"/>
<circle cx="311.7" cy="231.4" r="2.1" fill="#cc3a44" fill-opacity="0.19"/>
<circle cx="505.0" cy="281.8" r="2.1" fill="#4f7bb3" fill-opacity="0.19"/>
<circle cx="1123.1" cy="597.5" r="2.1" fill="#cc3a44" fill-opacity="0.19"/>
<circle cx="303.5" cy="375.6" r="2.1" fill="#cc3a44" fill-opacity="0.19"/>
<circle cx="1337.4" cy="659.1" r="2.1" fill="#cc3a44" fill-opacity="0.19"/>
<circle cx="1018.2" cy="492.7" r="2.1" fill="#cc3a44" fill-opacity="0.19"/>
<circle cx="1316.0" cy="647.3" r="2.1" fill="#cc3a44" fill-opacity="0.19"/>
<circle cx="1220.9" cy="629.0" r="2.1" fill="#cc3a44" fill-opacity="0.19"/>
<circle cx="1308.6" cy="648.9" r="2.1" fill="#cc3a44" fill-opacity="0.19"/>
<circle cx="532.0" cy="243.8" r="2.1" fill="#4f7bb3" fill-opacity="0.19"/>
<circle cx="811.1" cy="445.9" r="2.1" fill="#4f7bb3" fill-opacity="0.19"/>
<circle cx="1222.9" cy="633.0" r="2.1" fill="#cc3a44" fill-opacity="0.19"/>
<circle cx="1017.0" cy="528.2" r="2.1" fill="#cc3a44" fill-opacity="0.19"/>
<circle cx="606.2" cy="352.5" r="2.1" fill="#cc3a44" fill-opacity="0.19"/>
<circle cx="509.9" cy="241.3" r="2.1" fill="#cc3a44" fill-opacity="0.19"/>
<circle cx="629.7" cy="481.6" r="2.1" fill="#cc3a44" fill-opacity="0.19"/>
<circle cx="521.4" cy="415.7" r="2.1" fill="#cc3a44" fill-opacity="0.19"/>
<circle cx="1339.2" cy="625.8" r="2.1" fill="#cc3a44" fill-opacity="0.19"/>
<circle cx="434.1" cy="212.8" r="2.1" fill="#cc3a44" fill-opacity="0.19"/>
<circle cx="1210.0" cy="639.3" r="2.1" fill="#cc3a44" fill-opacity="0.19"/>
<circle cx="1327.9" cy="619.8" r="2.1" fill="#cc3a44" fill-opacity="0.19"/>
<circle cx="633.1" cy="363.4" r="2.1" fill="#cc3a44" fill-opacity="0.19"/>
<circle cx="402.7" cy="338.5" r="2.1" fill="#cc3a44" fill-opacity="0.19"/>
<circle cx="1331.1" cy="658.8" r="2.1" fill="#cc3a44" fill-opacity="0.19"/>
<circle cx="500.0" cy="305.8" r="2.1" fill="#4f7bb3" fill-opacity="0.19"/>
<circle cx="1102.0" cy="593.0" r="2.1" fill="#cc3a44" fill-opacity="0.19"/>
<circle cx="1220.7" cy="641.6" r="2.1" fill="#cc3a44" fill-opacity="0.19"/>
<circle cx="415.8" cy="289.9" r="2.1" fill="#cc3a44" fill-opacity="0.19"/>
<circle cx="815.5" cy="412.6" r="2.1" fill="#cc3a44" fill-opacity="0.19"/>
<circle cx="1335.5" cy="636.7" r="2.1" fill="#cc3a44" fill-opacity="0.19"/>
<circle cx="1214.4" cy="638.4" r="2.1" fill="#cc3a44" fill-opacity="0.19"/>
<circle cx="1017.1" cy="560.7" r="2.1" fill="#cc3a44" fill-opacity="0.19"/>
<circle cx="1043.0" cy="476.3" r="2.1" fill="#cc3a44" fill-opacity="0.19"/>
<circle cx="1041.2" cy="417.2" r="2.1" fill="#cc3a44" fill-opacity="0.19"/>
<circle cx="1022.5" cy="364.5" r="2.1" fill="#cc3a44" fill-opacity="0.19"/>
<circle cx="1028.5" cy="544.6" r="2.1" fill="#cc3a44" fill-opacity="0.19"/>
<circle cx="1230.9" cy="639.9" r="2.1" fill="#cc3a44" fill-opacity="0.19"/>
<circle cx="1038.7" cy="421.5" r="2.1" fill="#cc3a44" fill-opacity="0.19"/>
<circle cx="726.3" cy="433.6" r="2.1" fill="#4f7bb3" fill-opacity="0.19"/>
<circle cx="1210.0" cy="636.7" r="2.1" fill="#cc3a44" fill-opacity="0.19"/>
<circle cx="721.5" cy="430.0" r="2.1" fill="#cc3a44" fill-opacity="0.19"/>
<circle cx="1138.8" cy="585.5" r="2.1" fill="#cc3a44" fill-opacity="0.19"/>
<circle cx="1235.0" cy="633.4" r="2.1" fill="#cc3a44" fill-opacity="0.19"/>
<circle cx="1216.9" cy="635.8" r="2.1" fill="#cc3a44" fill-opacity="0.19"/>
<circle cx="722.1" cy="450.9" r="2.1" fill="#cc3a44" fill-opacity="0.19"/>
<circle cx="833.7" cy="397.1" r="2.1" fill="#4f7bb3" fill-opacity="0.19"/>
<circle cx="303.2" cy="327.7" r="2.1" fill="#cc3a44" fill-opacity="0.19"/>
<circle cx="1339.6" cy="639.7" r="2.1" fill="#cc3a44" fill-opacity="0.19"/>
<circle cx="1019.1" cy="576.7" r="2.1" fill="#cc3a44" fill-opacity="0.19"/>
<circle cx="916.4" cy="355.1" r="2.1" fill="#4f7bb3" fill-opacity="0.19"/>
<circle cx="1018.9" cy="392.4" r="2.1" fill="#cc3a44" fill-opacity="0.19"/>
<circle cx="311.2" cy="271.9" r="2.1" fill="#cc3a44" fill-opacity="0.19"/>
<circle cx="810.2" cy="435.0" r="2.1" fill="#4f7bb3" fill-opacity="0.19"/>
<circle cx="1311.6" cy="649.9" r="2.1" fill="#cc3a44" fill-opacity="0.19"/>
<circle cx="1103.3" cy="579.5" r="2.1" fill="#cc3a44" fill-opacity="0.19"/>
<circle cx="1212.0" cy="590.0" r="2.1" fill="#cc3a44" fill-opacity="0.19"/>
<circle cx="1317.4" cy="642.1" r="2.1" fill="#cc3a44" fill-opacity="0.19"/>
<circle cx="523.6" cy="331.2" r="2.1" fill="#4f7bb3" fill-opacity="0.19"/>
<circle cx="1011.1" cy="543.9" r="2.1" fill="#cc3a44" fill-opacity="0.19"/>
<circle cx="1105.5" cy="585.6" r="2.1" fill="#cc3a44" fill-opacity="0.19"/>
<circle cx="828.7" cy="426.7" r="2.1" fill="#4f7bb3" fill-opacity="0.19"/>
<circle cx="1142.6" cy="586.6" r="2.1" fill="#cc3a44" fill-opacity="0.19"/>
<circle cx="1219.2" cy="640.1" r="2.1" fill="#cc3a44" fill-opacity="0.19"/>
<circle cx="1315.0" cy="650.8" r="2.1" fill="#cc3a44" fill-opacity="0.19"/>
<circle cx="1312.8" cy="657.7" r="2.1" fill="#cc3a44" fill-opacity="0.19"/>
<circle cx="1129.4" cy="598.0" r="2.1" fill="#cc3a44" fill-opacity="0.19"/>
<circle cx="1232.4" cy="637.0" r="2.1" fill="#cc3a44" fill-opacity="0.19"/>
<circle cx="1338.0" cy="650.0" r="2.1" fill="#cc3a44" fill-opacity="0.19"/>
<circle cx="1328.8" cy="648.9" r="2.1" fill="#cc3a44" fill-opacity="0.19"/>
<circle cx="514.9" cy="304.3" r="2.1" fill="#cc3a44" fill-opacity="0.19"/>
<circle cx="1120.2" cy="565.4" r="2.1" fill="#cc3a44" fill-opacity="0.19"/>
<circle cx="836.1" cy="459.0" r="2.1" fill="#4f7bb3" fill-opacity="0.19"/>
<circle cx="707.1" cy="443.2" r="2.1" fill="#cc3a44" fill-opacity="0.19"/>
<circle cx="1140.5" cy="575.5" r="2.1" fill="#cc3a44" fill-opacity="0.19"/>
<circle cx="1030.6" cy="334.9" r="2.1" fill="#4f7bb3" fill-opacity="0.19"/>
<circle cx="1320.6" cy="619.1" r="2.1" fill="#cc3a44" fill-opacity="0.19"/>
<circle cx="1006.5" cy="461.6" r="2.1" fill="#cc3a44" fill-opacity="0.19"/>
<circle cx="1328.0" cy="640.2" r="2.1" fill="#cc3a44" fill-opacity="0.19"/>
<circle cx="532.3" cy="309.9" r="2.1" fill="#cc3a44" fill-opacity="0.19"/>
<circle cx="1130.7" cy="580.5" r="2.1" fill="#cc3a44" fill-opacity="0.19"/>
<circle cx="1026.5" cy="521.9" r="2.1" fill="#cc3a44" fill-opacity="0.19"/>
<circle cx="1220.3" cy="640.0" r="2.1" fill="#cc3a44" fill-opacity="0.19"/>
<circle cx="1114.6" cy="574.8" r="2.1" fill="#cc3a44" fill-opacity="0.19"/>
<circle cx="1129.8" cy="588.9" r="2.1" fill="#cc3a44" fill-opacity="0.19"/>
<circle cx="1235.3" cy="629.5" r="2.1" fill="#cc3a44" fill-opacity="0.19"/>
<circle cx="1103.6" cy="597.3" r="2.1" fill="#cc3a44" fill-opacity="0.19"/>
<circle cx="432.1" cy="149.9" r="2.1" fill="#cc3a44" fill-opacity="0.19"/>
<circle cx="1128.2" cy="597.1" r="2.1" fill="#cc3a44" fill-opacity="0.19"/>
<circle cx="1310.4" cy="657.9" r="2.1" fill="#cc3a44" fill-opacity="0.19"/>
<circle cx="1220.3" cy="632.9" r="2.1" fill="#cc3a44" fill-opacity="0.19"/>
<circle cx="501.3" cy="401.8" r="2.1" fill="#cc3a44" fill-opacity="0.19"/>
<circle cx="1343.2" cy="652.1" r="2.1" fill="#cc3a44" fill-opacity="0.19"/>
<circle cx="211.7" cy="321.9" r="2.1" fill="#4f7bb3" fill-opacity="0.19"/>
<circle cx="1122.5" cy="596.7" r="2.1" fill="#cc3a44" fill-opacity="0.19"/>
<circle cx="933.4" cy="350.3" r="2.1" fill="#4f7bb3" fill-opacity="0.19"/>
<circle cx="718.0" cy="352.0" r="2.1" fill="#4f7bb3" fill-opacity="0.19"/>
<circle cx="639.0" cy="345.9" r="2.1" fill="#cc3a44" fill-opacity="0.19"/>
<circle cx="719.1" cy="457.2" r="2.1" fill="#4f7bb3" fill-opacity="0.19"/>
<circle cx="1018.5" cy="542.9" r="2.1" fill="#cc3a44" fill-opacity="0.19"/>
<circle cx="628.7" cy="428.2" r="2.1" fill="#cc3a44" fill-opacity="0.19"/>
<circle cx="432.4" cy="374.9" r="2.1" fill="#cc3a44" fill-opacity="0.19"/>
<circle cx="1036.8" cy="424.1" r="2.1" fill="#cc3a44" fill-opacity="0.19"/>
<circle cx="1311.8" cy="653.2" r="2.1" fill="#cc3a44" fill-opacity="0.19"/>
<circle cx="1108.8" cy="578.6" r="2.1" fill="#cc3a44" fill-opacity="0.19"/>
<circle cx="1232.9" cy="618.3" r="2.1" fill="#cc3a44" fill-opacity="0.19"/>
<circle cx="1219.4" cy="629.6" r="2.1" fill="#cc3a44" fill-opacity="0.19"/>
<circle cx="1023.5" cy="454.5" r="2.1" fill="#cc3a44" fill-opacity="0.19"/>
<circle cx="396.8" cy="285.6" r="2.1" fill="#cc3a44" fill-opacity="0.19"/>
<circle cx="1139.5" cy="595.0" r="2.1" fill="#cc3a44" fill-opacity="0.19"/>
<circle cx="202.6" cy="255.9" r="2.1" fill="#4f7bb3" fill-opacity="0.19"/>
<circle cx="1337.3" cy="649.3" r="2.1" fill="#cc3a44" fill-opacity="0.19"/>
<circle cx="720.6" cy="464.6" r="2.1" fill="#cc3a44" fill-opacity="0.19"/>
<circle cx="1030.3" cy="462.3" r="2.1" fill="#cc3a44" fill-opacity="0.19"/>
<circle cx="629.7" cy="347.6" r="2.1" fill="#cc3a44" fill-opacity="0.19"/>
<circle cx="191.8" cy="218.3" r="2.1" fill="#cc3a44" fill-opacity="0.19"/>
<circle cx="218.9" cy="293.8" r="2.1" fill="#cc3a44" fill-opacity="0.19"/>
<circle cx="1319.9" cy="634.3" r="2.1" fill="#cc3a44" fill-opacity="0.19"/>
<circle cx="922.6" cy="359.6" r="2.1" fill="#4f7bb3" fill-opacity="0.19"/>
<circle cx="1109.5" cy="599.2" r="2.1" fill="#cc3a44" fill-opacity="0.19"/>
<circle cx="1339.8" cy="649.9" r="2.1" fill="#cc3a44" fill-opacity="0.19"/>
<circle cx="1040.1" cy="532.6" r="2.1" fill="#cc3a44" fill-opacity="0.19"/>
<circle cx="219.6" cy="300.1" r="2.1" fill="#cc3a44" fill-opacity="0.19"/>
<circle cx="1017.9" cy="481.0" r="2.1" fill="#cc3a44" fill-opacity="0.19"/>
<circle cx="1032.8" cy="482.0" r="2.1" fill="#cc3a44" fill-opacity="0.19"/>
<circle cx="603.9" cy="367.0" r="2.1" fill="#cc3a44" fill-opacity="0.19"/>
<circle cx="1029.1" cy="490.8" r="2.1" fill="#cc3a44" fill-opacity="0.19"/>
<circle cx="226.0" cy="344.4" r="2.1" fill="#cc3a44" fill-opacity="0.19"/>
<circle cx="1017.5" cy="407.7" r="2.1" fill="#cc3a44" fill-opacity="0.19"/>
<circle cx="512.0" cy="373.6" r="2.1" fill="#4f7bb3" fill-opacity="0.19"/>
<circle cx="726.0" cy="450.3" r="2.1" fill="#cc3a44" fill-opacity="0.19"/>
<circle cx="320.9" cy="266.8" r="2.1" fill="#cc3a44" fill-opacity="0.19"/>
<circle cx="799.9" cy="438.4" r="2.1" fill="#cc3a44" fill-opacity="0.19"/>
<circle cx="712.7" cy="413.1" r="2.1" fill="#4f7bb3" fill-opacity="0.19"/>
<circle cx="1306.0" cy="644.2" r="2.1" fill="#cc3a44" fill-opacity="0.19"/>
<circle cx="805.2" cy="430.0" r="2.1" fill="#4f7bb3" fill-opacity="0.19"/>
<circle cx="1325.6" cy="629.7" r="2.1" fill="#cc3a44" fill-opacity="0.19"/>
<circle cx="1312.1" cy="656.6" r="2.1" fill="#cc3a44" fill-opacity="0.19"/>
<circle cx="604.0" cy="465.1" r="2.1" fill="#cc3a44" fill-opacity="0.19"/>
<circle cx="1118.7" cy="598.1" r="2.1" fill="#cc3a44" fill-opacity="0.19"/>
<circle cx="1216.7" cy="640.2" r="2.1" fill="#cc3a44" fill-opacity="0.19"/>
<circle cx="511.0" cy="301.8" r="2.1" fill="#cc3a44" fill-opacity="0.19"/>
<circle cx="528.1" cy="324.0" r="2.1" fill="#cc3a44" fill-opacity="0.19"/>
<circle cx="1031.8" cy="562.9" r="2.1" fill="#cc3a44" fill-opacity="0.19"/>
<circle cx="420.5" cy="267.9" r="2.1" fill="#cc3a44" fill-opacity="0.19"/>
<circle cx="1321.7" cy="653.8" r="2.1" fill="#cc3a44" fill-opacity="0.19"/>
<circle cx="812.7" cy="450.2" r="2.1" fill="#4f7bb3" fill-opacity="0.19"/>
<circle cx="1036.7" cy="442.0" r="2.1" fill="#cc3a44" fill-opacity="0.19"/>
<circle cx="609.9" cy="328.9" r="2.1" fill="#cc3a44" fill-opacity="0.19"/>
<circle cx="1044.6" cy="375.3" r="2.1" fill="#cc3a44" fill-opacity="0.19"/>
<circle cx="1139.1" cy="598.8" r="2.1" fill="#cc3a44" fill-opacity="0.19"/>
<circle cx="504.1" cy="338.9" r="2.1" fill="#cc3a44" fill-opacity="0.19"/>
<circle cx="407.9" cy="294.7" r="2.1" fill="#cc3a44" fill-opacity="0.19"/>
<circle cx="521.3" cy="223.0" r="2.1" fill="#4f7bb3" fill-opacity="0.19"/>
<circle cx="508.2" cy="228.0" r="2.1" fill="#4f7bb3" fill-opacity="0.19"/>
<circle cx="1241.3" cy="639.6" r="2.1" fill="#cc3a44" fill-opacity="0.19"/>
<circle cx="1134.8" cy="598.4" r="2.1" fill="#cc3a44" fill-opacity="0.19"/>
<circle cx="1344.9" cy="649.5" r="2.1" fill="#cc3a44" fill-opacity="0.19"/>
<circle cx="525.2" cy="235.8" r="2.1" fill="#4f7bb3" fill-opacity="0.19"/>
<circle cx="1325.7" cy="625.8" r="2.1" fill="#cc3a44" fill-opacity="0.19"/>
<circle cx="1334.7" cy="629.3" r="2.1" fill="#cc3a44" fill-opacity="0.19"/>
<circle cx="917.4" cy="437.7" r="2.1" fill="#cc3a44" fill-opacity="0.19"/>
<circle cx="1113.2" cy="591.4" r="2.1" fill="#cc3a44" fill-opacity="0.19"/>
<circle cx="829.3" cy="452.0" r="2.1" fill="#cc3a44" fill-opacity="0.19"/>
<circle cx="808.1" cy="419.8" r="2.1" fill="#4f7bb3" fill-opacity="0.19"/>
<circle cx="1004.5" cy="552.5" r="2.1" fill="#cc3a44" fill-opacity="0.19"/>
<circle cx="1026.8" cy="524.0" r="2.1" fill="#cc3a44" fill-opacity="0.19"/>
<circle cx="1323.4" cy="648.7" r="2.1" fill="#cc3a44" fill-opacity="0.19"/>
<circle cx="721.0" cy="441.4" r="2.1" fill="#cc3a44" fill-opacity="0.19"/>
<circle cx="1321.3" cy="649.9" r="2.1" fill="#cc3a44" fill-opacity="0.19"/>
<circle cx="1317.2" cy="649.4" r="2.1" fill="#cc3a44" fill-opacity="0.19"/>
<circle cx="933.7" cy="477.2" r="2.1" fill="#cc3a44" fill-opacity="0.19"/>
<circle cx="1309.4" cy="632.0" r="2.1" fill="#cc3a44" fill-opacity="0.19"/>
<circle cx="533.3" cy="296.7" r="2.1" fill="#4f7bb3" fill-opacity="0.19"/>
<circle cx="1123.9" cy="590.3" r="2.1" fill="#cc3a44" fill-opacity="0.19"/>
<circle cx="1212.5" cy="639.6" r="2.1" fill="#cc3a44" fill-opacity="0.19"/>
<circle cx="307.8" cy="271.6" r="2.1" fill="#cc3a44" fill-opacity="0.19"/>
<circle cx="1208.5" cy="634.5" r="2.1" fill="#cc3a44" fill-opacity="0.19"/>
<circle cx="1204.7" cy="628.5" r="2.1" fill="#cc3a44" fill-opacity="0.19"/>
<circle cx="617.5" cy="416.6" r="2.1" fill="#cc3a44" fill-opacity="0.19"/>
<circle cx="293.2" cy="288.9" r="2.1" fill="#cc3a44" fill-opacity="0.19"/>
<circle cx="1313.8" cy="630.9" r="2.1" fill="#cc3a44" fill-opacity="0.19"/>
<circle cx="293.2" cy="303.0" r="2.1" fill="#cc3a44" fill-opacity="0.19"/>
<circle cx="1004.7" cy="547.1" r="2.1" fill="#cc3a44" fill-opacity="0.19"/>
<circle cx="1141.0" cy="577.0" r="2.1" fill="#cc3a44" fill-opacity="0.19"/>
<circle cx="820.0" cy="501.4" r="2.1" fill="#4f7bb3" fill-opacity="0.19"/>
<circle cx="1217.3" cy="638.5" r="2.1" fill="#cc3a44" fill-opacity="0.19"/>
<circle cx="1037.8" cy="452.2" r="2.1" fill="#cc3a44" fill-opacity="0.19"/>
<circle cx="508.7" cy="376.8" r="2.1" fill="#cc3a44" fill-opacity="0.19"/>
<circle cx="1005.3" cy="380.8" r="2.1" fill="#cc3a44" fill-opacity="0.19"/>
<circle cx="508.7" cy="346.5" r="2.1" fill="#4f7bb3" fill-opacity="0.19"/>
<circle cx="1028.6" cy="394.3" r="2.1" fill="#cc3a44" fill-opacity="0.19"/>
<circle cx="1025.2" cy="433.2" r="2.1" fill="#cc3a44" fill-opacity="0.19"/>
<circle cx="1044.6" cy="387.2" r="2.1" fill="#cc3a44" fill-opacity="0.19"/>
<circle cx="1123.7" cy="597.5" r="2.1" fill="#cc3a44" fill-opacity="0.19"/>
<circle cx="1129.8" cy="599.6" r="2.1" fill="#cc3a44" fill-opacity="0.19"/>
<circle cx="1038.7" cy="379.0" r="2.1" fill="#cc3a44" fill-opacity="0.19"/>
<circle cx="704.0" cy="488.2" r="2.1" fill="#4f7bb3" fill-opacity="0.19"/>
<circle cx="1139.7" cy="585.0" r="2.1" fill="#cc3a44" fill-opacity="0.19"/>
<circle cx="1240.4" cy="639.9" r="2.1" fill="#cc3a44" fill-opacity="0.19"/>
<circle cx="1118.7" cy="599.7" r="2.1" fill="#cc3a44" fill-opacity="0.19"/>
<circle cx="1213.6" cy="641.7" r="2.1" fill="#cc3a44" fill-opacity="0.19"/>
<circle cx="1231.8" cy="631.3" r="2.1" fill="#cc3a44" fill-opacity="0.19"/>
<circle cx="931.7" cy="374.7" r="2.1" fill="#4f7bb3" fill-opacity="0.19"/>
<circle cx="503.5" cy="396.5" r="2.1" fill="#4f7bb3" fill-opacity="0.19"/>
<circle cx="1033.2" cy="436.4" r="2.1" fill="#cc3a44" fill-opacity="0.19"/>
<circle cx="1206.9" cy="639.6" r="2.1" fill="#cc3a44" fill-opacity="0.19"/>
<circle cx="1014.5" cy="534.3" r="2.1" fill="#cc3a44" fill-opacity="0.19"/>
<circle cx="1006.0" cy="507.9" r="2.1" fill="#cc3a44" fill-opacity="0.19"/>
<circle cx="510.3" cy="328.6" r="2.1" fill="#4f7bb3" fill-opacity="0.19"/>
<circle cx="1314.9" cy="658.1" r="2.1" fill="#cc3a44" fill-opacity="0.19"/>
<circle cx="297.1" cy="317.3" r="2.1" fill="#cc3a44" fill-opacity="0.19"/>
<circle cx="1026.7" cy="474.9" r="2.1" fill="#cc3a44" fill-opacity="0.19"/>
<circle cx="1220.2" cy="637.7" r="2.1" fill="#cc3a44" fill-opacity="0.19"/>
<circle cx="1027.9" cy="464.3" r="2.1" fill="#cc3a44" fill-opacity="0.19"/>
<circle cx="1105.4" cy="597.1" r="2.1" fill="#cc3a44" fill-opacity="0.19"/>
<circle cx="1119.7" cy="596.3" r="2.1" fill="#cc3a44" fill-opacity="0.19"/>
<circle cx="1003.9" cy="347.9" r="2.1" fill="#cc3a44" fill-opacity="0.19"/>
<circle cx="515.3" cy="299.0" r="2.1" fill="#4f7bb3" fill-opacity="0.19"/>
<circle cx="424.0" cy="290.7" r="2.1" fill="#cc3a44" fill-opacity="0.19"/>
<circle cx="199.0" cy="203.6" r="2.1" fill="#cc3a44" fill-opacity="0.19"/>
<circle cx="1125.5" cy="589.2" r="2.1" fill="#cc3a44" fill-opacity="0.19"/>
<circle cx="807.3" cy="416.7" r="2.1" fill="#cc3a44" fill-opacity="0.19"/>
<circle cx="413.5" cy="342.8" r="2.1" fill="#cc3a44" fill-opacity="0.19"/>
<circle cx="1131.7" cy="585.2" r="2.1" fill="#cc3a44" fill-opacity="0.19"/>
<circle cx="1232.2" cy="635.8" r="2.1" fill="#cc3a44" fill-opacity="0.19"/>
<circle cx="517.3" cy="322.8" r="2.1" fill="#4f7bb3" fill-opacity="0.19"/>
<circle cx="1018.7" cy="532.8" r="2.1" fill="#cc3a44" fill-opacity="0.19"/>
<circle cx="1035.0" cy="345.0" r="2.1" fill="#cc3a44" fill-opacity="0.19"/>
<circle cx="520.0" cy="307.6" r="2.1" fill="#4f7bb3" fill-opacity="0.19"/>
<circle cx="1135.0" cy="600.1" r="2.1" fill="#cc3a44" fill-opacity="0.19"/>
<circle cx="1209.2" cy="638.9" r="2.1" fill="#cc3a44" fill-opacity="0.19"/>
<circle cx="719.9" cy="417.4" r="2.1" fill="#cc3a44" fill-opacity="0.19"/>
<circle cx="929.2" cy="413.2" r="2.1" fill="#cc3a44" fill-opacity="0.19"/>
<circle cx="512.0" cy="284.6" r="2.1" fill="#4f7bb3" fill-opacity="0.19"/>
<circle cx="1232.3" cy="630.8" r="2.1" fill="#cc3a44" fill-opacity="0.19"/>
<circle cx="1339.9" cy="652.5" r="2.1" fill="#cc3a44" fill-opacity="0.19"/>
<circle cx="719.1" cy="458.7" r="2.1" fill="#cc3a44" fill-opacity="0.19"/>
<circle cx="323.7" cy="304.6" r="2.1" fill="#cc3a44" fill-opacity="0.19"/>
<circle cx="209.0" cy="351.6" r="2.1" fill="#cc3a44" fill-opacity="0.19"/>
<circle cx="1138.2" cy="599.5" r="2.1" fill="#cc3a44" fill-opacity="0.19"/>
<circle cx="1131.7" cy="558.0" r="2.1" fill="#cc3a44" fill-opacity="0.19"/>
<circle cx="1338.1" cy="620.1" r="2.1" fill="#cc3a44" fill-opacity="0.19"/>
<circle cx="507.8" cy="356.8" r="2.1" fill="#cc3a44" fill-opacity="0.19"/>
<circle cx="1117.0" cy="589.1" r="2.1" fill="#cc3a44" fill-opacity="0.19"/>
<circle cx="1105.1" cy="590.0" r="2.1" fill="#cc3a44" fill-opacity="0.19"/>
<circle cx="522.5" cy="352.1" r="2.1" fill="#cc3a44" fill-opacity="0.19"/>
<circle cx="532.0" cy="353.7" r="2.1" fill="#4f7bb3" fill-opacity="0.19"/>
<circle cx="1343.8" cy="653.4" r="2.1" fill="#cc3a44" fill-opacity="0.19"/>
<circle cx="1110.2" cy="590.8" r="2.1" fill="#cc3a44" fill-opacity="0.19"/>
<circle cx="1323.9" cy="648.9" r="2.1" fill="#cc3a44" fill-opacity="0.19"/>
<circle cx="1329.1" cy="650.8" r="2.1" fill="#cc3a44" fill-opacity="0.19"/>
<circle cx="721.4" cy="436.9" r="2.1" fill="#cc3a44" fill-opacity="0.19"/>
<circle cx="1034.5" cy="446.3" r="2.1" fill="#cc3a44" fill-opacity="0.19"/>
<circle cx="1020.0" cy="574.4" r="2.1" fill="#cc3a44" fill-opacity="0.19"/>
<circle cx="1102.0" cy="528.4" r="2.1" fill="#cc3a44" fill-opacity="0.19"/>
<circle cx="1327.1" cy="657.4" r="2.1" fill="#cc3a44" fill-opacity="0.19"/>
<circle cx="1104.4" cy="592.3" r="2.1" fill="#cc3a44" fill-opacity="0.19"/>
<circle cx="1118.6" cy="594.4" r="2.1" fill="#cc3a44" fill-opacity="0.19"/>
<circle cx="719.3" cy="485.7" r="2.1" fill="#4f7bb3" fill-opacity="0.19"/>
<circle cx="1035.1" cy="451.7" r="2.1" fill="#cc3a44" fill-opacity="0.19"/>
<circle cx="1341.8" cy="651.3" r="2.1" fill="#cc3a44" fill-opacity="0.19"/>
<circle cx="1335.2" cy="628.2" r="2.1" fill="#cc3a44" fill-opacity="0.19"/>
<circle cx="1011.7" cy="512.6" r="2.1" fill="#cc3a44" fill-opacity="0.19"/>
<circle cx="621.0" cy="359.6" r="2.1" fill="#cc3a44" fill-opacity="0.19"/>
<circle cx="913.5" cy="345.3" r="2.1" fill="#4f7bb3" fill-opacity="0.19"/>
<circle cx="831.7" cy="440.9" r="2.1" fill="#cc3a44" fill-opacity="0.19"/>
<circle cx="1218.5" cy="638.9" r="2.1" fill="#cc3a44" fill-opacity="0.19"/>
<circle cx="719.9" cy="440.8" r="2.1" fill="#4f7bb3" fill-opacity="0.19"/>
<circle cx="1318.0" cy="598.0" r="2.1" fill="#cc3a44" fill-opacity="0.19"/>
<circle cx="1342.8" cy="642.0" r="2.1" fill="#cc3a44" fill-opacity="0.19"/>
<circle cx="1035.3" cy="492.0" r="2.1" fill="#cc3a44" fill-opacity="0.19"/>
<circle cx="801.0" cy="492.4" r="2.1" fill="#cc3a44" fill-opacity="0.19"/>
<circle cx="401.8" cy="328.7" r="2.1" fill="#cc3a44" fill-opacity="0.19"/>
<circle cx="921.0" cy="424.2" r="2.1" fill="#cc3a44" fill-opacity="0.19"/>
<circle cx="608.8" cy="466.0" r="2.1" fill="#cc3a44" fill-opacity="0.19"/>
<circle cx="834.2" cy="438.7" r="2.1" fill="#4f7bb3" fill-opacity="0.19"/>
<circle cx="1013.5" cy="534.7" r="2.1" fill="#cc3a44" fill-opacity="0.19"/>
<circle cx="1014.2" cy="467.6" r="2.1" fill="#cc3a44" fill-opacity="0.19"/>
<circle cx="1324.1" cy="658.6" r="2.1" fill="#cc3a44" fill-opacity="0.19"/>
<circle cx="434.2" cy="338.2" r="2.1" fill="#cc3a44" fill-opacity="0.19"/>
<circle cx="418.3" cy="345.8" r="2.1" fill="#cc3a44" fill-opacity="0.19"/>
<circle cx="1022.9" cy="404.0" r="2.1" fill="#cc3a44" fill-opacity="0.19"/>
<circle cx="1141.2" cy="597.5" r="2.1" fill="#cc3a44" fill-opacity="0.19"/>
<circle cx="1310.0" cy="577.2" r="2.1" fill="#cc3a44" fill-opacity="0.19"/>
<circle cx="712.5" cy="450.4" r="2.1" fill="#4f7bb3" fill-opacity="0.19"/>
<circle cx="1102.1" cy="590.1" r="2.1" fill="#cc3a44" fill-opacity="0.19"/>
<circle cx="803.8" cy="436.1" r="2.1" fill="#cc3a44" fill-opacity="0.19"/>
<circle cx="824.9" cy="472.1" r="2.1" fill="#4f7bb3" fill-opacity="0.19"/>
<circle cx="1134.3" cy="598.9" r="2.1" fill="#cc3a44" fill-opacity="0.19"/>
<circle cx="1022.9" cy="508.3" r="2.1" fill="#cc3a44" fill-opacity="0.19"/>
<circle cx="720.0" cy="454.3" r="2.1" fill="#4f7bb3" fill-opacity="0.19"/>
<circle cx="197.9" cy="289.8" r="2.1" fill="#cc3a44" fill-opacity="0.19"/>
<circle cx="1018.3" cy="514.5" r="2.1" fill="#cc3a44" fill-opacity="0.19"/>
<circle cx="1104.0" cy="590.3" r="2.1" fill="#cc3a44" fill-opacity="0.19"/>
<circle cx="508.9" cy="367.1" r="2.1" fill="#4f7bb3" fill-opacity="0.19"/>
<circle cx="727.2" cy="487.9" r="2.1" fill="#4f7bb3" fill-opacity="0.19"/>
<circle cx="1041.0" cy="535.3" r="2.1" fill="#cc3a44" fill-opacity="0.19"/>
<circle cx="1206.1" cy="632.7" r="2.1" fill="#cc3a44" fill-opacity="0.19"/>
<circle cx="725.3" cy="385.9" r="2.1" fill="#4f7bb3" fill-opacity="0.19"/>
<circle cx="1313.2" cy="648.3" r="2.1" fill="#cc3a44" fill-opacity="0.19"/>
<circle cx="1230.1" cy="634.5" r="2.1" fill="#cc3a44" fill-opacity="0.19"/>
<circle cx="1332.3" cy="649.2" r="2.1" fill="#cc3a44" fill-opacity="0.19"/>
<circle cx="1113.7" cy="598.5" r="2.1" fill="#cc3a44" fill-opacity="0.19"/>
<circle cx="604.3" cy="271.8" r="2.1" fill="#cc3a44" fill-opacity="0.19"/>
<circle cx="1205.1" cy="639.4" r="2.1" fill="#cc3a44" fill-opacity="0.19"/>
<circle cx="1129.6" cy="600.0" r="2.1" fill="#cc3a44" fill-opacity="0.19"/>
<circle cx="319.4" cy="356.8" r="2.1" fill="#cc3a44" fill-opacity="0.19"/>
<circle cx="1033.8" cy="541.0" r="2.1" fill="#cc3a44" fill-opacity="0.19"/>
<circle cx="431.8" cy="305.8" r="2.1" fill="#cc3a44" fill-opacity="0.19"/>
<circle cx="423.8" cy="229.9" r="2.1" fill="#cc3a44" fill-opacity="0.19"/>
<circle cx="1342.7" cy="632.7" r="2.1" fill="#cc3a44" fill-opacity="0.19"/>
<circle cx="331.6" cy="288.5" r="2.1" fill="#cc3a44" fill-opacity="0.19"/>
<circle cx="1138.5" cy="599.0" r="2.1" fill="#cc3a44" fill-opacity="0.19"/>
<circle cx="802.7" cy="406.9" r="2.1" fill="#cc3a44" fill-opacity="0.19"/>
<circle cx="1007.2" cy="494.8" r="2.1" fill="#cc3a44" fill-opacity="0.19"/>
<circle cx="1130.6" cy="588.4" r="2.1" fill="#cc3a44" fill-opacity="0.19"/>
<circle cx="1311.0" cy="592.9" r="2.1" fill="#cc3a44" fill-opacity="0.19"/>
<circle cx="1010.4" cy="318.7" r="2.1" fill="#4f7bb3" fill-opacity="0.19"/>
<circle cx="410.1" cy="305.5" r="2.1" fill="#cc3a44" fill-opacity="0.19"/>
<circle cx="1212.9" cy="641.6" r="2.1" fill="#cc3a44" fill-opacity="0.19"/>
<circle cx="1122.1" cy="597.3" r="2.1" fill="#cc3a44" fill-opacity="0.19"/>
<circle cx="327.9" cy="320.8" r="2.1" fill="#cc3a44" fill-opacity="0.19"/>
<circle cx="810.7" cy="304.0" r="2.1" fill="#cc3a44" fill-opacity="0.19"/>
<circle cx="1345.6" cy="625.4" r="2.1" fill="#cc3a44" fill-opacity="0.19"/>
<circle cx="837.4" cy="334.9" r="2.1" fill="#cc3a44" fill-opacity="0.19"/>
<circle cx="610.6" cy="469.1" r="2.1" fill="#cc3a44" fill-opacity="0.19"/>
<circle cx="1133.4" cy="587.5" r="2.1" fill="#cc3a44" fill-opacity="0.19"/>
<circle cx="711.1" cy="449.4" r="2.1" fill="#cc3a44" fill-opacity="0.19"/>
<circle cx="1030.1" cy="571.3" r="2.1" fill="#cc3a44" fill-opacity="0.19"/>
<circle cx="1031.2" cy="458.1" r="2.1" fill="#cc3a44" fill-opacity="0.19"/>
<circle cx="1129.9" cy="522.3" r="2.1" fill="#cc3a44" fill-opacity="0.19"/>
<circle cx="1318.4" cy="648.2" r="2.1" fill="#cc3a44" fill-opacity="0.19"/>
<circle cx="723.4" cy="387.1" r="2.1" fill="#4f7bb3" fill-opacity="0.19"/>
<circle cx="519.5" cy="236.6" r="2.1" fill="#cc3a44" fill-opacity="0.19"/>
<circle cx="305.4" cy="274.0" r="2.1" fill="#cc3a44" fill-opacity="0.19"/>
<circle cx="1039.5" cy="583.1" r="2.1" fill="#cc3a44" fill-opacity="0.19"/>
<circle cx="1124.2" cy="599.6" r="2.1" fill="#cc3a44" fill-opacity="0.19"/>
<circle cx="527.7" cy="300.8" r="2.1" fill="#4f7bb3" fill-opacity="0.19"/>
<circle cx="1143.5" cy="590.3" r="2.1" fill="#cc3a44" fill-opacity="0.19"/>
<circle cx="410.0" cy="300.7" r="2.1" fill="#cc3a44" fill-opacity="0.19"/>
<circle cx="1314.0" cy="635.7" r="2.1" fill="#cc3a44" fill-opacity="0.19"/>
<circle cx="323.9" cy="267.4" r="2.1" fill="#cc3a44" fill-opacity="0.19"/>
<circle cx="1142.7" cy="580.7" r="2.1" fill="#cc3a44" fill-opacity="0.19"/>
<circle cx="615.5" cy="418.1" r="2.1" fill="#cc3a44" fill-opacity="0.19"/>
<circle cx="1039.6" cy="398.3" r="2.1" fill="#cc3a44" fill-opacity="0.19"/>
<circle cx="531.3" cy="315.5" r="2.1" fill="#cc3a44" fill-opacity="0.19"/>
<circle cx="224.2" cy="310.0" r="2.1" fill="#4f7bb3" fill-opacity="0.19"/>
<circle cx="231.7" cy="313.4" r="2.1" fill="#cc3a44" fill-opacity="0.19"/>
</g>
<rect x="76.7" y="112.2" width="69.4" height="6.8" fill="#dc7c7c"/>
<rect x="76.7" y="115.6" width="69.4" height="3.4" fill="#b82e31"/>
<line x1="193.4" y1="241.3" x2="193.4" y2="289.8" stroke="#c63f43" stroke-width="1.5"/>
<line x1="193.4" y1="344.6" x2="193.4" y2="392.4" stroke="#c63f43" stroke-width="1.5"/>
<rect x="176.4" y="289.8" width="34.0" height="54.8" fill="none" stroke="#c63f43" stroke-width="1.5"/>
<line x1="176.4" y1="316.5" x2="210.4" y2="316.5" stroke="#b82e31" stroke-width="2.8"/>
<line x1="231.6" y1="218.8" x2="231.6" y2="265.2" stroke="#3f70a6" stroke-width="1.5"/>
<line x1="231.6" y1="297.8" x2="231.6" y2="329.1" stroke="#3f70a6" stroke-width="1.5"/>
<rect x="214.6" y="265.2" width="34.0" height="32.6" fill="none" stroke="#3f70a6" stroke-width="1.5"/>
<line x1="214.6" y1="281.0" x2="248.6" y2="281.0" stroke="#35669c" stroke-width="2.8"/>
<line x1="313.6" y1="220.8" x2="313.6" y2="274.2" stroke="#c63f43" stroke-width="1.5"/>
<line x1="313.6" y1="322.0" x2="313.6" y2="380.6" stroke="#c63f43" stroke-width="1.5"/>
<rect x="278.9" y="274.2" width="69.4" height="47.8" fill="none" stroke="#c63f43" stroke-width="1.5"/>
<line x1="278.9" y1="300.1" x2="348.3" y2="300.1" stroke="#b82e31" stroke-width="2.8"/>
<line x1="414.8" y1="226.1" x2="414.8" y2="291.1" stroke="#c63f43" stroke-width="1.5"/>
<line x1="414.8" y1="340.2" x2="414.8" y2="397.9" stroke="#c63f43" stroke-width="1.5"/>
<rect x="380.1" y="291.1" width="69.4" height="49.1" fill="none" stroke="#c63f43" stroke-width="1.5"/>
<line x1="380.1" y1="316.9" x2="449.5" y2="316.9" stroke="#b82e31" stroke-width="2.8"/>
<line x1="496.8" y1="223.3" x2="496.8" y2="301.9" stroke="#c63f43" stroke-width="1.5"/>
<line x1="496.8" y1="356.5" x2="496.8" y2="424.0" stroke="#c63f43" stroke-width="1.5"/>
<rect x="479.8" y="301.9" width="34.0" height="54.6" fill="none" stroke="#c63f43" stroke-width="1.5"/>
<line x1="479.8" y1="328.0" x2="513.8" y2="328.0" stroke="#b82e31" stroke-width="2.8"/>
<line x1="535.0" y1="222.4" x2="535.0" y2="282.2" stroke="#3f70a6" stroke-width="1.5"/>
<line x1="535.0" y1="346.4" x2="535.0" y2="401.0" stroke="#3f70a6" stroke-width="1.5"/>
<rect x="518.0" y="282.2" width="34.0" height="64.2" fill="none" stroke="#3f70a6" stroke-width="1.5"/>
<line x1="518.0" y1="304.9" x2="552.0" y2="304.9" stroke="#35669c" stroke-width="2.8"/>
<line x1="597.9" y1="209.2" x2="597.9" y2="336.8" stroke="#c63f43" stroke-width="1.5"/>
<line x1="597.9" y1="427.6" x2="597.9" y2="527.9" stroke="#c63f43" stroke-width="1.5"/>
<rect x="580.9" y="336.8" width="34.0" height="90.8" fill="none" stroke="#c63f43" stroke-width="1.5"/>
<line x1="580.9" y1="384.8" x2="614.9" y2="384.8" stroke="#b82e31" stroke-width="2.8"/>
<line x1="636.1" y1="284.9" x2="636.1" y2="284.9" stroke="#3f70a6" stroke-width="1.5"/>
<line x1="636.1" y1="284.9" x2="636.1" y2="284.9" stroke="#3f70a6" stroke-width="1.5"/>
<rect x="619.1" y="284.9" width="34.0" height="0.0" fill="none" stroke="#3f70a6" stroke-width="1.5"/>
<line x1="619.1" y1="284.9" x2="653.1" y2="284.9" stroke="#35669c" stroke-width="2.8"/>
<line x1="699.0" y1="384.6" x2="699.0" y2="427.8" stroke="#c63f43" stroke-width="1.5"/>
<line x1="699.0" y1="458.5" x2="699.0" y2="471.3" stroke="#c63f43" stroke-width="1.5"/>
<rect x="682.0" y="427.8" width="34.0" height="30.7" fill="none" stroke="#c63f43" stroke-width="1.5"/>
<line x1="682.0" y1="448.9" x2="716.0" y2="448.9" stroke="#b82e31" stroke-width="2.8"/>
<line x1="737.2" y1="373.3" x2="737.2" y2="419.0" stroke="#3f70a6" stroke-width="1.5"/>
<line x1="737.2" y1="451.7" x2="737.2" y2="493.8" stroke="#3f70a6" stroke-width="1.5"/>
<rect x="720.2" y="419.0" width="34.0" height="32.7" fill="none" stroke="#3f70a6" stroke-width="1.5"/>
<line x1="720.2" y1="436.1" x2="754.2" y2="436.1" stroke="#35669c" stroke-width="2.8"/>
<line x1="800.1" y1="318.1" x2="800.1" y2="408.9" stroke="#c63f43" stroke-width="1.5"/>
<line x1="800.1" y1="473.2" x2="800.1" y2="504.9" stroke="#c63f43" stroke-width="1.5"/>
<rect x="783.1" y="408.9" width="34.0" height="64.3" fill="none" stroke="#c63f43" stroke-width="1.5"/>
<line x1="783.1" y1="439.0" x2="817.1" y2="439.0" stroke="#b82e31" stroke-width="2.8"/>
<line x1="838.3" y1="343.6" x2="838.3" y2="411.3" stroke="#3f70a6" stroke-width="1.5"/>
<line x1="838.3" y1="471.8" x2="838.3" y2="511.6" stroke="#3f70a6" stroke-width="1.5"/>
<rect x="821.3" y="411.3" width="34.0" height="60.5" fill="none" stroke="#3f70a6" stroke-width="1.5"/>
<line x1="821.3" y1="446.3" x2="855.3" y2="446.3" stroke="#35669c" stroke-width="2.8"/>
<line x1="901.3" y1="408.3" x2="901.3" y2="442.9" stroke="#c63f43" stroke-width="1.5"/>
<line x1="901.3" y1="471.2" x2="901.3" y2="504.0" stroke="#c63f43" stroke-width="1.5"/>
<rect x="884.3" y="442.9" width="34.0" height="28.3" fill="none" stroke="#c63f43" stroke-width="1.5"/>
<line x1="884.3" y1="457.9" x2="918.3" y2="457.9" stroke="#b82e31" stroke-width="2.8"/>
<line x1="939.5" y1="344.3" x2="939.5" y2="349.6" stroke="#3f70a6" stroke-width="1.5"/>
<line x1="939.5" y1="369.2" x2="939.5" y2="392.2" stroke="#3f70a6" stroke-width="1.5"/>
<rect x="922.5" y="349.6" width="34.0" height="19.6" fill="none" stroke="#3f70a6" stroke-width="1.5"/>
<line x1="922.5" y1="355.3" x2="956.5" y2="355.3" stroke="#35669c" stroke-width="2.8"/>
<line x1="1002.4" y1="343.7" x2="1002.4" y2="454.6" stroke="#c63f43" stroke-width="1.5"/>
<line x1="1002.4" y1="543.5" x2="1002.4" y2="598.7" stroke="#c63f43" stroke-width="1.5"/>
<rect x="985.4" y="454.6" width="34.0" height="88.9" fill="none" stroke="#c63f43" stroke-width="1.5"/>
<line x1="985.4" y1="496.1" x2="1019.4" y2="496.1" stroke="#b82e31" stroke-width="2.8"/>
<line x1="1040.6" y1="316.1" x2="1040.6" y2="319.9" stroke="#3f70a6" stroke-width="1.5"/>
<line x1="1040.6" y1="364.7" x2="1040.6" y2="395.9" stroke="#3f70a6" stroke-width="1.5"/>
<rect x="1023.6" y="319.9" width="34.0" height="44.8" fill="none" stroke="#3f70a6" stroke-width="1.5"/>
<line x1="1023.6" y1="331.7" x2="1057.6" y2="331.7" stroke="#35669c" stroke-width="2.8"/>
<line x1="1122.6" y1="573.7" x2="1122.6" y2="587.0" stroke="#c63f43" stroke-width="1.5"/>
<line x1="1122.6" y1="597.3" x2="1122.6" y2="600.5" stroke="#c63f43" stroke-width="1.5"/>
<rect x="1087.9" y="587.0" width="69.4" height="10.3" fill="none" stroke="#c63f43" stroke-width="1.5"/>
<line x1="1087.9" y1="590.4" x2="1157.3" y2="590.4" stroke="#b82e31" stroke-width="2.8"/>
<line x1="1223.7" y1="626.9" x2="1223.7" y2="633.3" stroke="#c63f43" stroke-width="1.5"/>
<line x1="1223.7" y1="639.8" x2="1223.7" y2="642.0" stroke="#c63f43" stroke-width="1.5"/>
<rect x="1189.0" y="633.3" width="69.4" height="6.5" fill="none" stroke="#c63f43" stroke-width="1.5"/>
<line x1="1189.0" y1="638.0" x2="1258.4" y2="638.0" stroke="#b82e31" stroke-width="2.8"/>
<line x1="1324.8" y1="617.9" x2="1324.8" y2="635.3" stroke="#c63f43" stroke-width="1.5"/>
<line x1="1324.8" y1="650.1" x2="1324.8" y2="662.9" stroke="#c63f43" stroke-width="1.5"/>
<rect x="1290.1" y="635.3" width="69.4" height="14.8" fill="none" stroke="#c63f43" stroke-width="1.5"/>
<line x1="1290.1" y1="648.6" x2="1359.5" y2="648.6" stroke="#b82e31" stroke-width="2.8"/>
<text x="19" y="36" class="title" textLength="1033.5" lengthAdjust="spacingAndGlyphs">Comportamiento del gasto en la elección federal a diputados 2021 (<tspan fill="#3b74b0">ganadores</tspan> y <tspan fill="#c0282d">perdedores</tspan>)</text>
<text x="19.3" y="60.5" class="sub" textLength="248" lengthAdjust="spacingAndGlyphs">Por partido político o coalición</text>
<text transform="translate(31,286.8) rotate(-90)" x="0" y="0" class="ax" textLength="205" lengthAdjust="spacingAndGlyphs">Gasto (millones de pesos)</text>
<text x="1359" y="743.2" text-anchor="end" class="ax" textLength="211" lengthAdjust="spacingAndGlyphs">Coalición o partido político</text>
<text x="19" y="762.6" class="cap" textLength="486.5" lengthAdjust="spacingAndGlyphs">Fuente: elaboración propia con base en información reportada por los partidos al INE</text>
</svg>
</body></html>
